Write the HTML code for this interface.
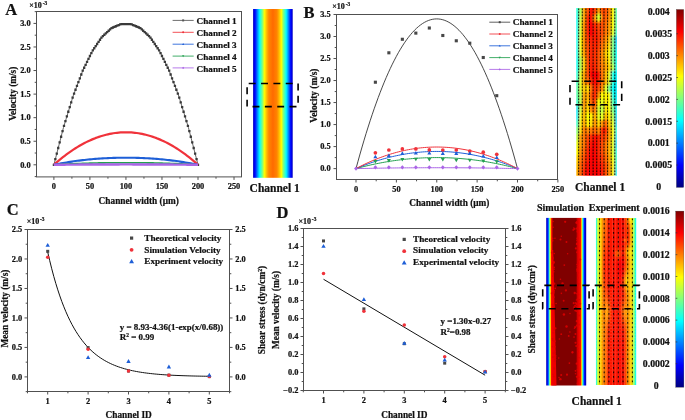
<!DOCTYPE html><html><head><meta charset="utf-8"><style>html,body{margin:0;padding:0;background:#fff;}svg{display:block;will-change:transform;}text{font-family:"Liberation Serif",serif;fill:#111;stroke:#111;stroke-width:0.22px;}</style></head><body>
<svg width="685" height="420" viewBox="0 0 685 420">
<defs>
<filter id="bl1" x="-10%" y="-10%" width="120%" height="120%"><feGaussianBlur stdDeviation="1.3"/></filter>
<filter id="bl2" x="-10%" y="-10%" width="120%" height="120%"><feGaussianBlur stdDeviation="0.7"/></filter>
<linearGradient id="cbar" x1="0" y1="0" x2="0" y2="1"><stop offset="0.000" stop-color="#800000"/><stop offset="0.025" stop-color="#990000"/><stop offset="0.050" stop-color="#b30000"/><stop offset="0.075" stop-color="#cc0000"/><stop offset="0.100" stop-color="#e50000"/><stop offset="0.125" stop-color="#ff0000"/><stop offset="0.150" stop-color="#ff1a00"/><stop offset="0.175" stop-color="#ff3300"/><stop offset="0.200" stop-color="#ff4c00"/><stop offset="0.225" stop-color="#ff6600"/><stop offset="0.250" stop-color="#ff8000"/><stop offset="0.275" stop-color="#ff9900"/><stop offset="0.300" stop-color="#ffb300"/><stop offset="0.325" stop-color="#ffcc00"/><stop offset="0.350" stop-color="#ffe500"/><stop offset="0.375" stop-color="#ffff00"/><stop offset="0.400" stop-color="#e5ff1a"/><stop offset="0.425" stop-color="#ccff33"/><stop offset="0.450" stop-color="#b3ff4c"/><stop offset="0.475" stop-color="#99ff66"/><stop offset="0.500" stop-color="#80ff80"/><stop offset="0.525" stop-color="#66ff99"/><stop offset="0.550" stop-color="#4cffb3"/><stop offset="0.575" stop-color="#33ffcc"/><stop offset="0.600" stop-color="#1affe5"/><stop offset="0.625" stop-color="#00ffff"/><stop offset="0.650" stop-color="#00e5ff"/><stop offset="0.675" stop-color="#00ccff"/><stop offset="0.700" stop-color="#00b3ff"/><stop offset="0.725" stop-color="#0099ff"/><stop offset="0.750" stop-color="#0080ff"/><stop offset="0.775" stop-color="#0066ff"/><stop offset="0.800" stop-color="#004cff"/><stop offset="0.825" stop-color="#0033ff"/><stop offset="0.850" stop-color="#001aff"/><stop offset="0.875" stop-color="#0000ff"/><stop offset="0.900" stop-color="#0000e5"/><stop offset="0.925" stop-color="#0000cc"/><stop offset="0.950" stop-color="#0000b3"/><stop offset="0.975" stop-color="#000099"/><stop offset="1.000" stop-color="#000080"/></linearGradient>
<linearGradient id="hA" x1="0" y1="0" x2="1" y2="0"><stop offset="0.000" stop-color="#0000bd"/><stop offset="0.017" stop-color="#0000d6"/><stop offset="0.033" stop-color="#0000f0"/><stop offset="0.050" stop-color="#000aff"/><stop offset="0.067" stop-color="#0028ff"/><stop offset="0.083" stop-color="#004eff"/><stop offset="0.100" stop-color="#0073ff"/><stop offset="0.117" stop-color="#0098ff"/><stop offset="0.133" stop-color="#00bbff"/><stop offset="0.150" stop-color="#00dfff"/><stop offset="0.167" stop-color="#03fffc"/><stop offset="0.183" stop-color="#21ffde"/><stop offset="0.200" stop-color="#40ffbf"/><stop offset="0.217" stop-color="#5effa1"/><stop offset="0.233" stop-color="#7cff83"/><stop offset="0.250" stop-color="#a6ff59"/><stop offset="0.267" stop-color="#d0ff2f"/><stop offset="0.283" stop-color="#fbff04"/><stop offset="0.300" stop-color="#ffed00"/><stop offset="0.317" stop-color="#ffda00"/><stop offset="0.333" stop-color="#ffc600"/><stop offset="0.350" stop-color="#ffb300"/><stop offset="0.367" stop-color="#ffa300"/><stop offset="0.383" stop-color="#ff9400"/><stop offset="0.400" stop-color="#ff8500"/><stop offset="0.417" stop-color="#ff8000"/><stop offset="0.433" stop-color="#ff7c00"/><stop offset="0.450" stop-color="#ff7800"/><stop offset="0.467" stop-color="#ff7400"/><stop offset="0.483" stop-color="#ff6f00"/><stop offset="0.500" stop-color="#ff6b00"/><stop offset="0.517" stop-color="#ff6f00"/><stop offset="0.533" stop-color="#ff7400"/><stop offset="0.550" stop-color="#ff7800"/><stop offset="0.567" stop-color="#ff7c00"/><stop offset="0.583" stop-color="#ff8000"/><stop offset="0.600" stop-color="#ff8500"/><stop offset="0.617" stop-color="#ff9400"/><stop offset="0.633" stop-color="#ffa300"/><stop offset="0.650" stop-color="#ffb300"/><stop offset="0.667" stop-color="#ffc600"/><stop offset="0.683" stop-color="#ffda00"/><stop offset="0.700" stop-color="#ffed00"/><stop offset="0.717" stop-color="#fbff04"/><stop offset="0.733" stop-color="#d0ff2f"/><stop offset="0.750" stop-color="#a6ff59"/><stop offset="0.767" stop-color="#7cff83"/><stop offset="0.783" stop-color="#5effa1"/><stop offset="0.800" stop-color="#40ffbf"/><stop offset="0.817" stop-color="#21ffde"/><stop offset="0.833" stop-color="#03fffc"/><stop offset="0.850" stop-color="#00dfff"/><stop offset="0.867" stop-color="#00bbff"/><stop offset="0.883" stop-color="#0098ff"/><stop offset="0.900" stop-color="#0073ff"/><stop offset="0.917" stop-color="#004eff"/><stop offset="0.933" stop-color="#0028ff"/><stop offset="0.950" stop-color="#000aff"/><stop offset="0.967" stop-color="#0000f0"/><stop offset="0.983" stop-color="#0000d6"/><stop offset="1.000" stop-color="#0000bd"/></linearGradient>
<linearGradient id="hS" x1="0" y1="0" x2="1" y2="0"><stop offset="0" stop-color="#0000b3"/><stop offset="0.0275" stop-color="#0000f0"/><stop offset="0.0575" stop-color="#0075ff"/><stop offset="0.07" stop-color="#00faff"/><stop offset="0.085" stop-color="#80ff80"/><stop offset="0.098" stop-color="#faff05"/><stop offset="0.115" stop-color="#ff9e00"/><stop offset="0.13" stop-color="#ff2400"/><stop offset="0.15" stop-color="#e50000"/><stop offset="0.17" stop-color="#800000"/><stop offset="0.75" stop-color="#800000"/><stop offset="0.77" stop-color="#c70000"/><stop offset="0.8" stop-color="#e50000"/><stop offset="0.86" stop-color="#ff0f00"/><stop offset="0.875" stop-color="#ff7500"/><stop offset="0.89" stop-color="#fffa00"/><stop offset="0.915" stop-color="#1affe5"/><stop offset="0.935" stop-color="#0080ff"/><stop offset="0.957" stop-color="#000fff"/><stop offset="0.975" stop-color="#0000d1"/><stop offset="1" stop-color="#0000b3"/></linearGradient>
</defs>
<text x="5.2" y="14.9" font-size="16.5" text-anchor="start" font-weight="bold" >A</text>
<text x="29.3" y="7.9" font-size="8.0" font-weight="bold">&#215;10<tspan dx="0.8" dy="-2.7" font-size="5.4">-3</tspan></text>
<rect x="36.5" y="11.5" width="205" height="165.4" fill="none" stroke="#505050" stroke-width="1"/>
<path d="M53.9,176.9v3M89.92,176.9v3M125.95,176.9v3M161.97,176.9v3M198,176.9v3M234.03,176.9v3M71.91,176.9v1.8M107.94,176.9v1.8M143.96,176.9v1.8M179.99,176.9v1.8M216.01,176.9v1.8M36.5,164.8h-3M36.5,141.24h-3M36.5,117.67h-3M36.5,94.11h-3M36.5,70.54h-3M36.5,46.98h-3M36.5,23.41h-3M36.5,176.58h-1.8M36.5,153.02h-1.8M36.5,129.45h-1.8M36.5,105.89h-1.8M36.5,82.32h-1.8M36.5,58.76h-1.8M36.5,35.19h-1.8M36.5,11.63h-1.8" stroke="#505050" stroke-width="1" fill="none"/>
<text x="53.9" y="188.8" font-size="8.4" text-anchor="middle" font-weight="bold" >0</text>
<text x="89.92" y="188.8" font-size="8.4" text-anchor="middle" font-weight="bold" >50</text>
<text x="125.95" y="188.8" font-size="8.4" text-anchor="middle" font-weight="bold" >100</text>
<text x="161.97" y="188.8" font-size="8.4" text-anchor="middle" font-weight="bold" >150</text>
<text x="198" y="188.8" font-size="8.4" text-anchor="middle" font-weight="bold" >200</text>
<text x="234.03" y="188.8" font-size="8.4" text-anchor="middle" font-weight="bold" >250</text>
<text x="30.6" y="167.57" font-size="8.4" text-anchor="end" font-weight="bold" >0.0</text>
<text x="30.6" y="144.01" font-size="8.4" text-anchor="end" font-weight="bold" >0.5</text>
<text x="30.6" y="120.44" font-size="8.4" text-anchor="end" font-weight="bold" >1.0</text>
<text x="30.6" y="96.88" font-size="8.4" text-anchor="end" font-weight="bold" >1.5</text>
<text x="30.6" y="73.31" font-size="8.4" text-anchor="end" font-weight="bold" >2.0</text>
<text x="30.6" y="49.75" font-size="8.4" text-anchor="end" font-weight="bold" >2.5</text>
<text x="30.6" y="26.18" font-size="8.4" text-anchor="end" font-weight="bold" >3.0</text>
<text x="138.7" y="204" font-size="9.3" text-anchor="middle" font-weight="bold" >Channel width (&#956;m)</text>
<text transform="translate(13,93.8) rotate(-90)" x="0" y="3.07" font-size="9.3" text-anchor="middle" font-weight="bold">Velocity (m/s)</text>
<path d="M53.9,164.8 L63.51,127.42 L73.11,96.1 L82.72,70.71 L92.33,51.07 L101.93,36.95 L111.54,28.08 L121.15,24.06 L130.75,24.06 L140.36,28.08 L149.97,36.95 L159.57,51.07 L169.18,70.71 L178.79,96.1 L188.39,127.42 L198,164.8" fill="none" stroke="#555" stroke-width="0.9" stroke-linejoin="round" />
<path d="M52.75,163.65h2.3v2.3h-2.3zM54.19,158.04h2.3v2.3h-2.3zM55.63,152.44h2.3v2.3h-2.3zM57.07,146.83h2.3v2.3h-2.3zM58.51,141.22h2.3v2.3h-2.3zM59.95,135.61h2.3v2.3h-2.3zM61.4,130.01h2.3v2.3h-2.3zM62.84,124.7h2.3v2.3h-2.3zM64.28,120h2.3v2.3h-2.3zM65.72,115.31h2.3v2.3h-2.3zM67.16,110.61h2.3v2.3h-2.3zM68.6,105.91h2.3v2.3h-2.3zM70.04,101.22h2.3v2.3h-2.3zM71.48,96.52h2.3v2.3h-2.3zM72.92,92.42h2.3v2.3h-2.3zM74.36,88.61h2.3v2.3h-2.3zM75.81,84.8h2.3v2.3h-2.3zM77.25,80.99h2.3v2.3h-2.3zM78.69,77.18h2.3v2.3h-2.3zM80.13,73.37h2.3v2.3h-2.3zM81.57,69.56h2.3v2.3h-2.3zM83.01,66.62h2.3v2.3h-2.3zM84.45,63.67h2.3v2.3h-2.3zM85.89,60.72h2.3v2.3h-2.3zM87.33,57.77h2.3v2.3h-2.3zM88.77,54.83h2.3v2.3h-2.3zM90.22,51.88h2.3v2.3h-2.3zM91.66,49.21h2.3v2.3h-2.3zM93.1,47.09h2.3v2.3h-2.3zM94.54,44.97h2.3v2.3h-2.3zM95.98,42.86h2.3v2.3h-2.3zM97.42,40.74h2.3v2.3h-2.3zM98.86,38.62h2.3v2.3h-2.3zM100.3,36.5h2.3v2.3h-2.3zM101.74,34.91h2.3v2.3h-2.3zM103.19,33.58h2.3v2.3h-2.3zM104.63,32.25h2.3v2.3h-2.3zM106.07,30.92h2.3v2.3h-2.3zM107.51,29.59h2.3v2.3h-2.3zM108.95,28.26h2.3v2.3h-2.3zM110.39,26.93h2.3v2.3h-2.3zM111.83,26.33h2.3v2.3h-2.3zM113.27,25.73h2.3v2.3h-2.3zM114.71,25.12h2.3v2.3h-2.3zM116.15,24.52h2.3v2.3h-2.3zM117.59,23.92h2.3v2.3h-2.3zM119.04,23.32h2.3v2.3h-2.3zM120.48,22.91h2.3v2.3h-2.3zM121.92,22.91h2.3v2.3h-2.3zM123.36,22.91h2.3v2.3h-2.3zM124.8,22.91h2.3v2.3h-2.3zM126.24,22.91h2.3v2.3h-2.3zM127.68,22.91h2.3v2.3h-2.3zM129.12,22.91h2.3v2.3h-2.3zM130.56,23.32h2.3v2.3h-2.3zM132,23.92h2.3v2.3h-2.3zM133.45,24.52h2.3v2.3h-2.3zM134.89,25.12h2.3v2.3h-2.3zM136.33,25.73h2.3v2.3h-2.3zM137.77,26.33h2.3v2.3h-2.3zM139.21,26.93h2.3v2.3h-2.3zM140.65,28.26h2.3v2.3h-2.3zM142.09,29.59h2.3v2.3h-2.3zM143.53,30.92h2.3v2.3h-2.3zM144.97,32.25h2.3v2.3h-2.3zM146.41,33.58h2.3v2.3h-2.3zM147.86,34.91h2.3v2.3h-2.3zM149.3,36.5h2.3v2.3h-2.3zM150.74,38.62h2.3v2.3h-2.3zM152.18,40.74h2.3v2.3h-2.3zM153.62,42.86h2.3v2.3h-2.3zM155.06,44.97h2.3v2.3h-2.3zM156.5,47.09h2.3v2.3h-2.3zM157.94,49.21h2.3v2.3h-2.3zM159.38,51.88h2.3v2.3h-2.3zM160.82,54.83h2.3v2.3h-2.3zM162.27,57.77h2.3v2.3h-2.3zM163.71,60.72h2.3v2.3h-2.3zM165.15,63.67h2.3v2.3h-2.3zM166.59,66.62h2.3v2.3h-2.3zM168.03,69.56h2.3v2.3h-2.3zM169.47,73.37h2.3v2.3h-2.3zM170.91,77.18h2.3v2.3h-2.3zM172.35,80.99h2.3v2.3h-2.3zM173.79,84.8h2.3v2.3h-2.3zM175.23,88.61h2.3v2.3h-2.3zM176.68,92.42h2.3v2.3h-2.3zM178.12,96.52h2.3v2.3h-2.3zM179.56,101.22h2.3v2.3h-2.3zM181,105.91h2.3v2.3h-2.3zM182.44,110.61h2.3v2.3h-2.3zM183.88,115.31h2.3v2.3h-2.3zM185.32,120h2.3v2.3h-2.3zM186.76,124.7h2.3v2.3h-2.3zM188.2,130.01h2.3v2.3h-2.3zM189.65,135.61h2.3v2.3h-2.3zM191.09,141.22h2.3v2.3h-2.3zM192.53,146.83h2.3v2.3h-2.3zM193.97,152.44h2.3v2.3h-2.3zM195.41,158.04h2.3v2.3h-2.3zM196.85,163.65h2.3v2.3h-2.3z" fill="#3a3a3a"/>
<path d="M53.9,164.8 L55.7,163.19 L57.5,161.63 L59.3,160.1 L61.1,158.62 L62.91,157.18 L64.71,155.78 L66.51,154.41 L68.31,153.09 L70.11,151.81 L71.91,150.57 L73.71,149.37 L75.52,148.21 L77.32,147.1 L79.12,146.02 L80.92,144.98 L82.72,143.99 L84.52,143.03 L86.32,142.12 L88.12,141.24 L89.92,140.41 L91.73,139.62 L93.53,138.87 L95.33,138.15 L97.13,137.48 L98.93,136.85 L100.73,136.26 L102.53,135.72 L104.34,135.21 L106.14,134.74 L107.94,134.31 L109.74,133.93 L111.54,133.58 L113.34,133.28 L115.14,133.01 L116.94,132.79 L118.75,132.61 L120.55,132.46 L122.35,132.36 L124.15,132.3 L125.95,132.28 L127.75,132.3 L129.55,132.36 L131.35,132.46 L133.16,132.61 L134.96,132.79 L136.76,133.01 L138.56,133.28 L140.36,133.58 L142.16,133.93 L143.96,134.31 L145.76,134.74 L147.56,135.21 L149.37,135.72 L151.17,136.26 L152.97,136.85 L154.77,137.48 L156.57,138.15 L158.37,138.87 L160.17,139.62 L161.97,140.41 L163.78,141.24 L165.58,142.12 L167.38,143.03 L169.18,143.99 L170.98,144.98 L172.78,146.02 L174.58,147.1 L176.38,148.21 L178.19,149.37 L179.99,150.57 L181.79,151.81 L183.59,153.09 L185.39,154.41 L187.19,155.78 L188.99,157.18 L190.8,158.62 L192.6,160.1 L194.4,161.63 L196.2,163.19 L198,164.8" fill="none" stroke="#f0323a" stroke-width="2.2" stroke-linejoin="round" />
<path d="M53.9,164.8 L55.7,164.43 L57.5,164.08 L59.3,163.73 L61.1,163.4 L62.91,163.07 L64.71,162.76 L66.51,162.45 L68.31,162.16 L70.11,161.87 L71.91,161.59 L73.71,161.33 L75.52,161.07 L77.32,160.83 L79.12,160.59 L80.92,160.37 L82.72,160.15 L84.52,159.94 L86.32,159.74 L88.12,159.56 L89.92,159.38 L91.73,159.21 L93.53,159.05 L95.33,158.9 L97.13,158.76 L98.93,158.63 L100.73,158.51 L102.53,158.4 L104.34,158.29 L106.14,158.2 L107.94,158.12 L109.74,158.04 L111.54,157.97 L113.34,157.91 L115.14,157.86 L116.94,157.82 L118.75,157.79 L120.55,157.76 L122.35,157.74 L124.15,157.73 L125.95,157.73 L127.75,157.73 L129.55,157.74 L131.35,157.76 L133.16,157.79 L134.96,157.82 L136.76,157.86 L138.56,157.91 L140.36,157.97 L142.16,158.04 L143.96,158.12 L145.76,158.2 L147.56,158.29 L149.37,158.4 L151.17,158.51 L152.97,158.63 L154.77,158.76 L156.57,158.9 L158.37,159.05 L160.17,159.21 L161.97,159.38 L163.78,159.56 L165.58,159.74 L167.38,159.94 L169.18,160.15 L170.98,160.37 L172.78,160.59 L174.58,160.83 L176.38,161.07 L178.19,161.33 L179.99,161.59 L181.79,161.87 L183.59,162.16 L185.39,162.45 L187.19,162.76 L188.99,163.07 L190.8,163.4 L192.6,163.73 L194.4,164.08 L196.2,164.43 L198,164.8" fill="none" stroke="#1e5fd7" stroke-width="2.1" stroke-linejoin="round" />
<path d="M53.9,164.8 L55.7,164.69 L57.5,164.57 L59.3,164.47 L61.1,164.36 L62.91,164.26 L64.71,164.16 L66.51,164.07 L68.31,163.98 L70.11,163.89 L71.91,163.81 L73.71,163.72 L75.52,163.65 L77.32,163.57 L79.12,163.5 L80.92,163.43 L82.72,163.37 L84.52,163.31 L86.32,163.25 L88.12,163.19 L89.92,163.14 L91.73,163.09 L93.53,163.05 L95.33,163 L97.13,162.96 L98.93,162.92 L100.73,162.89 L102.53,162.86 L104.34,162.83 L106.14,162.8 L107.94,162.78 L109.74,162.76 L111.54,162.74 L113.34,162.72 L115.14,162.71 L116.94,162.7 L118.75,162.69 L120.55,162.69 L122.35,162.68 L124.15,162.68 L125.95,162.68 L127.75,162.68 L129.55,162.68 L131.35,162.69 L133.16,162.69 L134.96,162.7 L136.76,162.71 L138.56,162.72 L140.36,162.74 L142.16,162.76 L143.96,162.78 L145.76,162.8 L147.56,162.83 L149.37,162.86 L151.17,162.89 L152.97,162.92 L154.77,162.96 L156.57,163 L158.37,163.05 L160.17,163.09 L161.97,163.14 L163.78,163.19 L165.58,163.25 L167.38,163.31 L169.18,163.37 L170.98,163.43 L172.78,163.5 L174.58,163.57 L176.38,163.65 L178.19,163.72 L179.99,163.81 L181.79,163.89 L183.59,163.98 L185.39,164.07 L187.19,164.16 L188.99,164.26 L190.8,164.36 L192.6,164.47 L194.4,164.57 L196.2,164.69 L198,164.8" fill="none" stroke="#23a050" stroke-width="1.6" stroke-linejoin="round" />
<path d="M53.9,164.8 L55.7,164.78 L57.5,164.76 L59.3,164.74 L61.1,164.72 L62.91,164.7 L64.71,164.69 L66.51,164.67 L68.31,164.65 L70.11,164.64 L71.91,164.62 L73.71,164.61 L75.52,164.59 L77.32,164.58 L79.12,164.57 L80.92,164.56 L82.72,164.55 L84.52,164.53 L86.32,164.52 L88.12,164.51 L89.92,164.51 L91.73,164.5 L93.53,164.49 L95.33,164.48 L97.13,164.47 L98.93,164.47 L100.73,164.46 L102.53,164.45 L104.34,164.45 L106.14,164.44 L107.94,164.44 L109.74,164.44 L111.54,164.43 L113.34,164.43 L115.14,164.43 L116.94,164.43 L118.75,164.43 L120.55,164.42 L122.35,164.42 L124.15,164.42 L125.95,164.42 L127.75,164.42 L129.55,164.42 L131.35,164.42 L133.16,164.43 L134.96,164.43 L136.76,164.43 L138.56,164.43 L140.36,164.43 L142.16,164.44 L143.96,164.44 L145.76,164.44 L147.56,164.45 L149.37,164.45 L151.17,164.46 L152.97,164.47 L154.77,164.47 L156.57,164.48 L158.37,164.49 L160.17,164.5 L161.97,164.51 L163.78,164.51 L165.58,164.52 L167.38,164.53 L169.18,164.55 L170.98,164.56 L172.78,164.57 L174.58,164.58 L176.38,164.59 L178.19,164.61 L179.99,164.62 L181.79,164.64 L183.59,164.65 L185.39,164.67 L187.19,164.69 L188.99,164.7 L190.8,164.72 L192.6,164.74 L194.4,164.76 L196.2,164.78 L198,164.8" fill="none" stroke="#aa64e6" stroke-width="2.4" stroke-linejoin="round" />
<line x1="172.6" y1="20.4" x2="193.7" y2="20.4" stroke="#555" stroke-width="1" opacity="0.85"/>
<rect x="182.15" y="19.4" width="2" height="2" fill="#555"/>
<text x="196.6" y="24.08" font-size="9.2" text-anchor="start" font-weight="bold" >Channel 1</text>
<line x1="172.6" y1="32.3" x2="193.7" y2="32.3" stroke="#f0323a" stroke-width="1" opacity="0.85"/>
<circle cx="183.15" cy="32.3" r="1" fill="#f0323a"/>
<text x="196.6" y="35.98" font-size="9.2" text-anchor="start" font-weight="bold" >Channel 2</text>
<line x1="172.6" y1="44.2" x2="193.7" y2="44.2" stroke="#1e5fd7" stroke-width="1" opacity="0.85"/>
<path d="M183.15,43.05L184.25,44.95L182.05,44.95Z" fill="#1e5fd7"/>
<text x="196.6" y="47.88" font-size="9.2" text-anchor="start" font-weight="bold" >Channel 3</text>
<line x1="172.6" y1="56.1" x2="193.7" y2="56.1" stroke="#23a050" stroke-width="1" opacity="0.85"/>
<path d="M183.15,57.25L184.25,55.35L182.05,55.35Z" fill="#23a050"/>
<text x="196.6" y="59.78" font-size="9.2" text-anchor="start" font-weight="bold" >Channel 4</text>
<line x1="172.6" y1="67.9" x2="193.7" y2="67.9" stroke="#aa64e6" stroke-width="1" opacity="0.85"/>
<path d="M183.15,66.7L184.25,67.9L183.15,69.1L182.05,67.9Z" fill="#aa64e6"/>
<text x="196.6" y="71.58" font-size="9.2" text-anchor="start" font-weight="bold" >Channel 5</text>
<rect x="253.1" y="9.0" width="39.6" height="168.8" fill="url(#hA)"/>
<rect x="247.1" y="83.5" width="51" height="23.1" fill="none" stroke="#000" stroke-width="1.6" stroke-dasharray="6.92 5.43" stroke-dashoffset="10.75"/>
<text x="274.7" y="191.6" font-size="11.5" text-anchor="middle" font-weight="bold" >Channel 1</text>
<text x="303.5" y="18" font-size="16.5" text-anchor="start" font-weight="bold" >B</text>
<text x="332.3" y="8.5" font-size="8.0" font-weight="bold">&#215;10<tspan dx="0.8" dy="-2.7" font-size="5.4">-3</tspan></text>
<rect x="336.5" y="14.5" width="221" height="165" fill="none" stroke="#505050" stroke-width="1"/>
<path d="M356,179.5v3M396.38,179.5v3M436.75,179.5v3M477.12,179.5v3M517.5,179.5v3M557.88,179.5v3M376.19,179.5v1.8M416.56,179.5v1.8M456.94,179.5v1.8M497.31,179.5v1.8M537.69,179.5v1.8M336.5,168.6h-3M336.5,146.58h-3M336.5,124.57h-3M336.5,102.55h-3M336.5,80.54h-3M336.5,58.52h-3M336.5,36.51h-3M336.5,14.49h-3M336.5,157.59h-1.8M336.5,135.58h-1.8M336.5,113.56h-1.8M336.5,91.55h-1.8M336.5,69.53h-1.8M336.5,47.52h-1.8M336.5,25.5h-1.8" stroke="#505050" stroke-width="1" fill="none"/>
<text x="356" y="192" font-size="8.4" text-anchor="middle" font-weight="bold" >0</text>
<text x="396.38" y="192" font-size="8.4" text-anchor="middle" font-weight="bold" >50</text>
<text x="436.75" y="192" font-size="8.4" text-anchor="middle" font-weight="bold" >100</text>
<text x="477.12" y="192" font-size="8.4" text-anchor="middle" font-weight="bold" >150</text>
<text x="517.5" y="192" font-size="8.4" text-anchor="middle" font-weight="bold" >200</text>
<text x="557.88" y="192" font-size="8.4" text-anchor="middle" font-weight="bold" >250</text>
<text x="330.6" y="171.37" font-size="8.4" text-anchor="end" font-weight="bold" >0.0</text>
<text x="330.6" y="149.36" font-size="8.4" text-anchor="end" font-weight="bold" >0.5</text>
<text x="330.6" y="127.34" font-size="8.4" text-anchor="end" font-weight="bold" >1.0</text>
<text x="330.6" y="105.33" font-size="8.4" text-anchor="end" font-weight="bold" >1.5</text>
<text x="330.6" y="83.31" font-size="8.4" text-anchor="end" font-weight="bold" >2.0</text>
<text x="330.6" y="61.3" font-size="8.4" text-anchor="end" font-weight="bold" >2.5</text>
<text x="330.6" y="39.28" font-size="8.4" text-anchor="end" font-weight="bold" >3.0</text>
<text x="330.6" y="17.27" font-size="8.4" text-anchor="end" font-weight="bold" >3.5</text>
<text x="449.3" y="205.7" font-size="9.3" text-anchor="middle" font-weight="bold" >Channel width (&#956;m)</text>
<text transform="translate(314,95.6) rotate(-90)" x="0" y="3.07" font-size="9.3" text-anchor="middle" font-weight="bold">Velocity (m/s)</text>
<path d="M356,168.6 L358.02,168.56 L360.04,168.51 L362.06,168.47 L364.07,168.43 L366.09,168.39 L368.11,168.36 L370.13,168.32 L372.15,168.28 L374.17,168.25 L376.19,168.21 L378.21,168.18 L380.23,168.15 L382.24,168.12 L384.26,168.09 L386.28,168.06 L388.3,168.04 L390.32,168.01 L392.34,167.99 L394.36,167.96 L396.38,167.94 L398.39,167.92 L400.41,167.9 L402.43,167.88 L404.45,167.86 L406.47,167.84 L408.49,167.83 L410.51,167.81 L412.52,167.8 L414.54,167.79 L416.56,167.77 L418.58,167.76 L420.6,167.75 L422.62,167.75 L424.64,167.74 L426.66,167.73 L428.68,167.73 L430.69,167.72 L432.71,167.72 L434.73,167.72 L436.75,167.72 L438.77,167.72 L440.79,167.72 L442.81,167.72 L444.82,167.73 L446.84,167.73 L448.86,167.74 L450.88,167.75 L452.9,167.75 L454.92,167.76 L456.94,167.77 L458.96,167.79 L460.98,167.8 L462.99,167.81 L465.01,167.83 L467.03,167.84 L469.05,167.86 L471.07,167.88 L473.09,167.9 L475.11,167.92 L477.12,167.94 L479.14,167.96 L481.16,167.99 L483.18,168.01 L485.2,168.04 L487.22,168.06 L489.24,168.09 L491.26,168.12 L493.27,168.15 L495.29,168.18 L497.31,168.21 L499.33,168.25 L501.35,168.28 L503.37,168.32 L505.39,168.36 L507.41,168.39 L509.43,168.43 L511.44,168.47 L513.46,168.51 L515.48,168.56 L517.5,168.6" fill="none" stroke="#aa64e6" stroke-width="1.0" stroke-linejoin="round" />
<path d="M356,168.6 L358.02,168.06 L360.04,167.53 L362.06,167.01 L364.07,166.51 L366.09,166.02 L368.11,165.55 L370.13,165.08 L372.15,164.64 L374.17,164.2 L376.19,163.78 L378.21,163.38 L380.23,162.99 L382.24,162.61 L384.26,162.24 L386.28,161.89 L388.3,161.56 L390.32,161.23 L392.34,160.92 L394.36,160.63 L396.38,160.34 L398.39,160.08 L400.41,159.82 L402.43,159.58 L404.45,159.35 L406.47,159.14 L408.49,158.94 L410.51,158.76 L412.52,158.58 L414.54,158.42 L416.56,158.28 L418.58,158.15 L420.6,158.03 L422.62,157.93 L424.64,157.84 L426.66,157.76 L428.68,157.7 L430.69,157.65 L432.71,157.62 L434.73,157.6 L436.75,157.59 L438.77,157.6 L440.79,157.62 L442.81,157.65 L444.82,157.7 L446.84,157.76 L448.86,157.84 L450.88,157.93 L452.9,158.03 L454.92,158.15 L456.94,158.28 L458.96,158.42 L460.98,158.58 L462.99,158.76 L465.01,158.94 L467.03,159.14 L469.05,159.35 L471.07,159.58 L473.09,159.82 L475.11,160.08 L477.12,160.34 L479.14,160.63 L481.16,160.92 L483.18,161.23 L485.2,161.56 L487.22,161.89 L489.24,162.24 L491.26,162.61 L493.27,162.99 L495.29,163.38 L497.31,163.78 L499.33,164.2 L501.35,164.64 L503.37,165.08 L505.39,165.55 L507.41,166.02 L509.43,166.51 L511.44,167.01 L513.46,167.53 L515.48,168.06 L517.5,168.6" fill="none" stroke="#23a050" stroke-width="1.0" stroke-linejoin="round" />
<path d="M356,168.6 L358.02,167.75 L360.04,166.93 L362.06,166.12 L364.07,165.34 L366.09,164.58 L368.11,163.83 L370.13,163.12 L372.15,162.42 L374.17,161.74 L376.19,161.09 L378.21,160.45 L380.23,159.84 L382.24,159.25 L384.26,158.68 L386.28,158.14 L388.3,157.61 L390.32,157.11 L392.34,156.62 L394.36,156.16 L396.38,155.72 L398.39,155.3 L400.41,154.91 L402.43,154.53 L404.45,154.18 L406.47,153.84 L408.49,153.53 L410.51,153.24 L412.52,152.97 L414.54,152.73 L416.56,152.5 L418.58,152.3 L420.6,152.12 L422.62,151.95 L424.64,151.81 L426.66,151.7 L428.68,151.6 L430.69,151.52 L432.71,151.47 L434.73,151.44 L436.75,151.43 L438.77,151.44 L440.79,151.47 L442.81,151.52 L444.82,151.6 L446.84,151.7 L448.86,151.81 L450.88,151.95 L452.9,152.12 L454.92,152.3 L456.94,152.5 L458.96,152.73 L460.98,152.97 L462.99,153.24 L465.01,153.53 L467.03,153.84 L469.05,154.18 L471.07,154.53 L473.09,154.91 L475.11,155.3 L477.12,155.72 L479.14,156.16 L481.16,156.62 L483.18,157.11 L485.2,157.61 L487.22,158.14 L489.24,158.68 L491.26,159.25 L493.27,159.84 L495.29,160.45 L497.31,161.09 L499.33,161.74 L501.35,162.42 L503.37,163.12 L505.39,163.83 L507.41,164.58 L509.43,165.34 L511.44,166.12 L513.46,166.93 L515.48,167.75 L517.5,168.6" fill="none" stroke="#1e5fd7" stroke-width="1.0" stroke-linejoin="round" />
<path d="M356,168.6 L358.02,167.53 L360.04,166.5 L362.06,165.49 L364.07,164.5 L366.09,163.54 L368.11,162.61 L370.13,161.71 L372.15,160.83 L374.17,159.98 L376.19,159.16 L378.21,158.37 L380.23,157.6 L382.24,156.86 L384.26,156.14 L386.28,155.45 L388.3,154.79 L390.32,154.16 L392.34,153.55 L394.36,152.97 L396.38,152.42 L398.39,151.89 L400.41,151.39 L402.43,150.92 L404.45,150.48 L406.47,150.06 L408.49,149.67 L410.51,149.3 L412.52,148.97 L414.54,148.66 L416.56,148.37 L418.58,148.12 L420.6,147.89 L422.62,147.69 L424.64,147.51 L426.66,147.36 L428.68,147.24 L430.69,147.15 L432.71,147.08 L434.73,147.04 L436.75,147.03 L438.77,147.04 L440.79,147.08 L442.81,147.15 L444.82,147.24 L446.84,147.36 L448.86,147.51 L450.88,147.69 L452.9,147.89 L454.92,148.12 L456.94,148.37 L458.96,148.66 L460.98,148.97 L462.99,149.3 L465.01,149.67 L467.03,150.06 L469.05,150.48 L471.07,150.92 L473.09,151.39 L475.11,151.89 L477.12,152.42 L479.14,152.97 L481.16,153.55 L483.18,154.16 L485.2,154.79 L487.22,155.45 L489.24,156.14 L491.26,156.86 L493.27,157.6 L495.29,158.37 L497.31,159.16 L499.33,159.98 L501.35,160.83 L503.37,161.71 L505.39,162.61 L507.41,163.54 L509.43,164.5 L511.44,165.49 L513.46,166.5 L515.48,167.53 L517.5,168.6" fill="none" stroke="#f0323a" stroke-width="1.0" stroke-linejoin="round" />
<path d="M356,168.6 L358.02,161.21 L360.04,154 L362.06,146.99 L364.07,140.16 L366.09,133.51 L368.11,127.06 L370.13,120.79 L372.15,114.71 L374.17,108.81 L376.19,103.11 L378.21,97.59 L380.23,92.25 L382.24,87.11 L384.26,82.15 L386.28,77.38 L388.3,72.79 L390.32,68.39 L392.34,64.18 L394.36,60.16 L396.38,56.32 L398.39,52.67 L400.41,49.21 L402.43,45.94 L404.45,42.85 L406.47,39.95 L408.49,37.24 L410.51,34.71 L412.52,32.37 L414.54,30.22 L416.56,28.25 L418.58,26.48 L420.6,24.89 L422.62,23.48 L424.64,22.27 L426.66,21.24 L428.68,20.4 L430.69,19.74 L432.71,19.27 L434.73,18.99 L436.75,18.9 L438.77,18.99 L440.79,19.27 L442.81,19.74 L444.82,20.4 L446.84,21.24 L448.86,22.27 L450.88,23.48 L452.9,24.89 L454.92,26.48 L456.94,28.25 L458.96,30.22 L460.98,32.37 L462.99,34.71 L465.01,37.24 L467.03,39.95 L469.05,42.85 L471.07,45.94 L473.09,49.21 L475.11,52.67 L477.12,56.32 L479.14,60.16 L481.16,64.18 L483.18,68.39 L485.2,72.79 L487.22,77.38 L489.24,82.15 L491.26,87.11 L493.27,92.25 L495.29,97.59 L497.31,103.11 L499.33,108.81 L501.35,114.71 L503.37,120.79 L505.39,127.06 L507.41,133.51 L509.43,140.16 L511.44,146.99 L513.46,154 L515.48,161.21 L517.5,168.6" fill="none" stroke="#333" stroke-width="0.9" stroke-linejoin="round" />
<rect x="373.83" y="80.66" width="3.1" height="3.1" fill="#474747"/>
<rect x="387.32" y="51.25" width="3.1" height="3.1" fill="#474747"/>
<rect x="400.8" y="37.73" width="3.1" height="3.1" fill="#474747"/>
<rect x="414.29" y="31.57" width="3.1" height="3.1" fill="#474747"/>
<rect x="427.77" y="26.46" width="3.1" height="3.1" fill="#474747"/>
<rect x="441.26" y="33.95" width="3.1" height="3.1" fill="#474747"/>
<rect x="454.74" y="39.23" width="3.1" height="3.1" fill="#474747"/>
<rect x="468.23" y="41.65" width="3.1" height="3.1" fill="#474747"/>
<rect x="481.71" y="55.96" width="3.1" height="3.1" fill="#474747"/>
<rect x="495.2" y="94.14" width="3.1" height="3.1" fill="#474747"/>
<circle cx="375.38" cy="152.79" r="1.85" fill="#f0323a"/>
<circle cx="388.87" cy="150.02" r="1.85" fill="#f0323a"/>
<circle cx="402.35" cy="148.92" r="1.85" fill="#f0323a"/>
<circle cx="415.84" cy="148.92" r="1.85" fill="#f0323a"/>
<circle cx="429.32" cy="149.89" r="1.85" fill="#f0323a"/>
<circle cx="442.81" cy="150.02" r="1.85" fill="#f0323a"/>
<circle cx="456.29" cy="150.02" r="1.85" fill="#f0323a"/>
<circle cx="469.78" cy="151.12" r="1.85" fill="#f0323a"/>
<circle cx="483.26" cy="152.22" r="1.85" fill="#f0323a"/>
<circle cx="496.75" cy="154.29" r="1.85" fill="#f0323a"/>
<path d="M375.38,154.76L377.42,158.28L373.34,158.28Z" fill="#1e5fd7"/>
<path d="M388.87,153.57L390.9,157.09L386.83,157.09Z" fill="#1e5fd7"/>
<path d="M402.35,151.37L404.39,154.89L400.32,154.89Z" fill="#1e5fd7"/>
<path d="M415.84,150.89L417.87,154.4L413.8,154.4Z" fill="#1e5fd7"/>
<path d="M429.32,151.06L431.36,154.58L427.29,154.58Z" fill="#1e5fd7"/>
<path d="M442.81,151.37L444.84,154.89L440.77,154.89Z" fill="#1e5fd7"/>
<path d="M456.29,151.37L458.33,154.89L454.26,154.89Z" fill="#1e5fd7"/>
<path d="M469.78,151.37L471.81,154.89L467.74,154.89Z" fill="#1e5fd7"/>
<path d="M483.26,154.06L485.3,157.57L481.23,157.57Z" fill="#1e5fd7"/>
<path d="M496.75,155.47L498.78,158.98L494.71,158.98Z" fill="#1e5fd7"/>
<path d="M375.38,163.42L377.42,159.9L373.34,159.9Z" fill="#23a050"/>
<path d="M388.87,162.63L390.9,159.11L386.83,159.11Z" fill="#23a050"/>
<path d="M402.35,161.61L404.39,158.1L400.32,158.1Z" fill="#23a050"/>
<path d="M415.84,161.22L417.87,157.7L413.8,157.7Z" fill="#23a050"/>
<path d="M429.32,161.53L431.36,158.01L427.29,158.01Z" fill="#23a050"/>
<path d="M442.81,161.61L444.84,158.1L440.77,158.1Z" fill="#23a050"/>
<path d="M456.29,162.23L458.33,158.71L454.26,158.71Z" fill="#23a050"/>
<path d="M469.78,162.23L471.81,158.71L467.74,158.71Z" fill="#23a050"/>
<path d="M483.26,163.11L485.3,159.6L481.23,159.6Z" fill="#23a050"/>
<path d="M496.75,163.73L498.78,160.21L494.71,160.21Z" fill="#23a050"/>
<path d="M356,166.5L357.93,168.6L356,170.7L354.07,168.6Z" fill="#aa64e6"/>
<path d="M375.38,165.18L377.31,167.28L375.38,169.38L373.45,167.28Z" fill="#aa64e6"/>
<path d="M388.87,165.18L390.79,167.28L388.87,169.38L386.94,167.28Z" fill="#aa64e6"/>
<path d="M402.35,165.18L404.28,167.28L402.35,169.38L400.43,167.28Z" fill="#aa64e6"/>
<path d="M415.84,165.18L417.76,167.28L415.84,169.38L413.91,167.28Z" fill="#aa64e6"/>
<path d="M429.32,165.18L431.25,167.28L429.32,169.38L427.4,167.28Z" fill="#aa64e6"/>
<path d="M442.81,165.18L444.73,167.28L442.81,169.38L440.88,167.28Z" fill="#aa64e6"/>
<path d="M456.29,165.18L458.22,167.28L456.29,169.38L454.37,167.28Z" fill="#aa64e6"/>
<path d="M469.78,165.18L471.7,167.28L469.78,169.38L467.85,167.28Z" fill="#aa64e6"/>
<path d="M483.26,165.18L485.19,167.28L483.26,169.38L481.34,167.28Z" fill="#aa64e6"/>
<path d="M496.75,165.18L498.67,167.28L496.75,169.38L494.82,167.28Z" fill="#aa64e6"/>
<path d="M517.5,166.5L519.42,168.6L517.5,170.7L515.58,168.6Z" fill="#aa64e6"/>
<line x1="489.3" y1="22.2" x2="510.2" y2="22.2" stroke="#444" stroke-width="1" opacity="0.85"/>
<rect x="498.75" y="21.2" width="2" height="2" fill="#444"/>
<text x="512.8" y="25.42" font-size="9.2" text-anchor="start" font-weight="bold" >Channel 1</text>
<line x1="489.3" y1="34" x2="510.2" y2="34" stroke="#f0323a" stroke-width="1" opacity="0.85"/>
<circle cx="499.75" cy="34" r="1" fill="#f0323a"/>
<text x="512.8" y="37.22" font-size="9.2" text-anchor="start" font-weight="bold" >Channel 2</text>
<line x1="489.3" y1="45.8" x2="510.2" y2="45.8" stroke="#1e5fd7" stroke-width="1" opacity="0.85"/>
<path d="M499.75,44.65L500.85,46.55L498.65,46.55Z" fill="#1e5fd7"/>
<text x="512.8" y="49.02" font-size="9.2" text-anchor="start" font-weight="bold" >Channel 3</text>
<line x1="489.3" y1="57.6" x2="510.2" y2="57.6" stroke="#23a050" stroke-width="1" opacity="0.85"/>
<path d="M499.75,58.75L500.85,56.85L498.65,56.85Z" fill="#23a050"/>
<text x="512.8" y="60.82" font-size="9.2" text-anchor="start" font-weight="bold" >Channel 4</text>
<line x1="489.3" y1="69.4" x2="510.2" y2="69.4" stroke="#aa64e6" stroke-width="1" opacity="0.85"/>
<path d="M499.75,68.2L500.85,69.4L499.75,70.6L498.65,69.4Z" fill="#aa64e6"/>
<text x="512.8" y="72.62" font-size="9.2" text-anchor="start" font-weight="bold" >Channel 5</text>
<text x="600.1" y="190.8" font-size="11.5" text-anchor="middle" font-weight="bold" >Channel 1</text>
<text x="6.8" y="215" font-size="16.5" text-anchor="start" font-weight="bold" >C</text>
<text x="26.7" y="224" font-size="8.0" font-weight="bold">&#215;10<tspan dx="0.8" dy="-2.7" font-size="5.4">-3</tspan></text>
<rect x="27.5" y="229.5" width="202" height="162" fill="none" stroke="#505050" stroke-width="1"/>
<path d="M47.7,391.5v3M88.1,391.5v3M128.5,391.5v3M168.9,391.5v3M209.3,391.5v3M27.5,391.5v1.8M67.9,391.5v1.8M108.3,391.5v1.8M148.7,391.5v1.8M189.1,391.5v1.8M229.5,391.5v1.8M27.5,376.9h-3M229.5,376.9h3M27.5,347.42h-3M229.5,347.42h3M27.5,317.94h-3M229.5,317.94h3M27.5,288.46h-3M229.5,288.46h3M27.5,258.98h-3M229.5,258.98h3M27.5,229.5h-3M229.5,229.5h3M27.5,391.64h-1.8M229.5,391.64h1.8M27.5,362.16h-1.8M229.5,362.16h1.8M27.5,332.68h-1.8M229.5,332.68h1.8M27.5,303.2h-1.8M229.5,303.2h1.8M27.5,273.72h-1.8M229.5,273.72h1.8M27.5,244.24h-1.8M229.5,244.24h1.8" stroke="#505050" stroke-width="1" fill="none"/>
<text x="47.7" y="404.1" font-size="8.4" text-anchor="middle" font-weight="bold" >1</text>
<text x="88.1" y="404.1" font-size="8.4" text-anchor="middle" font-weight="bold" >2</text>
<text x="128.5" y="404.1" font-size="8.4" text-anchor="middle" font-weight="bold" >3</text>
<text x="168.9" y="404.1" font-size="8.4" text-anchor="middle" font-weight="bold" >4</text>
<text x="209.3" y="404.1" font-size="8.4" text-anchor="middle" font-weight="bold" >5</text>
<text x="22.3" y="379.67" font-size="8.4" text-anchor="end" font-weight="bold" >0.0</text>
<text x="235.2" y="379.67" font-size="8.4" text-anchor="start" font-weight="bold" >0.0</text>
<text x="22.3" y="350.19" font-size="8.4" text-anchor="end" font-weight="bold" >0.5</text>
<text x="235.2" y="350.19" font-size="8.4" text-anchor="start" font-weight="bold" >0.5</text>
<text x="22.3" y="320.71" font-size="8.4" text-anchor="end" font-weight="bold" >1.0</text>
<text x="235.2" y="320.71" font-size="8.4" text-anchor="start" font-weight="bold" >1.0</text>
<text x="22.3" y="291.23" font-size="8.4" text-anchor="end" font-weight="bold" >1.5</text>
<text x="235.2" y="291.23" font-size="8.4" text-anchor="start" font-weight="bold" >1.5</text>
<text x="22.3" y="261.75" font-size="8.4" text-anchor="end" font-weight="bold" >2.0</text>
<text x="235.2" y="261.75" font-size="8.4" text-anchor="start" font-weight="bold" >2.0</text>
<text x="22.3" y="232.27" font-size="8.4" text-anchor="end" font-weight="bold" >2.5</text>
<text x="235.2" y="232.27" font-size="8.4" text-anchor="start" font-weight="bold" >2.5</text>
<text x="128.7" y="418.2" font-size="9.3" text-anchor="middle" font-weight="bold" >Channel ID</text>
<text transform="translate(4.6,308.6) rotate(-90)" x="0" y="3.07" font-size="9.3" text-anchor="middle" font-weight="bold">Mean velocity (m/s)</text>
<path d="M47.7,251.96 L49.72,260.68 L51.74,268.79 L53.76,276.33 L55.78,283.34 L57.8,289.87 L59.82,295.93 L61.84,301.58 L63.86,306.82 L65.88,311.71 L67.9,316.25 L69.92,320.47 L71.94,324.4 L73.96,328.05 L75.98,331.45 L78,334.61 L80.02,337.55 L82.04,340.28 L84.06,342.83 L86.08,345.19 L88.1,347.39 L90.12,349.44 L92.14,351.34 L94.16,353.11 L96.18,354.76 L98.2,356.29 L100.22,357.71 L102.24,359.04 L104.26,360.27 L106.28,361.42 L108.3,362.48 L110.32,363.47 L112.34,364.4 L114.36,365.25 L116.38,366.05 L118.4,366.79 L120.42,367.48 L122.44,368.12 L124.46,368.72 L126.48,369.28 L128.5,369.79 L130.52,370.27 L132.54,370.72 L134.56,371.14 L136.58,371.52 L138.6,371.88 L140.62,372.22 L142.64,372.53 L144.66,372.82 L146.68,373.08 L148.7,373.33 L150.72,373.57 L152.74,373.78 L154.76,373.99 L156.78,374.17 L158.8,374.35 L160.82,374.51 L162.84,374.66 L164.86,374.8 L166.88,374.93 L168.9,375.05 L170.92,375.16 L172.94,375.27 L174.96,375.37 L176.98,375.46 L179,375.54 L181.02,375.62 L183.04,375.69 L185.06,375.76 L187.08,375.82 L189.1,375.88 L191.12,375.94 L193.14,375.99 L195.16,376.04 L197.18,376.08 L199.2,376.12 L201.22,376.16 L203.24,376.19 L205.26,376.23 L207.28,376.26 L209.3,376.29" fill="none" stroke="#111" stroke-width="1.0" stroke-linejoin="round" />
<rect x="46.2" y="249.82" width="3" height="3" fill="#474747"/>
<circle cx="47.7" cy="257.21" r="1.75" fill="#f0323a"/>
<path d="M47.7,243L49.9,246.8L45.5,246.8Z" fill="#1e5fd7"/>
<rect x="86.6" y="346.1" width="3" height="3" fill="#474747"/>
<circle cx="88.1" cy="349.19" r="1.75" fill="#f0323a"/>
<path d="M88.1,355.14L90.3,358.94L85.9,358.94Z" fill="#1e5fd7"/>
<rect x="127" y="369.5" width="3" height="3" fill="#474747"/>
<circle cx="128.5" cy="371.12" r="1.75" fill="#f0323a"/>
<path d="M128.5,359.09L130.7,362.89L126.3,362.89Z" fill="#1e5fd7"/>
<rect x="167.4" y="373.63" width="3" height="3" fill="#474747"/>
<circle cx="168.9" cy="375.13" r="1.75" fill="#f0323a"/>
<path d="M168.9,364.58L171.1,368.38L166.7,368.38Z" fill="#1e5fd7"/>
<rect x="207.8" y="375.11" width="3" height="3" fill="#474747"/>
<circle cx="209.3" cy="376.61" r="1.75" fill="#f0323a"/>
<path d="M209.3,372.83L211.5,376.63L207.1,376.63Z" fill="#1e5fd7"/>
<rect x="130" y="236.5" width="3.2" height="3.2" fill="#474747"/>
<text x="144.3" y="241" font-size="9.2" text-anchor="start" font-weight="bold" >Theoretical velocity</text>
<circle cx="131.6" cy="249.8" r="1.9" fill="#f0323a"/>
<text x="144.3" y="252.5" font-size="9.2" text-anchor="start" font-weight="bold" >Simulation Velocity</text>
<path d="M131.6,258.97L134.02,263.15L129.18,263.15Z" fill="#1e5fd7"/>
<text x="144.3" y="264.1" font-size="9.2" text-anchor="start" font-weight="bold" >Experiment velocity</text>
<text x="119.7" y="329.8" font-size="8.95" text-anchor="start" font-weight="bold" >y = 8.93-4.36(1-exp(x/0.68))</text>
<text x="119.7" y="340" font-size="8.95" font-weight="bold">R<tspan dy="-3" font-size="5.5">2</tspan><tspan dy="3"> = 0.99</tspan></text>
<text x="276.5" y="218.3" font-size="16.5" text-anchor="start" font-weight="bold" >D</text>
<text x="298.5" y="223.5" font-size="8.0" font-weight="bold">&#215;10<tspan dx="0.8" dy="-2.7" font-size="5.4">-3</tspan></text>
<rect x="303.5" y="228.5" width="202" height="162" fill="none" stroke="#505050" stroke-width="1"/>
<path d="M323.5,390.5v3M363.9,390.5v3M404.3,390.5v3M444.7,390.5v3M485.1,390.5v3M303.3,390.5v1.8M343.7,390.5v1.8M384.1,390.5v1.8M424.5,390.5v1.8M464.9,390.5v1.8M505.3,390.5v1.8M303.5,390.5h-3M505.5,390.5h3M303.5,372.5h-3M505.5,372.5h3M303.5,354.5h-3M505.5,354.5h3M303.5,336.5h-3M505.5,336.5h3M303.5,318.5h-3M505.5,318.5h3M303.5,300.5h-3M505.5,300.5h3M303.5,282.5h-3M505.5,282.5h3M303.5,264.5h-3M505.5,264.5h3M303.5,246.5h-3M505.5,246.5h3M303.5,228.5h-3M505.5,228.5h3M303.5,381.5h-1.8M505.5,381.5h1.8M303.5,363.5h-1.8M505.5,363.5h1.8M303.5,345.5h-1.8M505.5,345.5h1.8M303.5,327.5h-1.8M505.5,327.5h1.8M303.5,309.5h-1.8M505.5,309.5h1.8M303.5,291.5h-1.8M505.5,291.5h1.8M303.5,273.5h-1.8M505.5,273.5h1.8M303.5,255.5h-1.8M505.5,255.5h1.8M303.5,237.5h-1.8M505.5,237.5h1.8" stroke="#505050" stroke-width="1" fill="none"/>
<text x="323.5" y="402.9" font-size="8.4" text-anchor="middle" font-weight="bold" >1</text>
<text x="363.9" y="402.9" font-size="8.4" text-anchor="middle" font-weight="bold" >2</text>
<text x="404.3" y="402.9" font-size="8.4" text-anchor="middle" font-weight="bold" >3</text>
<text x="444.7" y="402.9" font-size="8.4" text-anchor="middle" font-weight="bold" >4</text>
<text x="485.1" y="402.9" font-size="8.4" text-anchor="middle" font-weight="bold" >5</text>
<text x="298.5" y="393.27" font-size="8.4" text-anchor="end" font-weight="bold" >&#8722;0.2</text>
<text x="511" y="393.27" font-size="8.4" text-anchor="start" font-weight="bold" >&#8722;0.2</text>
<text x="298.5" y="375.27" font-size="8.4" text-anchor="end" font-weight="bold" >0.0</text>
<text x="511" y="375.27" font-size="8.4" text-anchor="start" font-weight="bold" >0.0</text>
<text x="298.5" y="357.27" font-size="8.4" text-anchor="end" font-weight="bold" >0.2</text>
<text x="511" y="357.27" font-size="8.4" text-anchor="start" font-weight="bold" >0.2</text>
<text x="298.5" y="339.27" font-size="8.4" text-anchor="end" font-weight="bold" >0.4</text>
<text x="511" y="339.27" font-size="8.4" text-anchor="start" font-weight="bold" >0.4</text>
<text x="298.5" y="321.27" font-size="8.4" text-anchor="end" font-weight="bold" >0.6</text>
<text x="511" y="321.27" font-size="8.4" text-anchor="start" font-weight="bold" >0.6</text>
<text x="298.5" y="303.27" font-size="8.4" text-anchor="end" font-weight="bold" >0.8</text>
<text x="511" y="303.27" font-size="8.4" text-anchor="start" font-weight="bold" >0.8</text>
<text x="298.5" y="285.27" font-size="8.4" text-anchor="end" font-weight="bold" >1.0</text>
<text x="511" y="285.27" font-size="8.4" text-anchor="start" font-weight="bold" >1.0</text>
<text x="298.5" y="267.27" font-size="8.4" text-anchor="end" font-weight="bold" >1.2</text>
<text x="511" y="267.27" font-size="8.4" text-anchor="start" font-weight="bold" >1.2</text>
<text x="298.5" y="249.27" font-size="8.4" text-anchor="end" font-weight="bold" >1.4</text>
<text x="511" y="249.27" font-size="8.4" text-anchor="start" font-weight="bold" >1.4</text>
<text x="298.5" y="231.27" font-size="8.4" text-anchor="end" font-weight="bold" >1.6</text>
<text x="511" y="231.27" font-size="8.4" text-anchor="start" font-weight="bold" >1.6</text>
<text x="404.3" y="417.7" font-size="9.3" text-anchor="middle" font-weight="bold" >Channel ID</text>
<text transform="translate(262.4,310) rotate(-90)" x="0" y="3.07" font-size="9.3" text-anchor="middle" font-weight="bold">Shear stress (dyn/cm<tspan dy="-3" font-size="5.8">2</tspan><tspan dy="3">)</tspan></text>
<text transform="translate(275.9,310) rotate(-90)" x="0" y="3.07" font-size="9.3" text-anchor="middle" font-weight="bold">Mean velocity (m/s)</text>
<text transform="translate(532.4,309.3) rotate(-90)" x="0" y="3.07" font-size="9.3" text-anchor="middle" font-weight="bold">Shear stress (dyn/cm<tspan dy="-3" font-size="5.8">2</tspan><tspan dy="3">)</tspan></text>
<path d="M323.5,279.26 L485.1,375.2" fill="none" stroke="#111" stroke-width="1.0" stroke-linejoin="round" />
<rect x="322" y="239.42" width="3" height="3" fill="#474747"/>
<circle cx="323.5" cy="273.41" r="1.75" fill="#f0323a"/>
<path d="M323.5,244.02L325.7,247.82L321.3,247.82Z" fill="#1e5fd7"/>
<rect x="362.4" y="307.37" width="3" height="3" fill="#474747"/>
<circle cx="363.9" cy="311.3" r="1.75" fill="#f0323a"/>
<path d="M363.9,297.3L366.1,301.1L361.7,301.1Z" fill="#1e5fd7"/>
<rect x="402.8" y="342.2" width="3" height="3" fill="#474747"/>
<circle cx="404.3" cy="325.07" r="1.75" fill="#f0323a"/>
<path d="M404.3,341.04L406.5,344.84L402.1,344.84Z" fill="#1e5fd7"/>
<rect x="443.2" y="361.64" width="3" height="3" fill="#474747"/>
<circle cx="444.7" cy="356.84" r="1.75" fill="#f0323a"/>
<path d="M444.7,357.78L446.9,361.58L442.5,361.58Z" fill="#1e5fd7"/>
<rect x="483.6" y="370.1" width="3" height="3" fill="#474747"/>
<circle cx="485.1" cy="371.42" r="1.75" fill="#f0323a"/>
<path d="M485.1,369.75L487.3,373.55L482.9,373.55Z" fill="#1e5fd7"/>
<rect x="402.6" y="237.8" width="3.2" height="3.2" fill="#474747"/>
<text x="413.1" y="241.7" font-size="9.2" text-anchor="start" font-weight="bold" >Theoretical velocity</text>
<circle cx="404.2" cy="251.2" r="1.9" fill="#f0323a"/>
<text x="413.1" y="253.2" font-size="9.2" text-anchor="start" font-weight="bold" >Simulation velocity</text>
<path d="M404.2,260.27L406.62,264.45L401.78,264.45Z" fill="#1e5fd7"/>
<text x="413.1" y="264.8" font-size="9.2" text-anchor="start" font-weight="bold" >Experimental velocity</text>
<text x="440.6" y="323.8" font-size="8.95" text-anchor="start" font-weight="bold" >y =1.30x-0.27</text>
<text x="440.6" y="334.5" font-size="8.95" font-weight="bold">R<tspan dy="-3" font-size="5.5">2</tspan><tspan dy="3">=0.98</tspan></text>
<clipPath id="cpB"><rect x="576.3" y="8.0" width="40.6" height="167.7"/></clipPath>
<g clip-path="url(#cpB)"><g filter="url(#bl1)"><rect x="573.3" y="5" width="5.7" height="10.3" fill="#1affe5"/><rect x="578.7" y="5" width="3.9" height="10.3" fill="#b3ff4c"/><rect x="582.3" y="5" width="3.9" height="10.3" fill="#ff9e00"/><rect x="585.9" y="5" width="3.9" height="10.3" fill="#ff4c00"/><rect x="589.5" y="5" width="3.9" height="10.3" fill="#ff0500"/><rect x="593.1" y="5" width="4" height="10.3" fill="#ff3800"/><rect x="596.8" y="5" width="3.9" height="10.3" fill="#ff9e00"/><rect x="600.4" y="5" width="3.9" height="10.3" fill="#ff4c00"/><rect x="604" y="5" width="3.9" height="10.3" fill="#ff4c00"/><rect x="607.6" y="5" width="3.9" height="10.3" fill="#ff8000"/><rect x="611.2" y="5" width="3.9" height="10.3" fill="#fffa00"/><rect x="614.8" y="5" width="5.4" height="10.3" fill="#4dffb3"/><rect x="573.3" y="15" width="5.7" height="7.3" fill="#05fffa"/><rect x="578.7" y="15" width="3.9" height="7.3" fill="#d1ff2e"/><rect x="582.3" y="15" width="3.9" height="7.3" fill="#ff9e00"/><rect x="585.9" y="15" width="3.9" height="7.3" fill="#ff2400"/><rect x="589.5" y="15" width="3.9" height="7.3" fill="#ff0500"/><rect x="593.1" y="15" width="4" height="7.3" fill="#ff8000"/><rect x="596.8" y="15" width="3.9" height="7.3" fill="#ffdb00"/><rect x="600.4" y="15" width="3.9" height="7.3" fill="#ff4c00"/><rect x="604" y="15" width="3.9" height="7.3" fill="#ff6100"/><rect x="607.6" y="15" width="3.9" height="7.3" fill="#ff8a00"/><rect x="611.2" y="15" width="3.9" height="7.3" fill="#faff05"/><rect x="614.8" y="15" width="5.4" height="7.3" fill="#4dffb3"/><rect x="573.3" y="22" width="5.7" height="7.3" fill="#05fffa"/><rect x="578.7" y="22" width="3.9" height="7.3" fill="#e5ff1a"/><rect x="582.3" y="22" width="3.9" height="7.3" fill="#ff8a00"/><rect x="585.9" y="22" width="3.9" height="7.3" fill="#ff1a00"/><rect x="589.5" y="22" width="3.9" height="7.3" fill="#ff0500"/><rect x="593.1" y="22" width="4" height="7.3" fill="#ff2400"/><rect x="596.8" y="22" width="3.9" height="7.3" fill="#ff4c00"/><rect x="600.4" y="22" width="3.9" height="7.3" fill="#ff4c00"/><rect x="604" y="22" width="3.9" height="7.3" fill="#ff6b00"/><rect x="607.6" y="22" width="3.9" height="7.3" fill="#ff9e00"/><rect x="611.2" y="22" width="3.9" height="7.3" fill="#faff05"/><rect x="614.8" y="22" width="5.4" height="7.3" fill="#4dffb3"/><rect x="573.3" y="29" width="5.7" height="7.3" fill="#05fffa"/><rect x="578.7" y="29" width="3.9" height="7.3" fill="#e5ff1a"/><rect x="582.3" y="29" width="3.9" height="7.3" fill="#ff8a00"/><rect x="585.9" y="29" width="3.9" height="7.3" fill="#ff1a00"/><rect x="589.5" y="29" width="3.9" height="7.3" fill="#ff0500"/><rect x="593.1" y="29" width="4" height="7.3" fill="#ff1a00"/><rect x="596.8" y="29" width="3.9" height="7.3" fill="#ff3800"/><rect x="600.4" y="29" width="3.9" height="7.3" fill="#ff4c00"/><rect x="604" y="29" width="3.9" height="7.3" fill="#ff7500"/><rect x="607.6" y="29" width="3.9" height="7.3" fill="#ff9e00"/><rect x="611.2" y="29" width="3.9" height="7.3" fill="#e5ff1a"/><rect x="614.8" y="29" width="5.4" height="7.3" fill="#2effd1"/><rect x="573.3" y="36" width="5.7" height="7.3" fill="#05fffa"/><rect x="578.7" y="36" width="3.9" height="7.3" fill="#faff05"/><rect x="582.3" y="36" width="3.9" height="7.3" fill="#ff8a00"/><rect x="585.9" y="36" width="3.9" height="7.3" fill="#ff3800"/><rect x="589.5" y="36" width="3.9" height="7.3" fill="#ff1a00"/><rect x="593.1" y="36" width="4" height="7.3" fill="#ff1a00"/><rect x="596.8" y="36" width="3.9" height="7.3" fill="#ff2e00"/><rect x="600.4" y="36" width="3.9" height="7.3" fill="#ff6100"/><rect x="604" y="36" width="3.9" height="7.3" fill="#ff8a00"/><rect x="607.6" y="36" width="3.9" height="7.3" fill="#ffc700"/><rect x="611.2" y="36" width="3.9" height="7.3" fill="#80ff80"/><rect x="614.8" y="36" width="5.4" height="7.3" fill="#00c7ff"/><rect x="573.3" y="43" width="5.7" height="7.3" fill="#05fffa"/><rect x="578.7" y="43" width="3.9" height="7.3" fill="#faff05"/><rect x="582.3" y="43" width="3.9" height="7.3" fill="#ff8a00"/><rect x="585.9" y="43" width="3.9" height="7.3" fill="#ff4c00"/><rect x="589.5" y="43" width="3.9" height="7.3" fill="#ff2400"/><rect x="593.1" y="43" width="4" height="7.3" fill="#ff2400"/><rect x="596.8" y="43" width="3.9" height="7.3" fill="#ff3800"/><rect x="600.4" y="43" width="3.9" height="7.3" fill="#ff7500"/><rect x="604" y="43" width="3.9" height="7.3" fill="#ff9e00"/><rect x="607.6" y="43" width="3.9" height="7.3" fill="#ffe500"/><rect x="611.2" y="43" width="3.9" height="7.3" fill="#80ff80"/><rect x="614.8" y="43" width="5.4" height="7.3" fill="#00e5ff"/><rect x="573.3" y="50" width="5.7" height="7.3" fill="#05fffa"/><rect x="578.7" y="50" width="3.9" height="7.3" fill="#e5ff1a"/><rect x="582.3" y="50" width="3.9" height="7.3" fill="#ff9e00"/><rect x="585.9" y="50" width="3.9" height="7.3" fill="#ff4c00"/><rect x="589.5" y="50" width="3.9" height="7.3" fill="#ff2400"/><rect x="593.1" y="50" width="4" height="7.3" fill="#ff2e00"/><rect x="596.8" y="50" width="3.9" height="7.3" fill="#ff4c00"/><rect x="600.4" y="50" width="3.9" height="7.3" fill="#ff8a00"/><rect x="604" y="50" width="3.9" height="7.3" fill="#ffc700"/><rect x="607.6" y="50" width="3.9" height="7.3" fill="#faff05"/><rect x="611.2" y="50" width="3.9" height="7.3" fill="#6bff94"/><rect x="614.8" y="50" width="5.4" height="7.3" fill="#05fffa"/><rect x="573.3" y="57" width="5.7" height="7.3" fill="#05fffa"/><rect x="578.7" y="57" width="3.9" height="7.3" fill="#b3ff4c"/><rect x="582.3" y="57" width="3.9" height="7.3" fill="#ffc700"/><rect x="585.9" y="57" width="3.9" height="7.3" fill="#ff4c00"/><rect x="589.5" y="57" width="3.9" height="7.3" fill="#ff2400"/><rect x="593.1" y="57" width="4" height="7.3" fill="#ff2e00"/><rect x="596.8" y="57" width="3.9" height="7.3" fill="#ff4c00"/><rect x="600.4" y="57" width="3.9" height="7.3" fill="#ff8a00"/><rect x="604" y="57" width="3.9" height="7.3" fill="#ffb300"/><rect x="607.6" y="57" width="3.9" height="7.3" fill="#fff000"/><rect x="611.2" y="57" width="3.9" height="7.3" fill="#80ff80"/><rect x="614.8" y="57" width="5.4" height="7.3" fill="#05fffa"/><rect x="573.3" y="64" width="5.7" height="7.3" fill="#05fffa"/><rect x="578.7" y="64" width="3.9" height="7.3" fill="#b3ff4c"/><rect x="582.3" y="64" width="3.9" height="7.3" fill="#ffc700"/><rect x="585.9" y="64" width="3.9" height="7.3" fill="#ff4c00"/><rect x="589.5" y="64" width="3.9" height="7.3" fill="#ff1a00"/><rect x="593.1" y="64" width="4" height="7.3" fill="#ff2400"/><rect x="596.8" y="64" width="3.9" height="7.3" fill="#ff4c00"/><rect x="600.4" y="64" width="3.9" height="7.3" fill="#ff8000"/><rect x="604" y="64" width="3.9" height="7.3" fill="#ff9e00"/><rect x="607.6" y="64" width="3.9" height="7.3" fill="#ffdb00"/><rect x="611.2" y="64" width="3.9" height="7.3" fill="#b3ff4c"/><rect x="614.8" y="64" width="5.4" height="7.3" fill="#05fffa"/><rect x="573.3" y="71" width="5.7" height="7.3" fill="#1affe5"/><rect x="578.7" y="71" width="3.9" height="7.3" fill="#e5ff1a"/><rect x="582.3" y="71" width="3.9" height="7.3" fill="#ff9e00"/><rect x="585.9" y="71" width="3.9" height="7.3" fill="#ff4c00"/><rect x="589.5" y="71" width="3.9" height="7.3" fill="#ff0500"/><rect x="593.1" y="71" width="4" height="7.3" fill="#fa0000"/><rect x="596.8" y="71" width="3.9" height="7.3" fill="#ff0f00"/><rect x="600.4" y="71" width="3.9" height="7.3" fill="#ff7500"/><rect x="604" y="71" width="3.9" height="7.3" fill="#ffb300"/><rect x="607.6" y="71" width="3.9" height="7.3" fill="#e5ff1a"/><rect x="611.2" y="71" width="3.9" height="7.3" fill="#1affe5"/><rect x="614.8" y="71" width="5.4" height="7.3" fill="#00f0ff"/><rect x="573.3" y="78" width="5.7" height="7.3" fill="#2effd1"/><rect x="578.7" y="78" width="3.9" height="7.3" fill="#e5ff1a"/><rect x="582.3" y="78" width="3.9" height="7.3" fill="#ff9e00"/><rect x="585.9" y="78" width="3.9" height="7.3" fill="#ff7500"/><rect x="589.5" y="78" width="3.9" height="7.3" fill="#ff2400"/><rect x="593.1" y="78" width="4" height="7.3" fill="#ff0500"/><rect x="596.8" y="78" width="3.9" height="7.3" fill="#ff2400"/><rect x="600.4" y="78" width="3.9" height="7.3" fill="#ff7500"/><rect x="604" y="78" width="3.9" height="7.3" fill="#ffb300"/><rect x="607.6" y="78" width="3.9" height="7.3" fill="#d1ff2e"/><rect x="611.2" y="78" width="3.9" height="7.3" fill="#1affe5"/><rect x="614.8" y="78" width="5.4" height="7.3" fill="#00f0ff"/><rect x="573.3" y="85" width="5.7" height="7.3" fill="#4dffb3"/><rect x="578.7" y="85" width="3.9" height="7.3" fill="#e5ff1a"/><rect x="582.3" y="85" width="3.9" height="7.3" fill="#ffc700"/><rect x="585.9" y="85" width="3.9" height="7.3" fill="#ffdb00"/><rect x="589.5" y="85" width="3.9" height="7.3" fill="#ff6100"/><rect x="593.1" y="85" width="4" height="7.3" fill="#ff2400"/><rect x="596.8" y="85" width="3.9" height="7.3" fill="#ff4c00"/><rect x="600.4" y="85" width="3.9" height="7.3" fill="#ff8a00"/><rect x="604" y="85" width="3.9" height="7.3" fill="#e5ff1a"/><rect x="607.6" y="85" width="3.9" height="7.3" fill="#6bff94"/><rect x="611.2" y="85" width="3.9" height="7.3" fill="#05fffa"/><rect x="614.8" y="85" width="5.4" height="7.3" fill="#00f0ff"/><rect x="573.3" y="92" width="5.7" height="7.3" fill="#4dffb3"/><rect x="578.7" y="92" width="3.9" height="7.3" fill="#bdff42"/><rect x="582.3" y="92" width="3.9" height="7.3" fill="#ff9e00"/><rect x="585.9" y="92" width="3.9" height="7.3" fill="#ffb300"/><rect x="589.5" y="92" width="3.9" height="7.3" fill="#ff4c00"/><rect x="593.1" y="92" width="4" height="7.3" fill="#ff1a00"/><rect x="596.8" y="92" width="3.9" height="7.3" fill="#ff8a00"/><rect x="600.4" y="92" width="3.9" height="7.3" fill="#faff05"/><rect x="604" y="92" width="3.9" height="7.3" fill="#fff000"/><rect x="607.6" y="92" width="3.9" height="7.3" fill="#faff05"/><rect x="611.2" y="92" width="3.9" height="7.3" fill="#1affe5"/><rect x="614.8" y="92" width="5.4" height="7.3" fill="#00f0ff"/><rect x="573.3" y="99" width="5.7" height="7.3" fill="#2effd1"/><rect x="578.7" y="99" width="3.9" height="7.3" fill="#bdff42"/><rect x="582.3" y="99" width="3.9" height="7.3" fill="#ff8a00"/><rect x="585.9" y="99" width="3.9" height="7.3" fill="#ffc700"/><rect x="589.5" y="99" width="3.9" height="7.3" fill="#ff6100"/><rect x="593.1" y="99" width="4" height="7.3" fill="#ff3800"/><rect x="596.8" y="99" width="3.9" height="7.3" fill="#faff05"/><rect x="600.4" y="99" width="3.9" height="7.3" fill="#e5ff1a"/><rect x="604" y="99" width="3.9" height="7.3" fill="#ffe500"/><rect x="607.6" y="99" width="3.9" height="7.3" fill="#faff05"/><rect x="611.2" y="99" width="3.9" height="7.3" fill="#4dffb3"/><rect x="614.8" y="99" width="5.4" height="7.3" fill="#00f0ff"/><rect x="573.3" y="106" width="5.7" height="7.3" fill="#00e5ff"/><rect x="578.7" y="106" width="3.9" height="7.3" fill="#d1ff2e"/><rect x="582.3" y="106" width="3.9" height="7.3" fill="#ff9e00"/><rect x="585.9" y="106" width="3.9" height="7.3" fill="#ffdb00"/><rect x="589.5" y="106" width="3.9" height="7.3" fill="#ff8a00"/><rect x="593.1" y="106" width="4" height="7.3" fill="#ff7500"/><rect x="596.8" y="106" width="3.9" height="7.3" fill="#d1ff2e"/><rect x="600.4" y="106" width="3.9" height="7.3" fill="#bdff42"/><rect x="604" y="106" width="3.9" height="7.3" fill="#ffdb00"/><rect x="607.6" y="106" width="3.9" height="7.3" fill="#faff05"/><rect x="611.2" y="106" width="3.9" height="7.3" fill="#80ff80"/><rect x="614.8" y="106" width="5.4" height="7.3" fill="#00f0ff"/><rect x="573.3" y="113" width="5.7" height="7.3" fill="#00f0ff"/><rect x="578.7" y="113" width="3.9" height="7.3" fill="#faff05"/><rect x="582.3" y="113" width="3.9" height="7.3" fill="#ffb300"/><rect x="585.9" y="113" width="3.9" height="7.3" fill="#faff05"/><rect x="589.5" y="113" width="3.9" height="7.3" fill="#fff000"/><rect x="593.1" y="113" width="4" height="7.3" fill="#ff9e00"/><rect x="596.8" y="113" width="3.9" height="7.3" fill="#e5ff1a"/><rect x="600.4" y="113" width="3.9" height="7.3" fill="#e5ff1a"/><rect x="604" y="113" width="3.9" height="7.3" fill="#ffb300"/><rect x="607.6" y="113" width="3.9" height="7.3" fill="#fff000"/><rect x="611.2" y="113" width="3.9" height="7.3" fill="#b3ff4c"/><rect x="614.8" y="113" width="5.4" height="7.3" fill="#00dbff"/><rect x="573.3" y="120" width="5.7" height="7.3" fill="#2effd1"/><rect x="578.7" y="120" width="3.9" height="7.3" fill="#fff000"/><rect x="582.3" y="120" width="3.9" height="7.3" fill="#ff9e00"/><rect x="585.9" y="120" width="3.9" height="7.3" fill="#fff000"/><rect x="589.5" y="120" width="3.9" height="7.3" fill="#ffdb00"/><rect x="593.1" y="120" width="4" height="7.3" fill="#ff8a00"/><rect x="596.8" y="120" width="3.9" height="7.3" fill="#ffdb00"/><rect x="600.4" y="120" width="3.9" height="7.3" fill="#ff8a00"/><rect x="604" y="120" width="3.9" height="7.3" fill="#ff6100"/><rect x="607.6" y="120" width="3.9" height="7.3" fill="#ffc700"/><rect x="611.2" y="120" width="3.9" height="7.3" fill="#e5ff1a"/><rect x="614.8" y="120" width="5.4" height="7.3" fill="#00dbff"/><rect x="573.3" y="127" width="5.7" height="7.3" fill="#80ff80"/><rect x="578.7" y="127" width="3.9" height="7.3" fill="#ffdb00"/><rect x="582.3" y="127" width="3.9" height="7.3" fill="#ff7500"/><rect x="585.9" y="127" width="3.9" height="7.3" fill="#ff8a00"/><rect x="589.5" y="127" width="3.9" height="7.3" fill="#ff7500"/><rect x="593.1" y="127" width="4" height="7.3" fill="#ff6100"/><rect x="596.8" y="127" width="3.9" height="7.3" fill="#ff8a00"/><rect x="600.4" y="127" width="3.9" height="7.3" fill="#ff2400"/><rect x="604" y="127" width="3.9" height="7.3" fill="#ff2400"/><rect x="607.6" y="127" width="3.9" height="7.3" fill="#ff9e00"/><rect x="611.2" y="127" width="3.9" height="7.3" fill="#faff05"/><rect x="614.8" y="127" width="5.4" height="7.3" fill="#1affe5"/><rect x="573.3" y="134" width="5.7" height="7.3" fill="#b3ff4c"/><rect x="578.7" y="134" width="3.9" height="7.3" fill="#ff9e00"/><rect x="582.3" y="134" width="3.9" height="7.3" fill="#ff7500"/><rect x="585.9" y="134" width="3.9" height="7.3" fill="#ff4c00"/><rect x="589.5" y="134" width="3.9" height="7.3" fill="#ff2400"/><rect x="593.1" y="134" width="4" height="7.3" fill="#ff0f00"/><rect x="596.8" y="134" width="3.9" height="7.3" fill="#ff2400"/><rect x="600.4" y="134" width="3.9" height="7.3" fill="#ff3800"/><rect x="604" y="134" width="3.9" height="7.3" fill="#ff4c00"/><rect x="607.6" y="134" width="3.9" height="7.3" fill="#ff9e00"/><rect x="611.2" y="134" width="3.9" height="7.3" fill="#faff05"/><rect x="614.8" y="134" width="5.4" height="7.3" fill="#00f0ff"/><rect x="573.3" y="141" width="5.7" height="7.3" fill="#e5ff1a"/><rect x="578.7" y="141" width="3.9" height="7.3" fill="#ff9e00"/><rect x="582.3" y="141" width="3.9" height="7.3" fill="#ff7500"/><rect x="585.9" y="141" width="3.9" height="7.3" fill="#ff3800"/><rect x="589.5" y="141" width="3.9" height="7.3" fill="#ff0f00"/><rect x="593.1" y="141" width="4" height="7.3" fill="#fa0000"/><rect x="596.8" y="141" width="3.9" height="7.3" fill="#ff2400"/><rect x="600.4" y="141" width="3.9" height="7.3" fill="#ff4c00"/><rect x="604" y="141" width="3.9" height="7.3" fill="#ff7500"/><rect x="607.6" y="141" width="3.9" height="7.3" fill="#ffb300"/><rect x="611.2" y="141" width="3.9" height="7.3" fill="#e5ff1a"/><rect x="614.8" y="141" width="5.4" height="7.3" fill="#00dbff"/><rect x="573.3" y="148" width="5.7" height="7.3" fill="#faff05"/><rect x="578.7" y="148" width="3.9" height="7.3" fill="#ff8a00"/><rect x="582.3" y="148" width="3.9" height="7.3" fill="#ff6100"/><rect x="585.9" y="148" width="3.9" height="7.3" fill="#ff2400"/><rect x="589.5" y="148" width="3.9" height="7.3" fill="#ff0500"/><rect x="593.1" y="148" width="4" height="7.3" fill="#fa0000"/><rect x="596.8" y="148" width="3.9" height="7.3" fill="#ff2400"/><rect x="600.4" y="148" width="3.9" height="7.3" fill="#ff4c00"/><rect x="604" y="148" width="3.9" height="7.3" fill="#ff7500"/><rect x="607.6" y="148" width="3.9" height="7.3" fill="#ffb300"/><rect x="611.2" y="148" width="3.9" height="7.3" fill="#e5ff1a"/><rect x="614.8" y="148" width="5.4" height="7.3" fill="#1affe5"/><rect x="573.3" y="155" width="5.7" height="7.3" fill="#ffdb00"/><rect x="578.7" y="155" width="3.9" height="7.3" fill="#ff7500"/><rect x="582.3" y="155" width="3.9" height="7.3" fill="#ff4c00"/><rect x="585.9" y="155" width="3.9" height="7.3" fill="#ff1a00"/><rect x="589.5" y="155" width="3.9" height="7.3" fill="#ff0500"/><rect x="593.1" y="155" width="4" height="7.3" fill="#ff0500"/><rect x="596.8" y="155" width="3.9" height="7.3" fill="#ff1a00"/><rect x="600.4" y="155" width="3.9" height="7.3" fill="#ff3800"/><rect x="604" y="155" width="3.9" height="7.3" fill="#ff6100"/><rect x="607.6" y="155" width="3.9" height="7.3" fill="#ff9e00"/><rect x="611.2" y="155" width="3.9" height="7.3" fill="#faff05"/><rect x="614.8" y="155" width="5.4" height="7.3" fill="#2effd1"/><rect x="573.3" y="162" width="5.7" height="7.3" fill="#ffc700"/><rect x="578.7" y="162" width="3.9" height="7.3" fill="#ff6100"/><rect x="582.3" y="162" width="3.9" height="7.3" fill="#ff3800"/><rect x="585.9" y="162" width="3.9" height="7.3" fill="#ff0f00"/><rect x="589.5" y="162" width="3.9" height="7.3" fill="#fa0000"/><rect x="593.1" y="162" width="4" height="7.3" fill="#ff0500"/><rect x="596.8" y="162" width="3.9" height="7.3" fill="#ff0f00"/><rect x="600.4" y="162" width="3.9" height="7.3" fill="#ff2400"/><rect x="604" y="162" width="3.9" height="7.3" fill="#ff4c00"/><rect x="607.6" y="162" width="3.9" height="7.3" fill="#ff8a00"/><rect x="611.2" y="162" width="3.9" height="7.3" fill="#fff000"/><rect x="614.8" y="162" width="5.4" height="7.3" fill="#1affe5"/><rect x="573.3" y="169" width="5.7" height="10" fill="#ffb300"/><rect x="578.7" y="169" width="3.9" height="10" fill="#ff6100"/><rect x="582.3" y="169" width="3.9" height="10" fill="#ff2400"/><rect x="585.9" y="169" width="3.9" height="10" fill="#ff0500"/><rect x="589.5" y="169" width="3.9" height="10" fill="#fa0000"/><rect x="593.1" y="169" width="4" height="10" fill="#fa0000"/><rect x="596.8" y="169" width="3.9" height="10" fill="#ff0500"/><rect x="600.4" y="169" width="3.9" height="10" fill="#ff1a00"/><rect x="604" y="169" width="3.9" height="10" fill="#ff4c00"/><rect x="607.6" y="169" width="3.9" height="10" fill="#ff8a00"/><rect x="611.2" y="169" width="3.9" height="10" fill="#fff000"/><rect x="614.8" y="169" width="5.4" height="10" fill="#00f0ff"/><ellipse cx="598.6" cy="17" rx="2.6" ry="3.6" fill="#d1ff2e"/></g></g>
<path d="M578.7,8.5V175.2M582.31,8.5V175.2M585.92,8.5V175.2M589.53,8.5V175.2M593.14,8.5V175.2M596.75,8.5V175.2M600.36,8.5V175.2M603.97,8.5V175.2M607.58,8.5V175.2M611.19,8.5V175.2M614.8,8.5V175.2" stroke="#000" stroke-width="0.7" opacity="0.4"/>
<path d="M578.7,8.5V175.2M582.31,8.5V175.2M585.92,8.5V175.2M589.53,8.5V175.2M593.14,8.5V175.2M596.75,8.5V175.2M600.36,8.5V175.2M603.97,8.5V175.2M607.58,8.5V175.2M611.19,8.5V175.2M614.8,8.5V175.2" stroke="#000" stroke-width="1.0" stroke-dasharray="1.5 1.5" opacity="0.85"/>
<rect x="570" y="81.2" width="51.7" height="23.6" fill="none" stroke="#000" stroke-width="1.6" stroke-dasharray="7.03 5.52" stroke-dashoffset="10.95"/>
<rect x="676.4" y="9.5" width="7.3" height="177.9" fill="url(#cbar)" stroke="#333" stroke-width="0.3"/>
<path d="M676.4,165.03h1.6M676.4,143.15h1.6M676.4,121.28h1.6M676.4,99.4h1.6M676.4,77.53h1.6M676.4,55.65h1.6M676.4,33.78h1.6" stroke="#333" stroke-width="0.7"/>
<text x="658.7" y="190.2" font-size="9.8" text-anchor="middle" font-weight="bold" >0</text>
<text x="658.7" y="168.33" font-size="9.8" text-anchor="middle" font-weight="bold" >0.0005</text>
<text x="658.7" y="146.45" font-size="9.8" text-anchor="middle" font-weight="bold" >0.001</text>
<text x="658.7" y="124.58" font-size="9.8" text-anchor="middle" font-weight="bold" >0.0015</text>
<text x="658.7" y="102.7" font-size="9.8" text-anchor="middle" font-weight="bold" >0.002</text>
<text x="658.7" y="80.83" font-size="9.8" text-anchor="middle" font-weight="bold" >0.0025</text>
<text x="658.7" y="58.95" font-size="9.8" text-anchor="middle" font-weight="bold" >0.003</text>
<text x="658.7" y="37.08" font-size="9.8" text-anchor="middle" font-weight="bold" >0.0035</text>
<text x="658.7" y="15.2" font-size="9.8" text-anchor="middle" font-weight="bold" >0.004</text>
<rect x="546.2" y="217.9" width="40" height="167.6" fill="url(#hS)"/>
<g filter="url(#bl2)"><path d="M551.3,250 L553.2,250 L556.5,385.5 L551.3,385.5Z" fill="#fa0000" opacity="0.9"/><circle cx="576.73" cy="243.88" r="0.97" fill="#e00000" opacity="0.85"/><circle cx="576.62" cy="228.5" r="0.95" fill="#e00000" opacity="0.85"/><circle cx="554.12" cy="290.71" r="0.91" fill="#e00000" opacity="0.85"/><circle cx="560.46" cy="239.4" r="1.01" fill="#e00000" opacity="0.85"/><circle cx="563.93" cy="314.47" r="1.19" fill="#e00000" opacity="0.85"/><circle cx="554.41" cy="361.06" r="0.84" fill="#e00000" opacity="0.85"/><circle cx="552.69" cy="238.41" r="0.79" fill="#e00000" opacity="0.85"/><circle cx="579.06" cy="324.7" r="0.89" fill="#e00000" opacity="0.85"/><circle cx="577.76" cy="229.3" r="1.04" fill="#e00000" opacity="0.85"/><circle cx="577.3" cy="270.92" r="0.99" fill="#e00000" opacity="0.85"/><circle cx="577.51" cy="268.54" r="0.82" fill="#e00000" opacity="0.85"/><circle cx="575.21" cy="305.87" r="1.14" fill="#e00000" opacity="0.85"/><circle cx="577.6" cy="266.58" r="0.91" fill="#e00000" opacity="0.85"/><circle cx="576.93" cy="244.07" r="0.94" fill="#e00000" opacity="0.85"/><circle cx="554.12" cy="329.56" r="1.14" fill="#e00000" opacity="0.85"/><circle cx="575.44" cy="334.04" r="1" fill="#e00000" opacity="0.85"/><circle cx="578.55" cy="294.45" r="0.94" fill="#e00000" opacity="0.85"/><circle cx="574.56" cy="228.95" r="1.05" fill="#e00000" opacity="0.85"/><circle cx="577.43" cy="383.36" r="0.89" fill="#e00000" opacity="0.85"/><circle cx="576.12" cy="222.64" r="0.93" fill="#e00000" opacity="0.85"/><circle cx="554.94" cy="238.29" r="0.76" fill="#e00000" opacity="0.85"/><circle cx="554.29" cy="283.64" r="1.14" fill="#e00000" opacity="0.85"/><circle cx="551.77" cy="293.29" r="1.11" fill="#e00000" opacity="0.85"/><circle cx="564.31" cy="265.01" r="0.88" fill="#e00000" opacity="0.85"/><circle cx="559.02" cy="377.5" r="0.79" fill="#e00000" opacity="0.85"/><circle cx="552.85" cy="257.54" r="0.94" fill="#e00000" opacity="0.85"/><circle cx="578.25" cy="262.41" r="0.88" fill="#e00000" opacity="0.85"/><circle cx="577.03" cy="376.73" r="1.05" fill="#e00000" opacity="0.85"/><circle cx="576.82" cy="321.17" r="1.15" fill="#e00000" opacity="0.85"/><circle cx="576.64" cy="363.72" r="1.1" fill="#e00000" opacity="0.85"/><circle cx="578.35" cy="284.97" r="0.73" fill="#e00000" opacity="0.85"/><circle cx="554.31" cy="253.47" r="0.78" fill="#e00000" opacity="0.85"/><circle cx="577.69" cy="227.61" r="0.75" fill="#e00000" opacity="0.85"/><circle cx="577" cy="223.12" r="1.14" fill="#e00000" opacity="0.85"/><circle cx="576.98" cy="243.5" r="0.88" fill="#e00000" opacity="0.85"/><circle cx="555.14" cy="359.48" r="1.2" fill="#e00000" opacity="0.85"/><circle cx="577.48" cy="299.02" r="0.87" fill="#e00000" opacity="0.85"/><circle cx="554.43" cy="356.16" r="0.78" fill="#e00000" opacity="0.85"/><circle cx="553.78" cy="376.38" r="0.97" fill="#e00000" opacity="0.85"/><circle cx="553.73" cy="306.35" r="1.19" fill="#e00000" opacity="0.85"/><circle cx="561.22" cy="334.19" r="0.88" fill="#e00000" opacity="0.85"/><circle cx="552.42" cy="346.73" r="0.86" fill="#e00000" opacity="0.85"/><circle cx="553.82" cy="353.29" r="1.19" fill="#e00000" opacity="0.85"/><circle cx="572.37" cy="352.39" r="1.07" fill="#e00000" opacity="0.85"/><circle cx="553.67" cy="304.62" r="0.71" fill="#e00000" opacity="0.85"/><circle cx="553.71" cy="261.82" r="1.05" fill="#e00000" opacity="0.85"/><circle cx="574.74" cy="292.96" r="1.19" fill="#e00000" opacity="0.85"/><circle cx="560.41" cy="279.28" r="0.81" fill="#e00000" opacity="0.85"/><circle cx="551.92" cy="252.74" r="1.12" fill="#e00000" opacity="0.85"/><circle cx="575.19" cy="327.03" r="1.1" fill="#e00000" opacity="0.85"/><circle cx="555.46" cy="328.29" r="1.08" fill="#e00000" opacity="0.85"/><circle cx="575.87" cy="248.46" r="1.09" fill="#e00000" opacity="0.85"/><circle cx="578.19" cy="351.52" r="0.9" fill="#e00000" opacity="0.85"/><circle cx="559.4" cy="338.93" r="0.76" fill="#e00000" opacity="0.85"/><circle cx="554.1" cy="368.74" r="1.1" fill="#e00000" opacity="0.85"/><circle cx="555.64" cy="355.77" r="0.88" fill="#e00000" opacity="0.85"/><circle cx="576.78" cy="240.59" r="0.71" fill="#e00000" opacity="0.85"/><circle cx="566.53" cy="326.49" r="1.17" fill="#e00000" opacity="0.85"/><circle cx="577.38" cy="363.26" r="0.83" fill="#e00000" opacity="0.85"/><circle cx="552.88" cy="258.73" r="0.99" fill="#e00000" opacity="0.85"/><circle cx="555.2" cy="288.29" r="0.88" fill="#e00000" opacity="0.85"/><circle cx="578.93" cy="315.5" r="1.15" fill="#e00000" opacity="0.85"/><circle cx="575.52" cy="370.87" r="0.96" fill="#e00000" opacity="0.85"/><circle cx="553.72" cy="291.78" r="0.79" fill="#e00000" opacity="0.85"/><circle cx="554.69" cy="351.24" r="1.06" fill="#e00000" opacity="0.85"/><circle cx="578.2" cy="272.88" r="0.96" fill="#e00000" opacity="0.85"/><circle cx="578.21" cy="348.78" r="0.82" fill="#e00000" opacity="0.85"/><circle cx="554.92" cy="346.79" r="0.95" fill="#e00000" opacity="0.85"/><circle cx="578.11" cy="344.75" r="1.01" fill="#e00000" opacity="0.85"/><circle cx="576.32" cy="303.71" r="1.05" fill="#e00000" opacity="0.85"/><circle cx="574.17" cy="307.21" r="1.05" fill="#e00000" opacity="0.85"/><circle cx="561.19" cy="374.93" r="0.98" fill="#e00000" opacity="0.85"/><circle cx="558.74" cy="358" r="0.76" fill="#e00000" opacity="0.85"/><circle cx="577.39" cy="230.91" r="0.82" fill="#e00000" opacity="0.85"/><circle cx="554.45" cy="329.76" r="0.78" fill="#e00000" opacity="0.85"/><circle cx="574.5" cy="328.24" r="0.77" fill="#e00000" opacity="0.85"/><circle cx="560.39" cy="379.13" r="1.18" fill="#e00000" opacity="0.85"/><circle cx="579.26" cy="299.59" r="0.78" fill="#e00000" opacity="0.85"/><circle cx="576.86" cy="304.28" r="0.87" fill="#e00000" opacity="0.85"/><circle cx="553.55" cy="271.65" r="0.98" fill="#e00000" opacity="0.85"/><circle cx="576.77" cy="221.89" r="0.87" fill="#e00000" opacity="0.85"/><circle cx="580.2" cy="303.73" r="1.09" fill="#e00000" opacity="0.85"/><circle cx="561.31" cy="236.25" r="0.72" fill="#e00000" opacity="0.85"/><circle cx="578.37" cy="263.69" r="0.76" fill="#e00000" opacity="0.85"/><circle cx="577.39" cy="369.83" r="0.77" fill="#e00000" opacity="0.85"/><circle cx="570.01" cy="313.39" r="0.74" fill="#e00000" opacity="0.85"/><circle cx="553.32" cy="332.87" r="0.91" fill="#e00000" opacity="0.85"/><circle cx="553.13" cy="374.29" r="0.74" fill="#e00000" opacity="0.85"/><circle cx="573.26" cy="229.93" r="0.93" fill="#e00000" opacity="0.85"/><circle cx="575.39" cy="310.49" r="1.16" fill="#e00000" opacity="0.85"/><circle cx="552.63" cy="240.3" r="0.75" fill="#e00000" opacity="0.85"/><circle cx="553.14" cy="227.24" r="0.8" fill="#e00000" opacity="0.85"/><circle cx="577.06" cy="269.41" r="0.95" fill="#e00000" opacity="0.85"/><circle cx="552.79" cy="276.36" r="0.71" fill="#e00000" opacity="0.85"/><circle cx="553.09" cy="221.44" r="0.79" fill="#e00000" opacity="0.85"/><circle cx="575.49" cy="373.68" r="0.75" fill="#e00000" opacity="0.85"/><circle cx="565.9" cy="290.47" r="1.12" fill="#e00000" opacity="0.85"/><circle cx="575.7" cy="302.81" r="0.87" fill="#e00000" opacity="0.85"/><circle cx="568.72" cy="335.93" r="0.9" fill="#e00000" opacity="0.85"/><circle cx="573.85" cy="227.91" r="0.76" fill="#e00000" opacity="0.85"/><circle cx="554.06" cy="341.59" r="0.74" fill="#e00000" opacity="0.85"/><circle cx="569.41" cy="363.06" r="0.84" fill="#e00000" opacity="0.85"/><circle cx="554.15" cy="267.43" r="0.93" fill="#e00000" opacity="0.85"/><circle cx="553.52" cy="292.73" r="1.19" fill="#e00000" opacity="0.85"/><circle cx="580.06" cy="259.38" r="1.18" fill="#e00000" opacity="0.85"/><circle cx="578.18" cy="277.95" r="0.94" fill="#e00000" opacity="0.85"/><circle cx="577.01" cy="252.18" r="0.95" fill="#e00000" opacity="0.85"/><circle cx="554.37" cy="262.65" r="0.72" fill="#e00000" opacity="0.85"/><circle cx="554.11" cy="269.28" r="0.82" fill="#e00000" opacity="0.85"/><circle cx="577.01" cy="306.53" r="1.06" fill="#e00000" opacity="0.85"/><circle cx="562.52" cy="283.4" r="1.19" fill="#e00000" opacity="0.85"/><circle cx="552.6" cy="338.82" r="1.02" fill="#e00000" opacity="0.85"/><circle cx="555.29" cy="357.22" r="1.07" fill="#e00000" opacity="0.85"/><circle cx="566.48" cy="241.97" r="0.95" fill="#e00000" opacity="0.85"/><circle cx="572.53" cy="352.15" r="0.99" fill="#e00000" opacity="0.85"/><circle cx="569.87" cy="331.99" r="0.81" fill="#e00000" opacity="0.85"/><circle cx="552.48" cy="240.94" r="0.88" fill="#e00000" opacity="0.85"/><circle cx="552.89" cy="357.31" r="1.01" fill="#e00000" opacity="0.85"/><circle cx="576.39" cy="299.93" r="0.7" fill="#e00000" opacity="0.85"/><circle cx="575.51" cy="342.81" r="1.03" fill="#e00000" opacity="0.85"/><circle cx="554.06" cy="340.91" r="0.83" fill="#e00000" opacity="0.85"/><circle cx="553.43" cy="262.88" r="1.07" fill="#e00000" opacity="0.85"/><circle cx="563.65" cy="300.7" r="0.94" fill="#e00000" opacity="0.85"/><circle cx="576.19" cy="345.91" r="1.01" fill="#e00000" opacity="0.85"/><circle cx="577.55" cy="231.73" r="1.07" fill="#e00000" opacity="0.85"/><circle cx="577.73" cy="312.92" r="0.71" fill="#e00000" opacity="0.85"/><circle cx="552.8" cy="263.41" r="1.04" fill="#e00000" opacity="0.85"/><circle cx="552.47" cy="304.44" r="0.93" fill="#e00000" opacity="0.85"/><circle cx="577.63" cy="238.52" r="1.19" fill="#e00000" opacity="0.85"/><circle cx="565.18" cy="221.8" r="1.11" fill="#e00000" opacity="0.85"/><circle cx="561.37" cy="293.33" r="0.8" fill="#e00000" opacity="0.85"/><circle cx="567.63" cy="253.79" r="0.77" fill="#e00000" opacity="0.85"/><circle cx="576.5" cy="376.67" r="0.77" fill="#e00000" opacity="0.85"/><circle cx="573.74" cy="303.15" r="1.05" fill="#e00000" opacity="0.85"/><circle cx="554.05" cy="367.56" r="0.7" fill="#e00000" opacity="0.85"/><circle cx="577.02" cy="293.55" r="0.85" fill="#e00000" opacity="0.85"/><circle cx="552.84" cy="275.86" r="0.7" fill="#e00000" opacity="0.85"/><circle cx="579.1" cy="357.86" r="0.76" fill="#e00000" opacity="0.85"/><circle cx="574.03" cy="336.98" r="0.84" fill="#e00000" opacity="0.85"/><circle cx="578.6" cy="283.96" r="0.88" fill="#e00000" opacity="0.85"/><circle cx="576.99" cy="264.47" r="0.72" fill="#e00000" opacity="0.85"/><circle cx="553.68" cy="357.12" r="0.82" fill="#e00000" opacity="0.85"/><circle cx="556.1" cy="303.52" r="0.79" fill="#e00000" opacity="0.85"/><circle cx="578.64" cy="377.24" r="1.02" fill="#e00000" opacity="0.85"/><circle cx="566.98" cy="374.68" r="1.06" fill="#e00000" opacity="0.85"/><circle cx="552.86" cy="340.18" r="0.93" fill="#e00000" opacity="0.85"/><circle cx="576.91" cy="325.63" r="1.16" fill="#e00000" opacity="0.85"/><circle cx="554.08" cy="297.09" r="0.87" fill="#e00000" opacity="0.85"/><circle cx="554.85" cy="341.28" r="1.03" fill="#e00000" opacity="0.85"/><circle cx="576.86" cy="311.19" r="0.9" fill="#e00000" opacity="0.85"/></g>
<text x="560.5" y="211.3" font-size="10.1" text-anchor="middle" font-weight="bold" >Simulation</text>
<text x="614.2" y="211.3" font-size="10.1" text-anchor="middle" font-weight="bold" >Experiment</text>
<g filter="url(#bl2)"><rect x="595.8" y="217.9" width="1.8" height="3.28" fill="#37ffc8"/><rect x="597.3" y="217.9" width="1.8" height="3.28" fill="#d4ff2b"/><rect x="598.8" y="217.9" width="1.8" height="3.28" fill="#ffec00"/><rect x="600.3" y="217.9" width="1.8" height="3.28" fill="#ffc500"/><rect x="601.8" y="217.9" width="1.8" height="3.28" fill="#ff9500"/><rect x="603.3" y="217.9" width="1.8" height="3.28" fill="#ff7b00"/><rect x="604.8" y="217.9" width="1.8" height="3.28" fill="#ff6e00"/><rect x="606.3" y="217.9" width="1.8" height="3.28" fill="#ff4a00"/><rect x="607.8" y="217.9" width="1.8" height="3.28" fill="#ff1800"/><rect x="609.3" y="217.9" width="1.8" height="3.28" fill="#ff1800"/><rect x="610.8" y="217.9" width="1.8" height="3.28" fill="#ff1700"/><rect x="612.3" y="217.9" width="1.8" height="3.28" fill="#ff1600"/><rect x="613.8" y="217.9" width="1.8" height="3.28" fill="#ff1500"/><rect x="615.3" y="217.9" width="1.8" height="3.28" fill="#ff1400"/><rect x="616.8" y="217.9" width="1.8" height="3.28" fill="#ff1300"/><rect x="618.3" y="217.9" width="1.8" height="3.28" fill="#ff1200"/><rect x="619.8" y="217.9" width="1.8" height="3.28" fill="#ff1100"/><rect x="621.3" y="217.9" width="1.8" height="3.28" fill="#ff1000"/><rect x="622.8" y="217.9" width="1.8" height="3.28" fill="#ff0f00"/><rect x="624.3" y="217.9" width="1.8" height="3.28" fill="#ff3100"/><rect x="625.8" y="217.9" width="1.8" height="3.28" fill="#ff5c00"/><rect x="627.3" y="217.9" width="1.8" height="3.28" fill="#ff8000"/><rect x="628.8" y="217.9" width="1.8" height="3.28" fill="#ffc700"/><rect x="630.3" y="217.9" width="1.8" height="3.28" fill="#fff300"/><rect x="631.8" y="217.9" width="1.8" height="3.28" fill="#edff12"/><rect x="633.3" y="217.9" width="1.8" height="3.28" fill="#8fff70"/><rect x="634.8" y="217.9" width="1.8" height="3.28" fill="#18ffe7"/><rect x="595.8" y="220.88" width="1.8" height="3.28" fill="#37ffc8"/><rect x="597.3" y="220.88" width="1.8" height="3.28" fill="#d4ff2b"/><rect x="598.8" y="220.88" width="1.8" height="3.28" fill="#ffec00"/><rect x="600.3" y="220.88" width="1.8" height="3.28" fill="#ffc500"/><rect x="601.8" y="220.88" width="1.8" height="3.28" fill="#ff9400"/><rect x="603.3" y="220.88" width="1.8" height="3.28" fill="#ff7a00"/><rect x="604.8" y="220.88" width="1.8" height="3.28" fill="#ff6c00"/><rect x="606.3" y="220.88" width="1.8" height="3.28" fill="#ff4900"/><rect x="607.8" y="220.88" width="1.8" height="3.28" fill="#ff1800"/><rect x="609.3" y="220.88" width="1.8" height="3.28" fill="#ff1800"/><rect x="610.8" y="220.88" width="1.8" height="3.28" fill="#ff1700"/><rect x="612.3" y="220.88" width="1.8" height="3.28" fill="#ff1600"/><rect x="613.8" y="220.88" width="1.8" height="3.28" fill="#ff1500"/><rect x="615.3" y="220.88" width="1.8" height="3.28" fill="#ff1400"/><rect x="616.8" y="220.88" width="1.8" height="3.28" fill="#ff1300"/><rect x="618.3" y="220.88" width="1.8" height="3.28" fill="#ff1200"/><rect x="619.8" y="220.88" width="1.8" height="3.28" fill="#ff1100"/><rect x="621.3" y="220.88" width="1.8" height="3.28" fill="#ff1000"/><rect x="622.8" y="220.88" width="1.8" height="3.28" fill="#ff0f00"/><rect x="624.3" y="220.88" width="1.8" height="3.28" fill="#ff2f00"/><rect x="625.8" y="220.88" width="1.8" height="3.28" fill="#ff5300"/><rect x="627.3" y="220.88" width="1.8" height="3.28" fill="#ff6800"/><rect x="628.8" y="220.88" width="1.8" height="3.28" fill="#ffa200"/><rect x="630.3" y="220.88" width="1.8" height="3.28" fill="#ffda00"/><rect x="631.8" y="220.88" width="1.8" height="3.28" fill="#f4ff0b"/><rect x="633.3" y="220.88" width="1.8" height="3.28" fill="#90ff6f"/><rect x="634.8" y="220.88" width="1.8" height="3.28" fill="#18ffe7"/><rect x="595.8" y="223.87" width="1.8" height="3.28" fill="#37ffc8"/><rect x="597.3" y="223.87" width="1.8" height="3.28" fill="#d4ff2b"/><rect x="598.8" y="223.87" width="1.8" height="3.28" fill="#ffec00"/><rect x="600.3" y="223.87" width="1.8" height="3.28" fill="#ffc400"/><rect x="601.8" y="223.87" width="1.8" height="3.28" fill="#ff9300"/><rect x="603.3" y="223.87" width="1.8" height="3.28" fill="#ff7700"/><rect x="604.8" y="223.87" width="1.8" height="3.28" fill="#ff6900"/><rect x="606.3" y="223.87" width="1.8" height="3.28" fill="#ff4800"/><rect x="607.8" y="223.87" width="1.8" height="3.28" fill="#ff1800"/><rect x="609.3" y="223.87" width="1.8" height="3.28" fill="#ff1800"/><rect x="610.8" y="223.87" width="1.8" height="3.28" fill="#ff1700"/><rect x="612.3" y="223.87" width="1.8" height="3.28" fill="#ff1600"/><rect x="613.8" y="223.87" width="1.8" height="3.28" fill="#ff1500"/><rect x="615.3" y="223.87" width="1.8" height="3.28" fill="#ff1400"/><rect x="616.8" y="223.87" width="1.8" height="3.28" fill="#ff1300"/><rect x="618.3" y="223.87" width="1.8" height="3.28" fill="#ff1200"/><rect x="619.8" y="223.87" width="1.8" height="3.28" fill="#ff1100"/><rect x="621.3" y="223.87" width="1.8" height="3.28" fill="#ff1000"/><rect x="622.8" y="223.87" width="1.8" height="3.28" fill="#ff0e00"/><rect x="624.3" y="223.87" width="1.8" height="3.28" fill="#ff2c00"/><rect x="625.8" y="223.87" width="1.8" height="3.28" fill="#ff4900"/><rect x="627.3" y="223.87" width="1.8" height="3.28" fill="#ff4c00"/><rect x="628.8" y="223.87" width="1.8" height="3.28" fill="#ff7800"/><rect x="630.3" y="223.87" width="1.8" height="3.28" fill="#ffbe00"/><rect x="631.8" y="223.87" width="1.8" height="3.28" fill="#fbff04"/><rect x="633.3" y="223.87" width="1.8" height="3.28" fill="#90ff6f"/><rect x="634.8" y="223.87" width="1.8" height="3.28" fill="#18ffe7"/><rect x="595.8" y="226.85" width="1.8" height="3.28" fill="#37ffc8"/><rect x="597.3" y="226.85" width="1.8" height="3.28" fill="#d4ff2b"/><rect x="598.8" y="226.85" width="1.8" height="3.28" fill="#ffec00"/><rect x="600.3" y="226.85" width="1.8" height="3.28" fill="#ffc400"/><rect x="601.8" y="226.85" width="1.8" height="3.28" fill="#ff9200"/><rect x="603.3" y="226.85" width="1.8" height="3.28" fill="#ff7400"/><rect x="604.8" y="226.85" width="1.8" height="3.28" fill="#ff6600"/><rect x="606.3" y="226.85" width="1.8" height="3.28" fill="#ff4600"/><rect x="607.8" y="226.85" width="1.8" height="3.28" fill="#ff1700"/><rect x="609.3" y="226.85" width="1.8" height="3.28" fill="#ff1800"/><rect x="610.8" y="226.85" width="1.8" height="3.28" fill="#ff1700"/><rect x="612.3" y="226.85" width="1.8" height="3.28" fill="#ff1600"/><rect x="613.8" y="226.85" width="1.8" height="3.28" fill="#ff1500"/><rect x="615.3" y="226.85" width="1.8" height="3.28" fill="#ff1400"/><rect x="616.8" y="226.85" width="1.8" height="3.28" fill="#ff1300"/><rect x="618.3" y="226.85" width="1.8" height="3.28" fill="#ff1200"/><rect x="619.8" y="226.85" width="1.8" height="3.28" fill="#ff1100"/><rect x="621.3" y="226.85" width="1.8" height="3.28" fill="#ff1000"/><rect x="622.8" y="226.85" width="1.8" height="3.28" fill="#ff0e00"/><rect x="624.3" y="226.85" width="1.8" height="3.28" fill="#ff2a00"/><rect x="625.8" y="226.85" width="1.8" height="3.28" fill="#ff4000"/><rect x="627.3" y="226.85" width="1.8" height="3.28" fill="#ff3c00"/><rect x="628.8" y="226.85" width="1.8" height="3.28" fill="#ff6800"/><rect x="630.3" y="226.85" width="1.8" height="3.28" fill="#ffb600"/><rect x="631.8" y="226.85" width="1.8" height="3.28" fill="#fcff03"/><rect x="633.3" y="226.85" width="1.8" height="3.28" fill="#90ff6f"/><rect x="634.8" y="226.85" width="1.8" height="3.28" fill="#18ffe7"/><rect x="595.8" y="229.84" width="1.8" height="3.28" fill="#37ffc8"/><rect x="597.3" y="229.84" width="1.8" height="3.28" fill="#d4ff2b"/><rect x="598.8" y="229.84" width="1.8" height="3.28" fill="#ffec00"/><rect x="600.3" y="229.84" width="1.8" height="3.28" fill="#ffc400"/><rect x="601.8" y="229.84" width="1.8" height="3.28" fill="#ff9000"/><rect x="603.3" y="229.84" width="1.8" height="3.28" fill="#ff7100"/><rect x="604.8" y="229.84" width="1.8" height="3.28" fill="#ff6200"/><rect x="606.3" y="229.84" width="1.8" height="3.28" fill="#ff4400"/><rect x="607.8" y="229.84" width="1.8" height="3.28" fill="#ff1700"/><rect x="609.3" y="229.84" width="1.8" height="3.28" fill="#ff1800"/><rect x="610.8" y="229.84" width="1.8" height="3.28" fill="#ff1700"/><rect x="612.3" y="229.84" width="1.8" height="3.28" fill="#ff1600"/><rect x="613.8" y="229.84" width="1.8" height="3.28" fill="#ff1500"/><rect x="615.3" y="229.84" width="1.8" height="3.28" fill="#ff1400"/><rect x="616.8" y="229.84" width="1.8" height="3.28" fill="#ff1300"/><rect x="618.3" y="229.84" width="1.8" height="3.28" fill="#ff1200"/><rect x="619.8" y="229.84" width="1.8" height="3.28" fill="#ff1100"/><rect x="621.3" y="229.84" width="1.8" height="3.28" fill="#ff1000"/><rect x="622.8" y="229.84" width="1.8" height="3.28" fill="#ff0e00"/><rect x="624.3" y="229.84" width="1.8" height="3.28" fill="#ff2800"/><rect x="625.8" y="229.84" width="1.8" height="3.28" fill="#ff3900"/><rect x="627.3" y="229.84" width="1.8" height="3.28" fill="#ff3000"/><rect x="628.8" y="229.84" width="1.8" height="3.28" fill="#ff5e00"/><rect x="630.3" y="229.84" width="1.8" height="3.28" fill="#ffb200"/><rect x="631.8" y="229.84" width="1.8" height="3.28" fill="#fdff02"/><rect x="633.3" y="229.84" width="1.8" height="3.28" fill="#90ff6f"/><rect x="634.8" y="229.84" width="1.8" height="3.28" fill="#18ffe7"/><rect x="595.8" y="232.82" width="1.8" height="3.28" fill="#37ffc8"/><rect x="597.3" y="232.82" width="1.8" height="3.28" fill="#d4ff2b"/><rect x="598.8" y="232.82" width="1.8" height="3.28" fill="#ffec00"/><rect x="600.3" y="232.82" width="1.8" height="3.28" fill="#ffc300"/><rect x="601.8" y="232.82" width="1.8" height="3.28" fill="#ff8f00"/><rect x="603.3" y="232.82" width="1.8" height="3.28" fill="#ff6d00"/><rect x="604.8" y="232.82" width="1.8" height="3.28" fill="#ff5d00"/><rect x="606.3" y="232.82" width="1.8" height="3.28" fill="#ff4100"/><rect x="607.8" y="232.82" width="1.8" height="3.28" fill="#ff1600"/><rect x="609.3" y="232.82" width="1.8" height="3.28" fill="#ff1800"/><rect x="610.8" y="232.82" width="1.8" height="3.28" fill="#ff1700"/><rect x="612.3" y="232.82" width="1.8" height="3.28" fill="#ff1600"/><rect x="613.8" y="232.82" width="1.8" height="3.28" fill="#ff1500"/><rect x="615.3" y="232.82" width="1.8" height="3.28" fill="#ff1400"/><rect x="616.8" y="232.82" width="1.8" height="3.28" fill="#ff1300"/><rect x="618.3" y="232.82" width="1.8" height="3.28" fill="#ff1200"/><rect x="619.8" y="232.82" width="1.8" height="3.28" fill="#ff1100"/><rect x="621.3" y="232.82" width="1.8" height="3.28" fill="#ff1000"/><rect x="622.8" y="232.82" width="1.8" height="3.28" fill="#ff0e00"/><rect x="624.3" y="232.82" width="1.8" height="3.28" fill="#ff2700"/><rect x="625.8" y="232.82" width="1.8" height="3.28" fill="#ff3500"/><rect x="627.3" y="232.82" width="1.8" height="3.28" fill="#ff2900"/><rect x="628.8" y="232.82" width="1.8" height="3.28" fill="#ff5800"/><rect x="630.3" y="232.82" width="1.8" height="3.28" fill="#ffaf00"/><rect x="631.8" y="232.82" width="1.8" height="3.28" fill="#feff01"/><rect x="633.3" y="232.82" width="1.8" height="3.28" fill="#91ff6e"/><rect x="634.8" y="232.82" width="1.8" height="3.28" fill="#18ffe7"/><rect x="595.8" y="235.8" width="1.8" height="3.28" fill="#37ffc8"/><rect x="597.3" y="235.8" width="1.8" height="3.28" fill="#d4ff2b"/><rect x="598.8" y="235.8" width="1.8" height="3.28" fill="#ffec00"/><rect x="600.3" y="235.8" width="1.8" height="3.28" fill="#ffc300"/><rect x="601.8" y="235.8" width="1.8" height="3.28" fill="#ff8d00"/><rect x="603.3" y="235.8" width="1.8" height="3.28" fill="#ff6800"/><rect x="604.8" y="235.8" width="1.8" height="3.28" fill="#ff5800"/><rect x="606.3" y="235.8" width="1.8" height="3.28" fill="#ff3f00"/><rect x="607.8" y="235.8" width="1.8" height="3.28" fill="#ff1500"/><rect x="609.3" y="235.8" width="1.8" height="3.28" fill="#ff1800"/><rect x="610.8" y="235.8" width="1.8" height="3.28" fill="#ff1700"/><rect x="612.3" y="235.8" width="1.8" height="3.28" fill="#ff1600"/><rect x="613.8" y="235.8" width="1.8" height="3.28" fill="#ff1500"/><rect x="615.3" y="235.8" width="1.8" height="3.28" fill="#ff1400"/><rect x="616.8" y="235.8" width="1.8" height="3.28" fill="#ff1300"/><rect x="618.3" y="235.8" width="1.8" height="3.28" fill="#ff1200"/><rect x="619.8" y="235.8" width="1.8" height="3.28" fill="#ff1100"/><rect x="621.3" y="235.8" width="1.8" height="3.28" fill="#ff1000"/><rect x="622.8" y="235.8" width="1.8" height="3.28" fill="#ff0f00"/><rect x="624.3" y="235.8" width="1.8" height="3.28" fill="#ff2900"/><rect x="625.8" y="235.8" width="1.8" height="3.28" fill="#ff3600"/><rect x="627.3" y="235.8" width="1.8" height="3.28" fill="#ff2900"/><rect x="628.8" y="235.8" width="1.8" height="3.28" fill="#ff5700"/><rect x="630.3" y="235.8" width="1.8" height="3.28" fill="#ffaf00"/><rect x="631.8" y="235.8" width="1.8" height="3.28" fill="#feff01"/><rect x="633.3" y="235.8" width="1.8" height="3.28" fill="#91ff6e"/><rect x="634.8" y="235.8" width="1.8" height="3.28" fill="#18ffe7"/><rect x="595.8" y="238.79" width="1.8" height="3.28" fill="#37ffc8"/><rect x="597.3" y="238.79" width="1.8" height="3.28" fill="#d4ff2b"/><rect x="598.8" y="238.79" width="1.8" height="3.28" fill="#ffec00"/><rect x="600.3" y="238.79" width="1.8" height="3.28" fill="#ffc300"/><rect x="601.8" y="238.79" width="1.8" height="3.28" fill="#ff8a00"/><rect x="603.3" y="238.79" width="1.8" height="3.28" fill="#ff6200"/><rect x="604.8" y="238.79" width="1.8" height="3.28" fill="#ff5200"/><rect x="606.3" y="238.79" width="1.8" height="3.28" fill="#ff3b00"/><rect x="607.8" y="238.79" width="1.8" height="3.28" fill="#ff1500"/><rect x="609.3" y="238.79" width="1.8" height="3.28" fill="#ff1800"/><rect x="610.8" y="238.79" width="1.8" height="3.28" fill="#ff1700"/><rect x="612.3" y="238.79" width="1.8" height="3.28" fill="#ff1600"/><rect x="613.8" y="238.79" width="1.8" height="3.28" fill="#ff1500"/><rect x="615.3" y="238.79" width="1.8" height="3.28" fill="#ff1400"/><rect x="616.8" y="238.79" width="1.8" height="3.28" fill="#ff1300"/><rect x="618.3" y="238.79" width="1.8" height="3.28" fill="#ff1200"/><rect x="619.8" y="238.79" width="1.8" height="3.28" fill="#ff1100"/><rect x="621.3" y="238.79" width="1.8" height="3.28" fill="#ff1200"/><rect x="622.8" y="238.79" width="1.8" height="3.28" fill="#ff2500"/><rect x="624.3" y="238.79" width="1.8" height="3.28" fill="#ff6300"/><rect x="625.8" y="238.79" width="1.8" height="3.28" fill="#ff4e00"/><rect x="627.3" y="238.79" width="1.8" height="3.28" fill="#ff3200"/><rect x="628.8" y="238.79" width="1.8" height="3.28" fill="#ff5e00"/><rect x="630.3" y="238.79" width="1.8" height="3.28" fill="#ffb200"/><rect x="631.8" y="238.79" width="1.8" height="3.28" fill="#fdff02"/><rect x="633.3" y="238.79" width="1.8" height="3.28" fill="#90ff6f"/><rect x="634.8" y="238.79" width="1.8" height="3.28" fill="#18ffe7"/><rect x="595.8" y="241.77" width="1.8" height="3.28" fill="#37ffc8"/><rect x="597.3" y="241.77" width="1.8" height="3.28" fill="#d4ff2b"/><rect x="598.8" y="241.77" width="1.8" height="3.28" fill="#ffec00"/><rect x="600.3" y="241.77" width="1.8" height="3.28" fill="#ffc200"/><rect x="601.8" y="241.77" width="1.8" height="3.28" fill="#ff8800"/><rect x="603.3" y="241.77" width="1.8" height="3.28" fill="#ff5d00"/><rect x="604.8" y="241.77" width="1.8" height="3.28" fill="#ff4c00"/><rect x="606.3" y="241.77" width="1.8" height="3.28" fill="#ff3800"/><rect x="607.8" y="241.77" width="1.8" height="3.28" fill="#ff1400"/><rect x="609.3" y="241.77" width="1.8" height="3.28" fill="#ff1700"/><rect x="610.8" y="241.77" width="1.8" height="3.28" fill="#ff1700"/><rect x="612.3" y="241.77" width="1.8" height="3.28" fill="#ff1600"/><rect x="613.8" y="241.77" width="1.8" height="3.28" fill="#ff1500"/><rect x="615.3" y="241.77" width="1.8" height="3.28" fill="#ff1400"/><rect x="616.8" y="241.77" width="1.8" height="3.28" fill="#ff1300"/><rect x="618.3" y="241.77" width="1.8" height="3.28" fill="#ff1200"/><rect x="619.8" y="241.77" width="1.8" height="3.28" fill="#ff1100"/><rect x="621.3" y="241.77" width="1.8" height="3.28" fill="#ff1100"/><rect x="622.8" y="241.77" width="1.8" height="3.28" fill="#ff0f00"/><rect x="624.3" y="241.77" width="1.8" height="3.28" fill="#ff2e00"/><rect x="625.8" y="241.77" width="1.8" height="3.28" fill="#ff4700"/><rect x="627.3" y="241.77" width="1.8" height="3.28" fill="#ff4400"/><rect x="628.8" y="241.77" width="1.8" height="3.28" fill="#ff6e00"/><rect x="630.3" y="241.77" width="1.8" height="3.28" fill="#ffb900"/><rect x="631.8" y="241.77" width="1.8" height="3.28" fill="#fcff03"/><rect x="633.3" y="241.77" width="1.8" height="3.28" fill="#90ff6f"/><rect x="634.8" y="241.77" width="1.8" height="3.28" fill="#18ffe7"/><rect x="595.8" y="244.76" width="1.8" height="3.28" fill="#37ffc8"/><rect x="597.3" y="244.76" width="1.8" height="3.28" fill="#d4ff2b"/><rect x="598.8" y="244.76" width="1.8" height="3.28" fill="#ffeb00"/><rect x="600.3" y="244.76" width="1.8" height="3.28" fill="#ffc100"/><rect x="601.8" y="244.76" width="1.8" height="3.28" fill="#ff8500"/><rect x="603.3" y="244.76" width="1.8" height="3.28" fill="#ff5700"/><rect x="604.8" y="244.76" width="1.8" height="3.28" fill="#ff4500"/><rect x="606.3" y="244.76" width="1.8" height="3.28" fill="#ff3500"/><rect x="607.8" y="244.76" width="1.8" height="3.28" fill="#ff1300"/><rect x="609.3" y="244.76" width="1.8" height="3.28" fill="#ff1700"/><rect x="610.8" y="244.76" width="1.8" height="3.28" fill="#ff1700"/><rect x="612.3" y="244.76" width="1.8" height="3.28" fill="#ff1600"/><rect x="613.8" y="244.76" width="1.8" height="3.28" fill="#ff1600"/><rect x="615.3" y="244.76" width="1.8" height="3.28" fill="#ff1600"/><rect x="616.8" y="244.76" width="1.8" height="3.28" fill="#ff1500"/><rect x="618.3" y="244.76" width="1.8" height="3.28" fill="#ff1400"/><rect x="619.8" y="244.76" width="1.8" height="3.28" fill="#ff1200"/><rect x="621.3" y="244.76" width="1.8" height="3.28" fill="#ff1100"/><rect x="622.8" y="244.76" width="1.8" height="3.28" fill="#ff1200"/><rect x="624.3" y="244.76" width="1.8" height="3.28" fill="#ff3800"/><rect x="625.8" y="244.76" width="1.8" height="3.28" fill="#ff6100"/><rect x="627.3" y="244.76" width="1.8" height="3.28" fill="#ff6a00"/><rect x="628.8" y="244.76" width="1.8" height="3.28" fill="#ff8c00"/><rect x="630.3" y="244.76" width="1.8" height="3.28" fill="#ffc600"/><rect x="631.8" y="244.76" width="1.8" height="3.28" fill="#f8ff07"/><rect x="633.3" y="244.76" width="1.8" height="3.28" fill="#90ff6f"/><rect x="634.8" y="244.76" width="1.8" height="3.28" fill="#18ffe7"/><rect x="595.8" y="247.74" width="1.8" height="3.28" fill="#37ffc8"/><rect x="597.3" y="247.74" width="1.8" height="3.28" fill="#d4ff2b"/><rect x="598.8" y="247.74" width="1.8" height="3.28" fill="#ffeb00"/><rect x="600.3" y="247.74" width="1.8" height="3.28" fill="#ffc100"/><rect x="601.8" y="247.74" width="1.8" height="3.28" fill="#ff8200"/><rect x="603.3" y="247.74" width="1.8" height="3.28" fill="#ff5100"/><rect x="604.8" y="247.74" width="1.8" height="3.28" fill="#ff3f00"/><rect x="606.3" y="247.74" width="1.8" height="3.28" fill="#ff3100"/><rect x="607.8" y="247.74" width="1.8" height="3.28" fill="#ff1200"/><rect x="609.3" y="247.74" width="1.8" height="3.28" fill="#ff1700"/><rect x="610.8" y="247.74" width="1.8" height="3.28" fill="#ff1700"/><rect x="612.3" y="247.74" width="1.8" height="3.28" fill="#ff1800"/><rect x="613.8" y="247.74" width="1.8" height="3.28" fill="#ff1b00"/><rect x="615.3" y="247.74" width="1.8" height="3.28" fill="#ff2300"/><rect x="616.8" y="247.74" width="1.8" height="3.28" fill="#ff2900"/><rect x="618.3" y="247.74" width="1.8" height="3.28" fill="#ff2500"/><rect x="619.8" y="247.74" width="1.8" height="3.28" fill="#ff1c00"/><rect x="621.3" y="247.74" width="1.8" height="3.28" fill="#ff1500"/><rect x="622.8" y="247.74" width="1.8" height="3.28" fill="#ff1600"/><rect x="624.3" y="247.74" width="1.8" height="3.28" fill="#ff4700"/><rect x="625.8" y="247.74" width="1.8" height="3.28" fill="#ff8400"/><rect x="627.3" y="247.74" width="1.8" height="3.28" fill="#ff9b00"/><rect x="628.8" y="247.74" width="1.8" height="3.28" fill="#ffb300"/><rect x="630.3" y="247.74" width="1.8" height="3.28" fill="#ffd800"/><rect x="631.8" y="247.74" width="1.8" height="3.28" fill="#f4ff0b"/><rect x="633.3" y="247.74" width="1.8" height="3.28" fill="#8fff70"/><rect x="634.8" y="247.74" width="1.8" height="3.28" fill="#18ffe7"/><rect x="595.8" y="250.72" width="1.8" height="3.28" fill="#37ffc8"/><rect x="597.3" y="250.72" width="1.8" height="3.28" fill="#d4ff2b"/><rect x="598.8" y="250.72" width="1.8" height="3.28" fill="#ffeb00"/><rect x="600.3" y="250.72" width="1.8" height="3.28" fill="#ffc000"/><rect x="601.8" y="250.72" width="1.8" height="3.28" fill="#ff8000"/><rect x="603.3" y="250.72" width="1.8" height="3.28" fill="#ff4b00"/><rect x="604.8" y="250.72" width="1.8" height="3.28" fill="#ff3800"/><rect x="606.3" y="250.72" width="1.8" height="3.28" fill="#ff2e00"/><rect x="607.8" y="250.72" width="1.8" height="3.28" fill="#ff1100"/><rect x="609.3" y="250.72" width="1.8" height="3.28" fill="#ff1700"/><rect x="610.8" y="250.72" width="1.8" height="3.28" fill="#ff1800"/><rect x="612.3" y="250.72" width="1.8" height="3.28" fill="#ff1b00"/><rect x="613.8" y="250.72" width="1.8" height="3.28" fill="#ff2900"/><rect x="615.3" y="250.72" width="1.8" height="3.28" fill="#ff4600"/><rect x="616.8" y="250.72" width="1.8" height="3.28" fill="#ff5c00"/><rect x="618.3" y="250.72" width="1.8" height="3.28" fill="#ff5300"/><rect x="619.8" y="250.72" width="1.8" height="3.28" fill="#ff3400"/><rect x="621.3" y="250.72" width="1.8" height="3.28" fill="#ff1c00"/><rect x="622.8" y="250.72" width="1.8" height="3.28" fill="#ff1900"/><rect x="624.3" y="250.72" width="1.8" height="3.28" fill="#ff4f00"/><rect x="625.8" y="250.72" width="1.8" height="3.28" fill="#ff9900"/><rect x="627.3" y="250.72" width="1.8" height="3.28" fill="#ffb900"/><rect x="628.8" y="250.72" width="1.8" height="3.28" fill="#ffcc00"/><rect x="630.3" y="250.72" width="1.8" height="3.28" fill="#ffe300"/><rect x="631.8" y="250.72" width="1.8" height="3.28" fill="#f1ff0e"/><rect x="633.3" y="250.72" width="1.8" height="3.28" fill="#8fff70"/><rect x="634.8" y="250.72" width="1.8" height="3.28" fill="#18ffe7"/><rect x="595.8" y="253.71" width="1.8" height="3.28" fill="#37ffc8"/><rect x="597.3" y="253.71" width="1.8" height="3.28" fill="#d4ff2b"/><rect x="598.8" y="253.71" width="1.8" height="3.28" fill="#ffeb00"/><rect x="600.3" y="253.71" width="1.8" height="3.28" fill="#ffc000"/><rect x="601.8" y="253.71" width="1.8" height="3.28" fill="#ff7d00"/><rect x="603.3" y="253.71" width="1.8" height="3.28" fill="#ff4600"/><rect x="604.8" y="253.71" width="1.8" height="3.28" fill="#ff3300"/><rect x="606.3" y="253.71" width="1.8" height="3.28" fill="#ff2a00"/><rect x="607.8" y="253.71" width="1.8" height="3.28" fill="#ff1000"/><rect x="609.3" y="253.71" width="1.8" height="3.28" fill="#ff1700"/><rect x="610.8" y="253.71" width="1.8" height="3.28" fill="#ff1800"/><rect x="612.3" y="253.71" width="1.8" height="3.28" fill="#ff1c00"/><rect x="613.8" y="253.71" width="1.8" height="3.28" fill="#ff2c00"/><rect x="615.3" y="253.71" width="1.8" height="3.28" fill="#ff4b00"/><rect x="616.8" y="253.71" width="1.8" height="3.28" fill="#ff6400"/><rect x="618.3" y="253.71" width="1.8" height="3.28" fill="#ff5900"/><rect x="619.8" y="253.71" width="1.8" height="3.28" fill="#ff3500"/><rect x="621.3" y="253.71" width="1.8" height="3.28" fill="#ff1a00"/><rect x="622.8" y="253.71" width="1.8" height="3.28" fill="#ff1600"/><rect x="624.3" y="253.71" width="1.8" height="3.28" fill="#ff4900"/><rect x="625.8" y="253.71" width="1.8" height="3.28" fill="#ff8f00"/><rect x="627.3" y="253.71" width="1.8" height="3.28" fill="#ffb100"/><rect x="628.8" y="253.71" width="1.8" height="3.28" fill="#ffc700"/><rect x="630.3" y="253.71" width="1.8" height="3.28" fill="#ffe000"/><rect x="631.8" y="253.71" width="1.8" height="3.28" fill="#f2ff0d"/><rect x="633.3" y="253.71" width="1.8" height="3.28" fill="#8fff70"/><rect x="634.8" y="253.71" width="1.8" height="3.28" fill="#18ffe7"/><rect x="595.8" y="256.69" width="1.8" height="3.28" fill="#37ffc8"/><rect x="597.3" y="256.69" width="1.8" height="3.28" fill="#d4ff2b"/><rect x="598.8" y="256.69" width="1.8" height="3.28" fill="#ffeb00"/><rect x="600.3" y="256.69" width="1.8" height="3.28" fill="#ffbf00"/><rect x="601.8" y="256.69" width="1.8" height="3.28" fill="#ff7b00"/><rect x="603.3" y="256.69" width="1.8" height="3.28" fill="#ff4100"/><rect x="604.8" y="256.69" width="1.8" height="3.28" fill="#ff2e00"/><rect x="606.3" y="256.69" width="1.8" height="3.28" fill="#ff2800"/><rect x="607.8" y="256.69" width="1.8" height="3.28" fill="#ff0f00"/><rect x="609.3" y="256.69" width="1.8" height="3.28" fill="#ff1700"/><rect x="610.8" y="256.69" width="1.8" height="3.28" fill="#ff1700"/><rect x="612.3" y="256.69" width="1.8" height="3.28" fill="#ff1800"/><rect x="613.8" y="256.69" width="1.8" height="3.28" fill="#ff1d00"/><rect x="615.3" y="256.69" width="1.8" height="3.28" fill="#ff2800"/><rect x="616.8" y="256.69" width="1.8" height="3.28" fill="#ff2e00"/><rect x="618.3" y="256.69" width="1.8" height="3.28" fill="#ff2600"/><rect x="619.8" y="256.69" width="1.8" height="3.28" fill="#ff1500"/><rect x="621.3" y="256.69" width="1.8" height="3.28" fill="#ff0c00"/><rect x="622.8" y="256.69" width="1.8" height="3.28" fill="#ff0e00"/><rect x="624.3" y="256.69" width="1.8" height="3.28" fill="#ff3d00"/><rect x="625.8" y="256.69" width="1.8" height="3.28" fill="#ff7a00"/><rect x="627.3" y="256.69" width="1.8" height="3.28" fill="#ff9900"/><rect x="628.8" y="256.69" width="1.8" height="3.28" fill="#ffb500"/><rect x="630.3" y="256.69" width="1.8" height="3.28" fill="#ffd800"/><rect x="631.8" y="256.69" width="1.8" height="3.28" fill="#f5ff0a"/><rect x="633.3" y="256.69" width="1.8" height="3.28" fill="#8fff70"/><rect x="634.8" y="256.69" width="1.8" height="3.28" fill="#18ffe7"/><rect x="595.8" y="259.68" width="1.8" height="3.28" fill="#37ffc8"/><rect x="597.3" y="259.68" width="1.8" height="3.28" fill="#d4ff2b"/><rect x="598.8" y="259.68" width="1.8" height="3.28" fill="#ffeb00"/><rect x="600.3" y="259.68" width="1.8" height="3.28" fill="#ffbf00"/><rect x="601.8" y="259.68" width="1.8" height="3.28" fill="#ff7a00"/><rect x="603.3" y="259.68" width="1.8" height="3.28" fill="#ff3d00"/><rect x="604.8" y="259.68" width="1.8" height="3.28" fill="#ff2a00"/><rect x="606.3" y="259.68" width="1.8" height="3.28" fill="#ff2600"/><rect x="607.8" y="259.68" width="1.8" height="3.28" fill="#ff0f00"/><rect x="609.3" y="259.68" width="1.8" height="3.28" fill="#ff1700"/><rect x="610.8" y="259.68" width="1.8" height="3.28" fill="#ff1700"/><rect x="612.3" y="259.68" width="1.8" height="3.28" fill="#ff1700"/><rect x="613.8" y="259.68" width="1.8" height="3.28" fill="#ff1600"/><rect x="615.3" y="259.68" width="1.8" height="3.28" fill="#ff1600"/><rect x="616.8" y="259.68" width="1.8" height="3.28" fill="#ff1200"/><rect x="618.3" y="259.68" width="1.8" height="3.28" fill="#ff0900"/><rect x="619.8" y="259.68" width="1.8" height="3.28" fill="#ff0100"/><rect x="621.3" y="259.68" width="1.8" height="3.28" fill="#ff0100"/><rect x="622.8" y="259.68" width="1.8" height="3.28" fill="#ff0800"/><rect x="624.3" y="259.68" width="1.8" height="3.28" fill="#ff3600"/><rect x="625.8" y="259.68" width="1.8" height="3.28" fill="#ff6e00"/><rect x="627.3" y="259.68" width="1.8" height="3.28" fill="#ff8b00"/><rect x="628.8" y="259.68" width="1.8" height="3.28" fill="#ffab00"/><rect x="630.3" y="259.68" width="1.8" height="3.28" fill="#ffd300"/><rect x="631.8" y="259.68" width="1.8" height="3.28" fill="#f6ff09"/><rect x="633.3" y="259.68" width="1.8" height="3.28" fill="#90ff6f"/><rect x="634.8" y="259.68" width="1.8" height="3.28" fill="#18ffe7"/><rect x="595.8" y="262.66" width="1.8" height="3.28" fill="#37ffc8"/><rect x="597.3" y="262.66" width="1.8" height="3.28" fill="#d4ff2b"/><rect x="598.8" y="262.66" width="1.8" height="3.28" fill="#ffeb00"/><rect x="600.3" y="262.66" width="1.8" height="3.28" fill="#ffbf00"/><rect x="601.8" y="262.66" width="1.8" height="3.28" fill="#ff7900"/><rect x="603.3" y="262.66" width="1.8" height="3.28" fill="#ff3b00"/><rect x="604.8" y="262.66" width="1.8" height="3.28" fill="#ff2700"/><rect x="606.3" y="262.66" width="1.8" height="3.28" fill="#ff2400"/><rect x="607.8" y="262.66" width="1.8" height="3.28" fill="#ff0e00"/><rect x="609.3" y="262.66" width="1.8" height="3.28" fill="#ff1700"/><rect x="610.8" y="262.66" width="1.8" height="3.28" fill="#ff1700"/><rect x="612.3" y="262.66" width="1.8" height="3.28" fill="#ff1600"/><rect x="613.8" y="262.66" width="1.8" height="3.28" fill="#ff1500"/><rect x="615.3" y="262.66" width="1.8" height="3.28" fill="#ff1300"/><rect x="616.8" y="262.66" width="1.8" height="3.28" fill="#ff0d00"/><rect x="618.3" y="262.66" width="1.8" height="3.28" fill="#ff0100"/><rect x="619.8" y="262.66" width="1.8" height="3.28" fill="#f70000"/><rect x="621.3" y="262.66" width="1.8" height="3.28" fill="#f90000"/><rect x="622.8" y="262.66" width="1.8" height="3.28" fill="#ff0500"/><rect x="624.3" y="262.66" width="1.8" height="3.28" fill="#ff3500"/><rect x="625.8" y="262.66" width="1.8" height="3.28" fill="#ff6e00"/><rect x="627.3" y="262.66" width="1.8" height="3.28" fill="#ff8a00"/><rect x="628.8" y="262.66" width="1.8" height="3.28" fill="#ffaa00"/><rect x="630.3" y="262.66" width="1.8" height="3.28" fill="#ffd200"/><rect x="631.8" y="262.66" width="1.8" height="3.28" fill="#f7ff08"/><rect x="633.3" y="262.66" width="1.8" height="3.28" fill="#90ff6f"/><rect x="634.8" y="262.66" width="1.8" height="3.28" fill="#18ffe7"/><rect x="595.8" y="265.64" width="1.8" height="3.28" fill="#37ffc8"/><rect x="597.3" y="265.64" width="1.8" height="3.28" fill="#d4ff2b"/><rect x="598.8" y="265.64" width="1.8" height="3.28" fill="#ffeb00"/><rect x="600.3" y="265.64" width="1.8" height="3.28" fill="#ffbf00"/><rect x="601.8" y="265.64" width="1.8" height="3.28" fill="#ff7800"/><rect x="603.3" y="265.64" width="1.8" height="3.28" fill="#ff3a00"/><rect x="604.8" y="265.64" width="1.8" height="3.28" fill="#ff2600"/><rect x="606.3" y="265.64" width="1.8" height="3.28" fill="#ff2400"/><rect x="607.8" y="265.64" width="1.8" height="3.28" fill="#ff0e00"/><rect x="609.3" y="265.64" width="1.8" height="3.28" fill="#ff1700"/><rect x="610.8" y="265.64" width="1.8" height="3.28" fill="#ff1700"/><rect x="612.3" y="265.64" width="1.8" height="3.28" fill="#ff1600"/><rect x="613.8" y="265.64" width="1.8" height="3.28" fill="#ff1500"/><rect x="615.3" y="265.64" width="1.8" height="3.28" fill="#ff1200"/><rect x="616.8" y="265.64" width="1.8" height="3.28" fill="#ff0b00"/><rect x="618.3" y="265.64" width="1.8" height="3.28" fill="#fe0000"/><rect x="619.8" y="265.64" width="1.8" height="3.28" fill="#f30000"/><rect x="621.3" y="265.64" width="1.8" height="3.28" fill="#f70000"/><rect x="622.8" y="265.64" width="1.8" height="3.28" fill="#ff0700"/><rect x="624.3" y="265.64" width="1.8" height="3.28" fill="#ff3b00"/><rect x="625.8" y="265.64" width="1.8" height="3.28" fill="#ff7500"/><rect x="627.3" y="265.64" width="1.8" height="3.28" fill="#ff9000"/><rect x="628.8" y="265.64" width="1.8" height="3.28" fill="#ffad00"/><rect x="630.3" y="265.64" width="1.8" height="3.28" fill="#ffd300"/><rect x="631.8" y="265.64" width="1.8" height="3.28" fill="#f7ff08"/><rect x="633.3" y="265.64" width="1.8" height="3.28" fill="#90ff6f"/><rect x="634.8" y="265.64" width="1.8" height="3.28" fill="#18ffe7"/><rect x="595.8" y="268.63" width="1.8" height="3.28" fill="#37ffc8"/><rect x="597.3" y="268.63" width="1.8" height="3.28" fill="#d4ff2b"/><rect x="598.8" y="268.63" width="1.8" height="3.28" fill="#ffeb00"/><rect x="600.3" y="268.63" width="1.8" height="3.28" fill="#ffbf00"/><rect x="601.8" y="268.63" width="1.8" height="3.28" fill="#ff7800"/><rect x="603.3" y="268.63" width="1.8" height="3.28" fill="#ff3a00"/><rect x="604.8" y="268.63" width="1.8" height="3.28" fill="#ff2600"/><rect x="606.3" y="268.63" width="1.8" height="3.28" fill="#ff2400"/><rect x="607.8" y="268.63" width="1.8" height="3.28" fill="#ff0e00"/><rect x="609.3" y="268.63" width="1.8" height="3.28" fill="#ff1700"/><rect x="610.8" y="268.63" width="1.8" height="3.28" fill="#ff1700"/><rect x="612.3" y="268.63" width="1.8" height="3.28" fill="#ff1600"/><rect x="613.8" y="268.63" width="1.8" height="3.28" fill="#ff1500"/><rect x="615.3" y="268.63" width="1.8" height="3.28" fill="#ff1200"/><rect x="616.8" y="268.63" width="1.8" height="3.28" fill="#ff0c00"/><rect x="618.3" y="268.63" width="1.8" height="3.28" fill="#fe0000"/><rect x="619.8" y="268.63" width="1.8" height="3.28" fill="#f50000"/><rect x="621.3" y="268.63" width="1.8" height="3.28" fill="#fa0000"/><rect x="622.8" y="268.63" width="1.8" height="3.28" fill="#ff0e00"/><rect x="624.3" y="268.63" width="1.8" height="3.28" fill="#ff4700"/><rect x="625.8" y="268.63" width="1.8" height="3.28" fill="#ff8300"/><rect x="627.3" y="268.63" width="1.8" height="3.28" fill="#ff9900"/><rect x="628.8" y="268.63" width="1.8" height="3.28" fill="#ffb100"/><rect x="630.3" y="268.63" width="1.8" height="3.28" fill="#ffd400"/><rect x="631.8" y="268.63" width="1.8" height="3.28" fill="#f6ff09"/><rect x="633.3" y="268.63" width="1.8" height="3.28" fill="#90ff6f"/><rect x="634.8" y="268.63" width="1.8" height="3.28" fill="#18ffe7"/><rect x="595.8" y="271.61" width="1.8" height="3.28" fill="#37ffc8"/><rect x="597.3" y="271.61" width="1.8" height="3.28" fill="#d4ff2b"/><rect x="598.8" y="271.61" width="1.8" height="3.28" fill="#ffeb00"/><rect x="600.3" y="271.61" width="1.8" height="3.28" fill="#ffbf00"/><rect x="601.8" y="271.61" width="1.8" height="3.28" fill="#ff7900"/><rect x="603.3" y="271.61" width="1.8" height="3.28" fill="#ff3c00"/><rect x="604.8" y="271.61" width="1.8" height="3.28" fill="#ff2800"/><rect x="606.3" y="271.61" width="1.8" height="3.28" fill="#ff2500"/><rect x="607.8" y="271.61" width="1.8" height="3.28" fill="#ff0f00"/><rect x="609.3" y="271.61" width="1.8" height="3.28" fill="#ff1700"/><rect x="610.8" y="271.61" width="1.8" height="3.28" fill="#ff1700"/><rect x="612.3" y="271.61" width="1.8" height="3.28" fill="#ff1600"/><rect x="613.8" y="271.61" width="1.8" height="3.28" fill="#ff1500"/><rect x="615.3" y="271.61" width="1.8" height="3.28" fill="#ff1300"/><rect x="616.8" y="271.61" width="1.8" height="3.28" fill="#ff0d00"/><rect x="618.3" y="271.61" width="1.8" height="3.28" fill="#ff0300"/><rect x="619.8" y="271.61" width="1.8" height="3.28" fill="#fb0000"/><rect x="621.3" y="271.61" width="1.8" height="3.28" fill="#ff0400"/><rect x="622.8" y="271.61" width="1.8" height="3.28" fill="#ff1c00"/><rect x="624.3" y="271.61" width="1.8" height="3.28" fill="#ff5c00"/><rect x="625.8" y="271.61" width="1.8" height="3.28" fill="#ff9800"/><rect x="627.3" y="271.61" width="1.8" height="3.28" fill="#ffa700"/><rect x="628.8" y="271.61" width="1.8" height="3.28" fill="#ffb700"/><rect x="630.3" y="271.61" width="1.8" height="3.28" fill="#ffd500"/><rect x="631.8" y="271.61" width="1.8" height="3.28" fill="#f6ff09"/><rect x="633.3" y="271.61" width="1.8" height="3.28" fill="#90ff6f"/><rect x="634.8" y="271.61" width="1.8" height="3.28" fill="#18ffe7"/><rect x="595.8" y="274.59" width="1.8" height="3.28" fill="#37ffc8"/><rect x="597.3" y="274.59" width="1.8" height="3.28" fill="#d4ff2b"/><rect x="598.8" y="274.59" width="1.8" height="3.28" fill="#ffeb00"/><rect x="600.3" y="274.59" width="1.8" height="3.28" fill="#ffbf00"/><rect x="601.8" y="274.59" width="1.8" height="3.28" fill="#ff7a00"/><rect x="603.3" y="274.59" width="1.8" height="3.28" fill="#ff3f00"/><rect x="604.8" y="274.59" width="1.8" height="3.28" fill="#ff2b00"/><rect x="606.3" y="274.59" width="1.8" height="3.28" fill="#ff2600"/><rect x="607.8" y="274.59" width="1.8" height="3.28" fill="#ff0f00"/><rect x="609.3" y="274.59" width="1.8" height="3.28" fill="#ff1700"/><rect x="610.8" y="274.59" width="1.8" height="3.28" fill="#ff1700"/><rect x="612.3" y="274.59" width="1.8" height="3.28" fill="#ff1600"/><rect x="613.8" y="274.59" width="1.8" height="3.28" fill="#ff1500"/><rect x="615.3" y="274.59" width="1.8" height="3.28" fill="#ff1300"/><rect x="616.8" y="274.59" width="1.8" height="3.28" fill="#ff0f00"/><rect x="618.3" y="274.59" width="1.8" height="3.28" fill="#ff0800"/><rect x="619.8" y="274.59" width="1.8" height="3.28" fill="#ff0500"/><rect x="621.3" y="274.59" width="1.8" height="3.28" fill="#ff0f00"/><rect x="622.8" y="274.59" width="1.8" height="3.28" fill="#ff2d00"/><rect x="624.3" y="274.59" width="1.8" height="3.28" fill="#ff7400"/><rect x="625.8" y="274.59" width="1.8" height="3.28" fill="#ffb100"/><rect x="627.3" y="274.59" width="1.8" height="3.28" fill="#ffb800"/><rect x="628.8" y="274.59" width="1.8" height="3.28" fill="#ffbe00"/><rect x="630.3" y="274.59" width="1.8" height="3.28" fill="#ffd700"/><rect x="631.8" y="274.59" width="1.8" height="3.28" fill="#f6ff09"/><rect x="633.3" y="274.59" width="1.8" height="3.28" fill="#90ff6f"/><rect x="634.8" y="274.59" width="1.8" height="3.28" fill="#18ffe7"/><rect x="595.8" y="277.58" width="1.8" height="3.28" fill="#37ffc8"/><rect x="597.3" y="277.58" width="1.8" height="3.28" fill="#d4ff2b"/><rect x="598.8" y="277.58" width="1.8" height="3.28" fill="#ffeb00"/><rect x="600.3" y="277.58" width="1.8" height="3.28" fill="#ffc000"/><rect x="601.8" y="277.58" width="1.8" height="3.28" fill="#ff7c00"/><rect x="603.3" y="277.58" width="1.8" height="3.28" fill="#ff4300"/><rect x="604.8" y="277.58" width="1.8" height="3.28" fill="#ff3000"/><rect x="606.3" y="277.58" width="1.8" height="3.28" fill="#ff2900"/><rect x="607.8" y="277.58" width="1.8" height="3.28" fill="#ff1000"/><rect x="609.3" y="277.58" width="1.8" height="3.28" fill="#ff1700"/><rect x="610.8" y="277.58" width="1.8" height="3.28" fill="#ff1700"/><rect x="612.3" y="277.58" width="1.8" height="3.28" fill="#ff1600"/><rect x="613.8" y="277.58" width="1.8" height="3.28" fill="#ff1500"/><rect x="615.3" y="277.58" width="1.8" height="3.28" fill="#ff1400"/><rect x="616.8" y="277.58" width="1.8" height="3.28" fill="#ff1100"/><rect x="618.3" y="277.58" width="1.8" height="3.28" fill="#ff0d00"/><rect x="619.8" y="277.58" width="1.8" height="3.28" fill="#ff0c00"/><rect x="621.3" y="277.58" width="1.8" height="3.28" fill="#ff1900"/><rect x="622.8" y="277.58" width="1.8" height="3.28" fill="#ff3b00"/><rect x="624.3" y="277.58" width="1.8" height="3.28" fill="#ff8900"/><rect x="625.8" y="277.58" width="1.8" height="3.28" fill="#ffc600"/><rect x="627.3" y="277.58" width="1.8" height="3.28" fill="#ffc500"/><rect x="628.8" y="277.58" width="1.8" height="3.28" fill="#ffc300"/><rect x="630.3" y="277.58" width="1.8" height="3.28" fill="#ffd800"/><rect x="631.8" y="277.58" width="1.8" height="3.28" fill="#f6ff09"/><rect x="633.3" y="277.58" width="1.8" height="3.28" fill="#90ff6f"/><rect x="634.8" y="277.58" width="1.8" height="3.28" fill="#18ffe7"/><rect x="595.8" y="280.56" width="1.8" height="3.28" fill="#37ffc8"/><rect x="597.3" y="280.56" width="1.8" height="3.28" fill="#d4ff2b"/><rect x="598.8" y="280.56" width="1.8" height="3.28" fill="#ffeb00"/><rect x="600.3" y="280.56" width="1.8" height="3.28" fill="#ffc000"/><rect x="601.8" y="280.56" width="1.8" height="3.28" fill="#ff7e00"/><rect x="603.3" y="280.56" width="1.8" height="3.28" fill="#ff4800"/><rect x="604.8" y="280.56" width="1.8" height="3.28" fill="#ff3500"/><rect x="606.3" y="280.56" width="1.8" height="3.28" fill="#ff2c00"/><rect x="607.8" y="280.56" width="1.8" height="3.28" fill="#ff1100"/><rect x="609.3" y="280.56" width="1.8" height="3.28" fill="#ff1700"/><rect x="610.8" y="280.56" width="1.8" height="3.28" fill="#ff1700"/><rect x="612.3" y="280.56" width="1.8" height="3.28" fill="#ff1600"/><rect x="613.8" y="280.56" width="1.8" height="3.28" fill="#ff1500"/><rect x="615.3" y="280.56" width="1.8" height="3.28" fill="#ff1400"/><rect x="616.8" y="280.56" width="1.8" height="3.28" fill="#ff1200"/><rect x="618.3" y="280.56" width="1.8" height="3.28" fill="#ff1000"/><rect x="619.8" y="280.56" width="1.8" height="3.28" fill="#ff1100"/><rect x="621.3" y="280.56" width="1.8" height="3.28" fill="#ff1f00"/><rect x="622.8" y="280.56" width="1.8" height="3.28" fill="#ff4200"/><rect x="624.3" y="280.56" width="1.8" height="3.28" fill="#ff9200"/><rect x="625.8" y="280.56" width="1.8" height="3.28" fill="#ffcf00"/><rect x="627.3" y="280.56" width="1.8" height="3.28" fill="#ffcb00"/><rect x="628.8" y="280.56" width="1.8" height="3.28" fill="#ffc500"/><rect x="630.3" y="280.56" width="1.8" height="3.28" fill="#ffd900"/><rect x="631.8" y="280.56" width="1.8" height="3.28" fill="#f6ff09"/><rect x="633.3" y="280.56" width="1.8" height="3.28" fill="#90ff6f"/><rect x="634.8" y="280.56" width="1.8" height="3.28" fill="#18ffe7"/><rect x="595.8" y="283.55" width="1.8" height="3.28" fill="#37ffc8"/><rect x="597.3" y="283.55" width="1.8" height="3.28" fill="#d4ff2b"/><rect x="598.8" y="283.55" width="1.8" height="3.28" fill="#ffeb00"/><rect x="600.3" y="283.55" width="1.8" height="3.28" fill="#ffc100"/><rect x="601.8" y="283.55" width="1.8" height="3.28" fill="#ff8100"/><rect x="603.3" y="283.55" width="1.8" height="3.28" fill="#ff4d00"/><rect x="604.8" y="283.55" width="1.8" height="3.28" fill="#ff3b00"/><rect x="606.3" y="283.55" width="1.8" height="3.28" fill="#ff3000"/><rect x="607.8" y="283.55" width="1.8" height="3.28" fill="#ff1200"/><rect x="609.3" y="283.55" width="1.8" height="3.28" fill="#ff1800"/><rect x="610.8" y="283.55" width="1.8" height="3.28" fill="#ff1700"/><rect x="612.3" y="283.55" width="1.8" height="3.28" fill="#ff1600"/><rect x="613.8" y="283.55" width="1.8" height="3.28" fill="#ff1500"/><rect x="615.3" y="283.55" width="1.8" height="3.28" fill="#ff1400"/><rect x="616.8" y="283.55" width="1.8" height="3.28" fill="#ff1300"/><rect x="618.3" y="283.55" width="1.8" height="3.28" fill="#ff1200"/><rect x="619.8" y="283.55" width="1.8" height="3.28" fill="#ff1300"/><rect x="621.3" y="283.55" width="1.8" height="3.28" fill="#ff2000"/><rect x="622.8" y="283.55" width="1.8" height="3.28" fill="#ff3f00"/><rect x="624.3" y="283.55" width="1.8" height="3.28" fill="#ff8a00"/><rect x="625.8" y="283.55" width="1.8" height="3.28" fill="#ffc600"/><rect x="627.3" y="283.55" width="1.8" height="3.28" fill="#ffc500"/><rect x="628.8" y="283.55" width="1.8" height="3.28" fill="#ffc300"/><rect x="630.3" y="283.55" width="1.8" height="3.28" fill="#ffd800"/><rect x="631.8" y="283.55" width="1.8" height="3.28" fill="#f6ff09"/><rect x="633.3" y="283.55" width="1.8" height="3.28" fill="#90ff6f"/><rect x="634.8" y="283.55" width="1.8" height="3.28" fill="#18ffe7"/><rect x="595.8" y="286.53" width="1.8" height="3.28" fill="#37ffc8"/><rect x="597.3" y="286.53" width="1.8" height="3.28" fill="#d4ff2b"/><rect x="598.8" y="286.53" width="1.8" height="3.28" fill="#ffeb00"/><rect x="600.3" y="286.53" width="1.8" height="3.28" fill="#ffc100"/><rect x="601.8" y="286.53" width="1.8" height="3.28" fill="#ff8300"/><rect x="603.3" y="286.53" width="1.8" height="3.28" fill="#ff5300"/><rect x="604.8" y="286.53" width="1.8" height="3.28" fill="#ff4200"/><rect x="606.3" y="286.53" width="1.8" height="3.28" fill="#ff3400"/><rect x="607.8" y="286.53" width="1.8" height="3.28" fill="#ff1400"/><rect x="609.3" y="286.53" width="1.8" height="3.28" fill="#ff1800"/><rect x="610.8" y="286.53" width="1.8" height="3.28" fill="#ff1700"/><rect x="612.3" y="286.53" width="1.8" height="3.28" fill="#ff1600"/><rect x="613.8" y="286.53" width="1.8" height="3.28" fill="#ff1500"/><rect x="615.3" y="286.53" width="1.8" height="3.28" fill="#ff1400"/><rect x="616.8" y="286.53" width="1.8" height="3.28" fill="#ff1300"/><rect x="618.3" y="286.53" width="1.8" height="3.28" fill="#ff1300"/><rect x="619.8" y="286.53" width="1.8" height="3.28" fill="#ff1400"/><rect x="621.3" y="286.53" width="1.8" height="3.28" fill="#ff1e00"/><rect x="622.8" y="286.53" width="1.8" height="3.28" fill="#ff3600"/><rect x="624.3" y="286.53" width="1.8" height="3.28" fill="#ff7800"/><rect x="625.8" y="286.53" width="1.8" height="3.28" fill="#ffb200"/><rect x="627.3" y="286.53" width="1.8" height="3.28" fill="#ffb800"/><rect x="628.8" y="286.53" width="1.8" height="3.28" fill="#ffbe00"/><rect x="630.3" y="286.53" width="1.8" height="3.28" fill="#ffd700"/><rect x="631.8" y="286.53" width="1.8" height="3.28" fill="#f6ff09"/><rect x="633.3" y="286.53" width="1.8" height="3.28" fill="#90ff6f"/><rect x="634.8" y="286.53" width="1.8" height="3.28" fill="#18ffe7"/><rect x="595.8" y="289.51" width="1.8" height="3.28" fill="#37ffc8"/><rect x="597.3" y="289.51" width="1.8" height="3.28" fill="#d4ff2b"/><rect x="598.8" y="289.51" width="1.8" height="3.28" fill="#ffeb00"/><rect x="600.3" y="289.51" width="1.8" height="3.28" fill="#ffc200"/><rect x="601.8" y="289.51" width="1.8" height="3.28" fill="#ff8600"/><rect x="603.3" y="289.51" width="1.8" height="3.28" fill="#ff5a00"/><rect x="604.8" y="289.51" width="1.8" height="3.28" fill="#ff4a00"/><rect x="606.3" y="289.51" width="1.8" height="3.28" fill="#ff3a00"/><rect x="607.8" y="289.51" width="1.8" height="3.28" fill="#ff1800"/><rect x="609.3" y="289.51" width="1.8" height="3.28" fill="#ff1a00"/><rect x="610.8" y="289.51" width="1.8" height="3.28" fill="#ff1800"/><rect x="612.3" y="289.51" width="1.8" height="3.28" fill="#ff1600"/><rect x="613.8" y="289.51" width="1.8" height="3.28" fill="#ff1500"/><rect x="615.3" y="289.51" width="1.8" height="3.28" fill="#ff1400"/><rect x="616.8" y="289.51" width="1.8" height="3.28" fill="#ff1300"/><rect x="618.3" y="289.51" width="1.8" height="3.28" fill="#ff1300"/><rect x="619.8" y="289.51" width="1.8" height="3.28" fill="#ff1400"/><rect x="621.3" y="289.51" width="1.8" height="3.28" fill="#ff1c00"/><rect x="622.8" y="289.51" width="1.8" height="3.28" fill="#ff2b00"/><rect x="624.3" y="289.51" width="1.8" height="3.28" fill="#ff6300"/><rect x="625.8" y="289.51" width="1.8" height="3.28" fill="#ff9a00"/><rect x="627.3" y="289.51" width="1.8" height="3.28" fill="#ffa800"/><rect x="628.8" y="289.51" width="1.8" height="3.28" fill="#ffb700"/><rect x="630.3" y="289.51" width="1.8" height="3.28" fill="#ffd500"/><rect x="631.8" y="289.51" width="1.8" height="3.28" fill="#f6ff09"/><rect x="633.3" y="289.51" width="1.8" height="3.28" fill="#90ff6f"/><rect x="634.8" y="289.51" width="1.8" height="3.28" fill="#18ffe7"/><rect x="595.8" y="292.5" width="1.8" height="3.28" fill="#37ffc8"/><rect x="597.3" y="292.5" width="1.8" height="3.28" fill="#d4ff2b"/><rect x="598.8" y="292.5" width="1.8" height="3.28" fill="#ffec00"/><rect x="600.3" y="292.5" width="1.8" height="3.28" fill="#ffc200"/><rect x="601.8" y="292.5" width="1.8" height="3.28" fill="#ff8900"/><rect x="603.3" y="292.5" width="1.8" height="3.28" fill="#ff6000"/><rect x="604.8" y="292.5" width="1.8" height="3.28" fill="#ff5300"/><rect x="606.3" y="292.5" width="1.8" height="3.28" fill="#ff4300"/><rect x="607.8" y="292.5" width="1.8" height="3.28" fill="#ff1e00"/><rect x="609.3" y="292.5" width="1.8" height="3.28" fill="#ff1d00"/><rect x="610.8" y="292.5" width="1.8" height="3.28" fill="#ff1900"/><rect x="612.3" y="292.5" width="1.8" height="3.28" fill="#ff1600"/><rect x="613.8" y="292.5" width="1.8" height="3.28" fill="#ff1500"/><rect x="615.3" y="292.5" width="1.8" height="3.28" fill="#ff1400"/><rect x="616.8" y="292.5" width="1.8" height="3.28" fill="#ff1400"/><rect x="618.3" y="292.5" width="1.8" height="3.28" fill="#ff1300"/><rect x="619.8" y="292.5" width="1.8" height="3.28" fill="#ff1500"/><rect x="621.3" y="292.5" width="1.8" height="3.28" fill="#ff1c00"/><rect x="622.8" y="292.5" width="1.8" height="3.28" fill="#ff2600"/><rect x="624.3" y="292.5" width="1.8" height="3.28" fill="#ff5500"/><rect x="625.8" y="292.5" width="1.8" height="3.28" fill="#ff8900"/><rect x="627.3" y="292.5" width="1.8" height="3.28" fill="#ff9c00"/><rect x="628.8" y="292.5" width="1.8" height="3.28" fill="#ffb200"/><rect x="630.3" y="292.5" width="1.8" height="3.28" fill="#ffd400"/><rect x="631.8" y="292.5" width="1.8" height="3.28" fill="#f6ff09"/><rect x="633.3" y="292.5" width="1.8" height="3.28" fill="#90ff6f"/><rect x="634.8" y="292.5" width="1.8" height="3.28" fill="#18ffe7"/><rect x="595.8" y="295.48" width="1.8" height="3.28" fill="#37ffc8"/><rect x="597.3" y="295.48" width="1.8" height="3.28" fill="#d4ff2b"/><rect x="598.8" y="295.48" width="1.8" height="3.28" fill="#ffec00"/><rect x="600.3" y="295.48" width="1.8" height="3.28" fill="#ffc300"/><rect x="601.8" y="295.48" width="1.8" height="3.28" fill="#ff8b00"/><rect x="603.3" y="295.48" width="1.8" height="3.28" fill="#ff6600"/><rect x="604.8" y="295.48" width="1.8" height="3.28" fill="#ff5d00"/><rect x="606.3" y="295.48" width="1.8" height="3.28" fill="#ff4f00"/><rect x="607.8" y="295.48" width="1.8" height="3.28" fill="#ff2900"/><rect x="609.3" y="295.48" width="1.8" height="3.28" fill="#ff2300"/><rect x="610.8" y="295.48" width="1.8" height="3.28" fill="#ff1a00"/><rect x="612.3" y="295.48" width="1.8" height="3.28" fill="#ff1700"/><rect x="613.8" y="295.48" width="1.8" height="3.28" fill="#ff1500"/><rect x="615.3" y="295.48" width="1.8" height="3.28" fill="#ff1400"/><rect x="616.8" y="295.48" width="1.8" height="3.28" fill="#ff1400"/><rect x="618.3" y="295.48" width="1.8" height="3.28" fill="#ff1400"/><rect x="619.8" y="295.48" width="1.8" height="3.28" fill="#ff1800"/><rect x="621.3" y="295.48" width="1.8" height="3.28" fill="#ff2000"/><rect x="622.8" y="295.48" width="1.8" height="3.28" fill="#ff2a00"/><rect x="624.3" y="295.48" width="1.8" height="3.28" fill="#ff5200"/><rect x="625.8" y="295.48" width="1.8" height="3.28" fill="#ff8100"/><rect x="627.3" y="295.48" width="1.8" height="3.28" fill="#ff9500"/><rect x="628.8" y="295.48" width="1.8" height="3.28" fill="#ffaf00"/><rect x="630.3" y="295.48" width="1.8" height="3.28" fill="#ffd400"/><rect x="631.8" y="295.48" width="1.8" height="3.28" fill="#f6ff09"/><rect x="633.3" y="295.48" width="1.8" height="3.28" fill="#90ff6f"/><rect x="634.8" y="295.48" width="1.8" height="3.28" fill="#18ffe7"/><rect x="595.8" y="298.47" width="1.8" height="3.28" fill="#37ffc8"/><rect x="597.3" y="298.47" width="1.8" height="3.28" fill="#d4ff2b"/><rect x="598.8" y="298.47" width="1.8" height="3.28" fill="#ffec00"/><rect x="600.3" y="298.47" width="1.8" height="3.28" fill="#ffc300"/><rect x="601.8" y="298.47" width="1.8" height="3.28" fill="#ff8e00"/><rect x="603.3" y="298.47" width="1.8" height="3.28" fill="#ff6d00"/><rect x="604.8" y="298.47" width="1.8" height="3.28" fill="#ff6900"/><rect x="606.3" y="298.47" width="1.8" height="3.28" fill="#ff6000"/><rect x="607.8" y="298.47" width="1.8" height="3.28" fill="#ff3900"/><rect x="609.3" y="298.47" width="1.8" height="3.28" fill="#ff2b00"/><rect x="610.8" y="298.47" width="1.8" height="3.28" fill="#ff1c00"/><rect x="612.3" y="298.47" width="1.8" height="3.28" fill="#ff1700"/><rect x="613.8" y="298.47" width="1.8" height="3.28" fill="#ff1500"/><rect x="615.3" y="298.47" width="1.8" height="3.28" fill="#ff1400"/><rect x="616.8" y="298.47" width="1.8" height="3.28" fill="#ff1400"/><rect x="618.3" y="298.47" width="1.8" height="3.28" fill="#ff1500"/><rect x="619.8" y="298.47" width="1.8" height="3.28" fill="#ff1c00"/><rect x="621.3" y="298.47" width="1.8" height="3.28" fill="#ff2a00"/><rect x="622.8" y="298.47" width="1.8" height="3.28" fill="#ff3600"/><rect x="624.3" y="298.47" width="1.8" height="3.28" fill="#ff5a00"/><rect x="625.8" y="298.47" width="1.8" height="3.28" fill="#ff8200"/><rect x="627.3" y="298.47" width="1.8" height="3.28" fill="#ff9300"/><rect x="628.8" y="298.47" width="1.8" height="3.28" fill="#ffae00"/><rect x="630.3" y="298.47" width="1.8" height="3.28" fill="#ffd300"/><rect x="631.8" y="298.47" width="1.8" height="3.28" fill="#f6ff09"/><rect x="633.3" y="298.47" width="1.8" height="3.28" fill="#90ff6f"/><rect x="634.8" y="298.47" width="1.8" height="3.28" fill="#18ffe7"/><rect x="595.8" y="301.45" width="1.8" height="3.28" fill="#37ffc8"/><rect x="597.3" y="301.45" width="1.8" height="3.28" fill="#d4ff2b"/><rect x="598.8" y="301.45" width="1.8" height="3.28" fill="#ffec00"/><rect x="600.3" y="301.45" width="1.8" height="3.28" fill="#ffc400"/><rect x="601.8" y="301.45" width="1.8" height="3.28" fill="#ff9000"/><rect x="603.3" y="301.45" width="1.8" height="3.28" fill="#ff7300"/><rect x="604.8" y="301.45" width="1.8" height="3.28" fill="#ff7500"/><rect x="606.3" y="301.45" width="1.8" height="3.28" fill="#ff7400"/><rect x="607.8" y="301.45" width="1.8" height="3.28" fill="#ff4d00"/><rect x="609.3" y="301.45" width="1.8" height="3.28" fill="#ff3500"/><rect x="610.8" y="301.45" width="1.8" height="3.28" fill="#ff1f00"/><rect x="612.3" y="301.45" width="1.8" height="3.28" fill="#ff1700"/><rect x="613.8" y="301.45" width="1.8" height="3.28" fill="#ff1500"/><rect x="615.3" y="301.45" width="1.8" height="3.28" fill="#ff1400"/><rect x="616.8" y="301.45" width="1.8" height="3.28" fill="#ff1400"/><rect x="618.3" y="301.45" width="1.8" height="3.28" fill="#ff1600"/><rect x="619.8" y="301.45" width="1.8" height="3.28" fill="#ff2100"/><rect x="621.3" y="301.45" width="1.8" height="3.28" fill="#ff3700"/><rect x="622.8" y="301.45" width="1.8" height="3.28" fill="#ff4900"/><rect x="624.3" y="301.45" width="1.8" height="3.28" fill="#ff6a00"/><rect x="625.8" y="301.45" width="1.8" height="3.28" fill="#ff8900"/><rect x="627.3" y="301.45" width="1.8" height="3.28" fill="#ff9500"/><rect x="628.8" y="301.45" width="1.8" height="3.28" fill="#ffae00"/><rect x="630.3" y="301.45" width="1.8" height="3.28" fill="#ffd300"/><rect x="631.8" y="301.45" width="1.8" height="3.28" fill="#f6ff09"/><rect x="633.3" y="301.45" width="1.8" height="3.28" fill="#90ff6f"/><rect x="634.8" y="301.45" width="1.8" height="3.28" fill="#18ffe7"/><rect x="595.8" y="304.43" width="1.8" height="3.28" fill="#37ffc8"/><rect x="597.3" y="304.43" width="1.8" height="3.28" fill="#d4ff2b"/><rect x="598.8" y="304.43" width="1.8" height="3.28" fill="#ffec00"/><rect x="600.3" y="304.43" width="1.8" height="3.28" fill="#ffc400"/><rect x="601.8" y="304.43" width="1.8" height="3.28" fill="#ff9200"/><rect x="603.3" y="304.43" width="1.8" height="3.28" fill="#ff7900"/><rect x="604.8" y="304.43" width="1.8" height="3.28" fill="#ff8200"/><rect x="606.3" y="304.43" width="1.8" height="3.28" fill="#ff8900"/><rect x="607.8" y="304.43" width="1.8" height="3.28" fill="#ff6200"/><rect x="609.3" y="304.43" width="1.8" height="3.28" fill="#ff4000"/><rect x="610.8" y="304.43" width="1.8" height="3.28" fill="#ff2200"/><rect x="612.3" y="304.43" width="1.8" height="3.28" fill="#ff1800"/><rect x="613.8" y="304.43" width="1.8" height="3.28" fill="#ff1500"/><rect x="615.3" y="304.43" width="1.8" height="3.28" fill="#ff1400"/><rect x="616.8" y="304.43" width="1.8" height="3.28" fill="#ff1400"/><rect x="618.3" y="304.43" width="1.8" height="3.28" fill="#ff1800"/><rect x="619.8" y="304.43" width="1.8" height="3.28" fill="#ff2700"/><rect x="621.3" y="304.43" width="1.8" height="3.28" fill="#ff4400"/><rect x="622.8" y="304.43" width="1.8" height="3.28" fill="#ff5d00"/><rect x="624.3" y="304.43" width="1.8" height="3.28" fill="#ff7c00"/><rect x="625.8" y="304.43" width="1.8" height="3.28" fill="#ff9300"/><rect x="627.3" y="304.43" width="1.8" height="3.28" fill="#ff9800"/><rect x="628.8" y="304.43" width="1.8" height="3.28" fill="#ffaf00"/><rect x="630.3" y="304.43" width="1.8" height="3.28" fill="#ffd300"/><rect x="631.8" y="304.43" width="1.8" height="3.28" fill="#f6ff09"/><rect x="633.3" y="304.43" width="1.8" height="3.28" fill="#90ff6f"/><rect x="634.8" y="304.43" width="1.8" height="3.28" fill="#18ffe7"/><rect x="595.8" y="307.42" width="1.8" height="3.28" fill="#37ffc8"/><rect x="597.3" y="307.42" width="1.8" height="3.28" fill="#d4ff2b"/><rect x="598.8" y="307.42" width="1.8" height="3.28" fill="#ffec00"/><rect x="600.3" y="307.42" width="1.8" height="3.28" fill="#ffc400"/><rect x="601.8" y="307.42" width="1.8" height="3.28" fill="#ff9300"/><rect x="603.3" y="307.42" width="1.8" height="3.28" fill="#ff7d00"/><rect x="604.8" y="307.42" width="1.8" height="3.28" fill="#ff8c00"/><rect x="606.3" y="307.42" width="1.8" height="3.28" fill="#ff9900"/><rect x="607.8" y="307.42" width="1.8" height="3.28" fill="#ff7200"/><rect x="609.3" y="307.42" width="1.8" height="3.28" fill="#ff4900"/><rect x="610.8" y="307.42" width="1.8" height="3.28" fill="#ff2400"/><rect x="612.3" y="307.42" width="1.8" height="3.28" fill="#ff1800"/><rect x="613.8" y="307.42" width="1.8" height="3.28" fill="#ff1500"/><rect x="615.3" y="307.42" width="1.8" height="3.28" fill="#ff1400"/><rect x="616.8" y="307.42" width="1.8" height="3.28" fill="#ff1400"/><rect x="618.3" y="307.42" width="1.8" height="3.28" fill="#ff1900"/><rect x="619.8" y="307.42" width="1.8" height="3.28" fill="#ff2b00"/><rect x="621.3" y="307.42" width="1.8" height="3.28" fill="#ff4f00"/><rect x="622.8" y="307.42" width="1.8" height="3.28" fill="#ff6d00"/><rect x="624.3" y="307.42" width="1.8" height="3.28" fill="#ff8a00"/><rect x="625.8" y="307.42" width="1.8" height="3.28" fill="#ff9b00"/><rect x="627.3" y="307.42" width="1.8" height="3.28" fill="#ff9a00"/><rect x="628.8" y="307.42" width="1.8" height="3.28" fill="#ffaf00"/><rect x="630.3" y="307.42" width="1.8" height="3.28" fill="#ffd300"/><rect x="631.8" y="307.42" width="1.8" height="3.28" fill="#f6ff09"/><rect x="633.3" y="307.42" width="1.8" height="3.28" fill="#90ff6f"/><rect x="634.8" y="307.42" width="1.8" height="3.28" fill="#18ffe7"/><rect x="595.8" y="310.4" width="1.8" height="3.28" fill="#37ffc8"/><rect x="597.3" y="310.4" width="1.8" height="3.28" fill="#d4ff2b"/><rect x="598.8" y="310.4" width="1.8" height="3.28" fill="#ffec00"/><rect x="600.3" y="310.4" width="1.8" height="3.28" fill="#ffc500"/><rect x="601.8" y="310.4" width="1.8" height="3.28" fill="#ff9500"/><rect x="603.3" y="310.4" width="1.8" height="3.28" fill="#ff8100"/><rect x="604.8" y="310.4" width="1.8" height="3.28" fill="#ff9100"/><rect x="606.3" y="310.4" width="1.8" height="3.28" fill="#ffa100"/><rect x="607.8" y="310.4" width="1.8" height="3.28" fill="#ff7900"/><rect x="609.3" y="310.4" width="1.8" height="3.28" fill="#ff4c00"/><rect x="610.8" y="310.4" width="1.8" height="3.28" fill="#ff2500"/><rect x="612.3" y="310.4" width="1.8" height="3.28" fill="#ff1800"/><rect x="613.8" y="310.4" width="1.8" height="3.28" fill="#ff1500"/><rect x="615.3" y="310.4" width="1.8" height="3.28" fill="#ff1400"/><rect x="616.8" y="310.4" width="1.8" height="3.28" fill="#ff1400"/><rect x="618.3" y="310.4" width="1.8" height="3.28" fill="#ff1900"/><rect x="619.8" y="310.4" width="1.8" height="3.28" fill="#ff2d00"/><rect x="621.3" y="310.4" width="1.8" height="3.28" fill="#ff5300"/><rect x="622.8" y="310.4" width="1.8" height="3.28" fill="#ff7300"/><rect x="624.3" y="310.4" width="1.8" height="3.28" fill="#ff9000"/><rect x="625.8" y="310.4" width="1.8" height="3.28" fill="#ff9e00"/><rect x="627.3" y="310.4" width="1.8" height="3.28" fill="#ff9b00"/><rect x="628.8" y="310.4" width="1.8" height="3.28" fill="#ffaf00"/><rect x="630.3" y="310.4" width="1.8" height="3.28" fill="#ffd300"/><rect x="631.8" y="310.4" width="1.8" height="3.28" fill="#f6ff09"/><rect x="633.3" y="310.4" width="1.8" height="3.28" fill="#90ff6f"/><rect x="634.8" y="310.4" width="1.8" height="3.28" fill="#18ffe7"/><rect x="595.8" y="313.39" width="1.8" height="3.28" fill="#37ffc8"/><rect x="597.3" y="313.39" width="1.8" height="3.28" fill="#d4ff2b"/><rect x="598.8" y="313.39" width="1.8" height="3.28" fill="#ffec00"/><rect x="600.3" y="313.39" width="1.8" height="3.28" fill="#ffc500"/><rect x="601.8" y="313.39" width="1.8" height="3.28" fill="#ff9600"/><rect x="603.3" y="313.39" width="1.8" height="3.28" fill="#ff8200"/><rect x="604.8" y="313.39" width="1.8" height="3.28" fill="#ff9100"/><rect x="606.3" y="313.39" width="1.8" height="3.28" fill="#ff9d00"/><rect x="607.8" y="313.39" width="1.8" height="3.28" fill="#ff7400"/><rect x="609.3" y="313.39" width="1.8" height="3.28" fill="#ff4900"/><rect x="610.8" y="313.39" width="1.8" height="3.28" fill="#ff2400"/><rect x="612.3" y="313.39" width="1.8" height="3.28" fill="#ff1800"/><rect x="613.8" y="313.39" width="1.8" height="3.28" fill="#ff1500"/><rect x="615.3" y="313.39" width="1.8" height="3.28" fill="#ff1400"/><rect x="616.8" y="313.39" width="1.8" height="3.28" fill="#ff1400"/><rect x="618.3" y="313.39" width="1.8" height="3.28" fill="#ff1900"/><rect x="619.8" y="313.39" width="1.8" height="3.28" fill="#ff2b00"/><rect x="621.3" y="313.39" width="1.8" height="3.28" fill="#ff5000"/><rect x="622.8" y="313.39" width="1.8" height="3.28" fill="#ff6e00"/><rect x="624.3" y="313.39" width="1.8" height="3.28" fill="#ff8b00"/><rect x="625.8" y="313.39" width="1.8" height="3.28" fill="#ff9b00"/><rect x="627.3" y="313.39" width="1.8" height="3.28" fill="#ff9a00"/><rect x="628.8" y="313.39" width="1.8" height="3.28" fill="#ffaf00"/><rect x="630.3" y="313.39" width="1.8" height="3.28" fill="#ffd300"/><rect x="631.8" y="313.39" width="1.8" height="3.28" fill="#f6ff09"/><rect x="633.3" y="313.39" width="1.8" height="3.28" fill="#90ff6f"/><rect x="634.8" y="313.39" width="1.8" height="3.28" fill="#18ffe7"/><rect x="595.8" y="316.37" width="1.8" height="3.28" fill="#37ffc8"/><rect x="597.3" y="316.37" width="1.8" height="3.28" fill="#d4ff2b"/><rect x="598.8" y="316.37" width="1.8" height="3.28" fill="#ffec00"/><rect x="600.3" y="316.37" width="1.8" height="3.28" fill="#ffc500"/><rect x="601.8" y="316.37" width="1.8" height="3.28" fill="#ff9600"/><rect x="603.3" y="316.37" width="1.8" height="3.28" fill="#ff8300"/><rect x="604.8" y="316.37" width="1.8" height="3.28" fill="#ff8d00"/><rect x="606.3" y="316.37" width="1.8" height="3.28" fill="#ff9000"/><rect x="607.8" y="316.37" width="1.8" height="3.28" fill="#ff6500"/><rect x="609.3" y="316.37" width="1.8" height="3.28" fill="#ff4100"/><rect x="610.8" y="316.37" width="1.8" height="3.28" fill="#ff2200"/><rect x="612.3" y="316.37" width="1.8" height="3.28" fill="#ff1800"/><rect x="613.8" y="316.37" width="1.8" height="3.28" fill="#ff1500"/><rect x="615.3" y="316.37" width="1.8" height="3.28" fill="#ff1400"/><rect x="616.8" y="316.37" width="1.8" height="3.28" fill="#ff1400"/><rect x="618.3" y="316.37" width="1.8" height="3.28" fill="#ff1800"/><rect x="619.8" y="316.37" width="1.8" height="3.28" fill="#ff2700"/><rect x="621.3" y="316.37" width="1.8" height="3.28" fill="#ff4500"/><rect x="622.8" y="316.37" width="1.8" height="3.28" fill="#ff5e00"/><rect x="624.3" y="316.37" width="1.8" height="3.28" fill="#ff7d00"/><rect x="625.8" y="316.37" width="1.8" height="3.28" fill="#ff9300"/><rect x="627.3" y="316.37" width="1.8" height="3.28" fill="#ff9800"/><rect x="628.8" y="316.37" width="1.8" height="3.28" fill="#ffaf00"/><rect x="630.3" y="316.37" width="1.8" height="3.28" fill="#ffd300"/><rect x="631.8" y="316.37" width="1.8" height="3.28" fill="#f6ff09"/><rect x="633.3" y="316.37" width="1.8" height="3.28" fill="#90ff6f"/><rect x="634.8" y="316.37" width="1.8" height="3.28" fill="#18ffe7"/><rect x="595.8" y="319.35" width="1.8" height="3.28" fill="#37ffc8"/><rect x="597.3" y="319.35" width="1.8" height="3.28" fill="#d4ff2b"/><rect x="598.8" y="319.35" width="1.8" height="3.28" fill="#ffec00"/><rect x="600.3" y="319.35" width="1.8" height="3.28" fill="#ffc500"/><rect x="601.8" y="319.35" width="1.8" height="3.28" fill="#ff9700"/><rect x="603.3" y="319.35" width="1.8" height="3.28" fill="#ff8200"/><rect x="604.8" y="319.35" width="1.8" height="3.28" fill="#ff8700"/><rect x="606.3" y="319.35" width="1.8" height="3.28" fill="#ff7f00"/><rect x="607.8" y="319.35" width="1.8" height="3.28" fill="#ff5100"/><rect x="609.3" y="319.35" width="1.8" height="3.28" fill="#ff3600"/><rect x="610.8" y="319.35" width="1.8" height="3.28" fill="#ff1f00"/><rect x="612.3" y="319.35" width="1.8" height="3.28" fill="#ff1700"/><rect x="613.8" y="319.35" width="1.8" height="3.28" fill="#ff1500"/><rect x="615.3" y="319.35" width="1.8" height="3.28" fill="#ff1400"/><rect x="616.8" y="319.35" width="1.8" height="3.28" fill="#ff1400"/><rect x="618.3" y="319.35" width="1.8" height="3.28" fill="#ff1600"/><rect x="619.8" y="319.35" width="1.8" height="3.28" fill="#ff2100"/><rect x="621.3" y="319.35" width="1.8" height="3.28" fill="#ff3700"/><rect x="622.8" y="319.35" width="1.8" height="3.28" fill="#ff4a00"/><rect x="624.3" y="319.35" width="1.8" height="3.28" fill="#ff6a00"/><rect x="625.8" y="319.35" width="1.8" height="3.28" fill="#ff8900"/><rect x="627.3" y="319.35" width="1.8" height="3.28" fill="#ff9400"/><rect x="628.8" y="319.35" width="1.8" height="3.28" fill="#ffae00"/><rect x="630.3" y="319.35" width="1.8" height="3.28" fill="#ffd300"/><rect x="631.8" y="319.35" width="1.8" height="3.28" fill="#f6ff09"/><rect x="633.3" y="319.35" width="1.8" height="3.28" fill="#90ff6f"/><rect x="634.8" y="319.35" width="1.8" height="3.28" fill="#18ffe7"/><rect x="595.8" y="322.34" width="1.8" height="3.28" fill="#37ffc8"/><rect x="597.3" y="322.34" width="1.8" height="3.28" fill="#d4ff2b"/><rect x="598.8" y="322.34" width="1.8" height="3.28" fill="#ffec00"/><rect x="600.3" y="322.34" width="1.8" height="3.28" fill="#ffc500"/><rect x="601.8" y="322.34" width="1.8" height="3.28" fill="#ff9700"/><rect x="603.3" y="322.34" width="1.8" height="3.28" fill="#ff8100"/><rect x="604.8" y="322.34" width="1.8" height="3.28" fill="#ff8000"/><rect x="606.3" y="322.34" width="1.8" height="3.28" fill="#ff6d00"/><rect x="607.8" y="322.34" width="1.8" height="3.28" fill="#ff3e00"/><rect x="609.3" y="322.34" width="1.8" height="3.28" fill="#ff2c00"/><rect x="610.8" y="322.34" width="1.8" height="3.28" fill="#ff1c00"/><rect x="612.3" y="322.34" width="1.8" height="3.28" fill="#ff1700"/><rect x="613.8" y="322.34" width="1.8" height="3.28" fill="#ff1500"/><rect x="615.3" y="322.34" width="1.8" height="3.28" fill="#ff1400"/><rect x="616.8" y="322.34" width="1.8" height="3.28" fill="#ff1400"/><rect x="618.3" y="322.34" width="1.8" height="3.28" fill="#ff1500"/><rect x="619.8" y="322.34" width="1.8" height="3.28" fill="#ff1c00"/><rect x="621.3" y="322.34" width="1.8" height="3.28" fill="#ff2a00"/><rect x="622.8" y="322.34" width="1.8" height="3.28" fill="#ff3500"/><rect x="624.3" y="322.34" width="1.8" height="3.28" fill="#ff5800"/><rect x="625.8" y="322.34" width="1.8" height="3.28" fill="#ff7f00"/><rect x="627.3" y="322.34" width="1.8" height="3.28" fill="#ff9100"/><rect x="628.8" y="322.34" width="1.8" height="3.28" fill="#ffad00"/><rect x="630.3" y="322.34" width="1.8" height="3.28" fill="#ffd300"/><rect x="631.8" y="322.34" width="1.8" height="3.28" fill="#f6ff09"/><rect x="633.3" y="322.34" width="1.8" height="3.28" fill="#90ff6f"/><rect x="634.8" y="322.34" width="1.8" height="3.28" fill="#18ffe7"/><rect x="595.8" y="325.32" width="1.8" height="3.28" fill="#37ffc8"/><rect x="597.3" y="325.32" width="1.8" height="3.28" fill="#d4ff2b"/><rect x="598.8" y="325.32" width="1.8" height="3.28" fill="#ffec00"/><rect x="600.3" y="325.32" width="1.8" height="3.28" fill="#ffc500"/><rect x="601.8" y="325.32" width="1.8" height="3.28" fill="#ff9700"/><rect x="603.3" y="325.32" width="1.8" height="3.28" fill="#ff8100"/><rect x="604.8" y="325.32" width="1.8" height="3.28" fill="#ff7a00"/><rect x="606.3" y="325.32" width="1.8" height="3.28" fill="#ff6000"/><rect x="607.8" y="325.32" width="1.8" height="3.28" fill="#ff2e00"/><rect x="609.3" y="325.32" width="1.8" height="3.28" fill="#ff2400"/><rect x="610.8" y="325.32" width="1.8" height="3.28" fill="#ff1a00"/><rect x="612.3" y="325.32" width="1.8" height="3.28" fill="#ff1700"/><rect x="613.8" y="325.32" width="1.8" height="3.28" fill="#ff1500"/><rect x="615.3" y="325.32" width="1.8" height="3.28" fill="#ff1400"/><rect x="616.8" y="325.32" width="1.8" height="3.28" fill="#ff1400"/><rect x="618.3" y="325.32" width="1.8" height="3.28" fill="#ff1400"/><rect x="619.8" y="325.32" width="1.8" height="3.28" fill="#ff1700"/><rect x="621.3" y="325.32" width="1.8" height="3.28" fill="#ff1f00"/><rect x="622.8" y="325.32" width="1.8" height="3.28" fill="#ff2500"/><rect x="624.3" y="325.32" width="1.8" height="3.28" fill="#ff4a00"/><rect x="625.8" y="325.32" width="1.8" height="3.28" fill="#ff7700"/><rect x="627.3" y="325.32" width="1.8" height="3.28" fill="#ff8e00"/><rect x="628.8" y="325.32" width="1.8" height="3.28" fill="#ffad00"/><rect x="630.3" y="325.32" width="1.8" height="3.28" fill="#ffd300"/><rect x="631.8" y="325.32" width="1.8" height="3.28" fill="#f6ff09"/><rect x="633.3" y="325.32" width="1.8" height="3.28" fill="#90ff6f"/><rect x="634.8" y="325.32" width="1.8" height="3.28" fill="#18ffe7"/><rect x="595.8" y="328.31" width="1.8" height="3.28" fill="#37ffc8"/><rect x="597.3" y="328.31" width="1.8" height="3.28" fill="#d4ff2b"/><rect x="598.8" y="328.31" width="1.8" height="3.28" fill="#ffec00"/><rect x="600.3" y="328.31" width="1.8" height="3.28" fill="#ffc500"/><rect x="601.8" y="328.31" width="1.8" height="3.28" fill="#ff9700"/><rect x="603.3" y="328.31" width="1.8" height="3.28" fill="#ff8000"/><rect x="604.8" y="328.31" width="1.8" height="3.28" fill="#ff7700"/><rect x="606.3" y="328.31" width="1.8" height="3.28" fill="#ff5600"/><rect x="607.8" y="328.31" width="1.8" height="3.28" fill="#ff2400"/><rect x="609.3" y="328.31" width="1.8" height="3.28" fill="#ff1e00"/><rect x="610.8" y="328.31" width="1.8" height="3.28" fill="#ff1900"/><rect x="612.3" y="328.31" width="1.8" height="3.28" fill="#ff1600"/><rect x="613.8" y="328.31" width="1.8" height="3.28" fill="#ff1500"/><rect x="615.3" y="328.31" width="1.8" height="3.28" fill="#ff1400"/><rect x="616.8" y="328.31" width="1.8" height="3.28" fill="#ff1400"/><rect x="618.3" y="328.31" width="1.8" height="3.28" fill="#ff1300"/><rect x="619.8" y="328.31" width="1.8" height="3.28" fill="#ff1500"/><rect x="621.3" y="328.31" width="1.8" height="3.28" fill="#ff1800"/><rect x="622.8" y="328.31" width="1.8" height="3.28" fill="#ff1b00"/><rect x="624.3" y="328.31" width="1.8" height="3.28" fill="#ff4000"/><rect x="625.8" y="328.31" width="1.8" height="3.28" fill="#ff7200"/><rect x="627.3" y="328.31" width="1.8" height="3.28" fill="#ff8d00"/><rect x="628.8" y="328.31" width="1.8" height="3.28" fill="#ffac00"/><rect x="630.3" y="328.31" width="1.8" height="3.28" fill="#ffd300"/><rect x="631.8" y="328.31" width="1.8" height="3.28" fill="#f6ff09"/><rect x="633.3" y="328.31" width="1.8" height="3.28" fill="#90ff6f"/><rect x="634.8" y="328.31" width="1.8" height="3.28" fill="#18ffe7"/><rect x="595.8" y="331.29" width="1.8" height="3.28" fill="#37ffc8"/><rect x="597.3" y="331.29" width="1.8" height="3.28" fill="#d4ff2b"/><rect x="598.8" y="331.29" width="1.8" height="3.28" fill="#ffec00"/><rect x="600.3" y="331.29" width="1.8" height="3.28" fill="#ffc500"/><rect x="601.8" y="331.29" width="1.8" height="3.28" fill="#ff9700"/><rect x="603.3" y="331.29" width="1.8" height="3.28" fill="#ff8000"/><rect x="604.8" y="331.29" width="1.8" height="3.28" fill="#ff7500"/><rect x="606.3" y="331.29" width="1.8" height="3.28" fill="#ff5100"/><rect x="607.8" y="331.29" width="1.8" height="3.28" fill="#ff1e00"/><rect x="609.3" y="331.29" width="1.8" height="3.28" fill="#ff1b00"/><rect x="610.8" y="331.29" width="1.8" height="3.28" fill="#ff1800"/><rect x="612.3" y="331.29" width="1.8" height="3.28" fill="#ff1600"/><rect x="613.8" y="331.29" width="1.8" height="3.28" fill="#ff1500"/><rect x="615.3" y="331.29" width="1.8" height="3.28" fill="#ff1400"/><rect x="616.8" y="331.29" width="1.8" height="3.28" fill="#ff1300"/><rect x="618.3" y="331.29" width="1.8" height="3.28" fill="#ff1300"/><rect x="619.8" y="331.29" width="1.8" height="3.28" fill="#ff1300"/><rect x="621.3" y="331.29" width="1.8" height="3.28" fill="#ff1400"/><rect x="622.8" y="331.29" width="1.8" height="3.28" fill="#ff1500"/><rect x="624.3" y="331.29" width="1.8" height="3.28" fill="#ff3a00"/><rect x="625.8" y="331.29" width="1.8" height="3.28" fill="#ff6f00"/><rect x="627.3" y="331.29" width="1.8" height="3.28" fill="#ff8c00"/><rect x="628.8" y="331.29" width="1.8" height="3.28" fill="#ffac00"/><rect x="630.3" y="331.29" width="1.8" height="3.28" fill="#ffd300"/><rect x="631.8" y="331.29" width="1.8" height="3.28" fill="#f6ff09"/><rect x="633.3" y="331.29" width="1.8" height="3.28" fill="#90ff6f"/><rect x="634.8" y="331.29" width="1.8" height="3.28" fill="#18ffe7"/><rect x="595.8" y="334.27" width="1.8" height="3.28" fill="#37ffc8"/><rect x="597.3" y="334.27" width="1.8" height="3.28" fill="#d4ff2b"/><rect x="598.8" y="334.27" width="1.8" height="3.28" fill="#ffec00"/><rect x="600.3" y="334.27" width="1.8" height="3.28" fill="#ffc500"/><rect x="601.8" y="334.27" width="1.8" height="3.28" fill="#ff9700"/><rect x="603.3" y="334.27" width="1.8" height="3.28" fill="#ff8000"/><rect x="604.8" y="334.27" width="1.8" height="3.28" fill="#ff7400"/><rect x="606.3" y="334.27" width="1.8" height="3.28" fill="#ff4f00"/><rect x="607.8" y="334.27" width="1.8" height="3.28" fill="#ff1b00"/><rect x="609.3" y="334.27" width="1.8" height="3.28" fill="#ff1900"/><rect x="610.8" y="334.27" width="1.8" height="3.28" fill="#ff1800"/><rect x="612.3" y="334.27" width="1.8" height="3.28" fill="#ff1600"/><rect x="613.8" y="334.27" width="1.8" height="3.28" fill="#ff1500"/><rect x="615.3" y="334.27" width="1.8" height="3.28" fill="#ff1400"/><rect x="616.8" y="334.27" width="1.8" height="3.28" fill="#ff1300"/><rect x="618.3" y="334.27" width="1.8" height="3.28" fill="#ff1300"/><rect x="619.8" y="334.27" width="1.8" height="3.28" fill="#ff1200"/><rect x="621.3" y="334.27" width="1.8" height="3.28" fill="#ff1200"/><rect x="622.8" y="334.27" width="1.8" height="3.28" fill="#ff1200"/><rect x="624.3" y="334.27" width="1.8" height="3.28" fill="#ff3800"/><rect x="625.8" y="334.27" width="1.8" height="3.28" fill="#ff6d00"/><rect x="627.3" y="334.27" width="1.8" height="3.28" fill="#ff8b00"/><rect x="628.8" y="334.27" width="1.8" height="3.28" fill="#ffac00"/><rect x="630.3" y="334.27" width="1.8" height="3.28" fill="#ffd300"/><rect x="631.8" y="334.27" width="1.8" height="3.28" fill="#f6ff09"/><rect x="633.3" y="334.27" width="1.8" height="3.28" fill="#90ff6f"/><rect x="634.8" y="334.27" width="1.8" height="3.28" fill="#18ffe7"/><rect x="595.8" y="337.26" width="1.8" height="3.28" fill="#37ffc8"/><rect x="597.3" y="337.26" width="1.8" height="3.28" fill="#d4ff2b"/><rect x="598.8" y="337.26" width="1.8" height="3.28" fill="#ffec00"/><rect x="600.3" y="337.26" width="1.8" height="3.28" fill="#ffc500"/><rect x="601.8" y="337.26" width="1.8" height="3.28" fill="#ff9700"/><rect x="603.3" y="337.26" width="1.8" height="3.28" fill="#ff8000"/><rect x="604.8" y="337.26" width="1.8" height="3.28" fill="#ff7300"/><rect x="606.3" y="337.26" width="1.8" height="3.28" fill="#ff4e00"/><rect x="607.8" y="337.26" width="1.8" height="3.28" fill="#ff1a00"/><rect x="609.3" y="337.26" width="1.8" height="3.28" fill="#ff1900"/><rect x="610.8" y="337.26" width="1.8" height="3.28" fill="#ff1700"/><rect x="612.3" y="337.26" width="1.8" height="3.28" fill="#ff1600"/><rect x="613.8" y="337.26" width="1.8" height="3.28" fill="#ff1500"/><rect x="615.3" y="337.26" width="1.8" height="3.28" fill="#ff1400"/><rect x="616.8" y="337.26" width="1.8" height="3.28" fill="#ff1300"/><rect x="618.3" y="337.26" width="1.8" height="3.28" fill="#ff1300"/><rect x="619.8" y="337.26" width="1.8" height="3.28" fill="#ff1200"/><rect x="621.3" y="337.26" width="1.8" height="3.28" fill="#ff1100"/><rect x="622.8" y="337.26" width="1.8" height="3.28" fill="#ff1000"/><rect x="624.3" y="337.26" width="1.8" height="3.28" fill="#ff3600"/><rect x="625.8" y="337.26" width="1.8" height="3.28" fill="#ff6c00"/><rect x="627.3" y="337.26" width="1.8" height="3.28" fill="#ff8b00"/><rect x="628.8" y="337.26" width="1.8" height="3.28" fill="#ffac00"/><rect x="630.3" y="337.26" width="1.8" height="3.28" fill="#ffd300"/><rect x="631.8" y="337.26" width="1.8" height="3.28" fill="#f6ff09"/><rect x="633.3" y="337.26" width="1.8" height="3.28" fill="#90ff6f"/><rect x="634.8" y="337.26" width="1.8" height="3.28" fill="#18ffe7"/><rect x="595.8" y="340.24" width="1.8" height="3.28" fill="#37ffc8"/><rect x="597.3" y="340.24" width="1.8" height="3.28" fill="#d4ff2b"/><rect x="598.8" y="340.24" width="1.8" height="3.28" fill="#ffec00"/><rect x="600.3" y="340.24" width="1.8" height="3.28" fill="#ffc500"/><rect x="601.8" y="340.24" width="1.8" height="3.28" fill="#ff9700"/><rect x="603.3" y="340.24" width="1.8" height="3.28" fill="#ff8000"/><rect x="604.8" y="340.24" width="1.8" height="3.28" fill="#ff7300"/><rect x="606.3" y="340.24" width="1.8" height="3.28" fill="#ff4d00"/><rect x="607.8" y="340.24" width="1.8" height="3.28" fill="#ff1900"/><rect x="609.3" y="340.24" width="1.8" height="3.28" fill="#ff1800"/><rect x="610.8" y="340.24" width="1.8" height="3.28" fill="#ff1700"/><rect x="612.3" y="340.24" width="1.8" height="3.28" fill="#ff1600"/><rect x="613.8" y="340.24" width="1.8" height="3.28" fill="#ff1500"/><rect x="615.3" y="340.24" width="1.8" height="3.28" fill="#ff1400"/><rect x="616.8" y="340.24" width="1.8" height="3.28" fill="#ff1300"/><rect x="618.3" y="340.24" width="1.8" height="3.28" fill="#ff1200"/><rect x="619.8" y="340.24" width="1.8" height="3.28" fill="#ff1200"/><rect x="621.3" y="340.24" width="1.8" height="3.28" fill="#ff1100"/><rect x="622.8" y="340.24" width="1.8" height="3.28" fill="#ff1000"/><rect x="624.3" y="340.24" width="1.8" height="3.28" fill="#ff3600"/><rect x="625.8" y="340.24" width="1.8" height="3.28" fill="#ff6c00"/><rect x="627.3" y="340.24" width="1.8" height="3.28" fill="#ff8b00"/><rect x="628.8" y="340.24" width="1.8" height="3.28" fill="#ffac00"/><rect x="630.3" y="340.24" width="1.8" height="3.28" fill="#ffd300"/><rect x="631.8" y="340.24" width="1.8" height="3.28" fill="#f6ff09"/><rect x="633.3" y="340.24" width="1.8" height="3.28" fill="#90ff6f"/><rect x="634.8" y="340.24" width="1.8" height="3.28" fill="#18ffe7"/><rect x="595.8" y="343.23" width="1.8" height="3.28" fill="#37ffc8"/><rect x="597.3" y="343.23" width="1.8" height="3.28" fill="#d4ff2b"/><rect x="598.8" y="343.23" width="1.8" height="3.28" fill="#ffec00"/><rect x="600.3" y="343.23" width="1.8" height="3.28" fill="#ffc500"/><rect x="601.8" y="343.23" width="1.8" height="3.28" fill="#ff9700"/><rect x="603.3" y="343.23" width="1.8" height="3.28" fill="#ff8000"/><rect x="604.8" y="343.23" width="1.8" height="3.28" fill="#ff7300"/><rect x="606.3" y="343.23" width="1.8" height="3.28" fill="#ff4d00"/><rect x="607.8" y="343.23" width="1.8" height="3.28" fill="#ff1900"/><rect x="609.3" y="343.23" width="1.8" height="3.28" fill="#ff1800"/><rect x="610.8" y="343.23" width="1.8" height="3.28" fill="#ff1700"/><rect x="612.3" y="343.23" width="1.8" height="3.28" fill="#ff1600"/><rect x="613.8" y="343.23" width="1.8" height="3.28" fill="#ff1500"/><rect x="615.3" y="343.23" width="1.8" height="3.28" fill="#ff1400"/><rect x="616.8" y="343.23" width="1.8" height="3.28" fill="#ff1300"/><rect x="618.3" y="343.23" width="1.8" height="3.28" fill="#ff1200"/><rect x="619.8" y="343.23" width="1.8" height="3.28" fill="#ff1200"/><rect x="621.3" y="343.23" width="1.8" height="3.28" fill="#ff1100"/><rect x="622.8" y="343.23" width="1.8" height="3.28" fill="#ff1000"/><rect x="624.3" y="343.23" width="1.8" height="3.28" fill="#ff3600"/><rect x="625.8" y="343.23" width="1.8" height="3.28" fill="#ff6c00"/><rect x="627.3" y="343.23" width="1.8" height="3.28" fill="#ff8b00"/><rect x="628.8" y="343.23" width="1.8" height="3.28" fill="#ffac00"/><rect x="630.3" y="343.23" width="1.8" height="3.28" fill="#ffd300"/><rect x="631.8" y="343.23" width="1.8" height="3.28" fill="#f6ff09"/><rect x="633.3" y="343.23" width="1.8" height="3.28" fill="#90ff6f"/><rect x="634.8" y="343.23" width="1.8" height="3.28" fill="#18ffe7"/><rect x="595.8" y="346.21" width="1.8" height="3.28" fill="#37ffc8"/><rect x="597.3" y="346.21" width="1.8" height="3.28" fill="#d4ff2b"/><rect x="598.8" y="346.21" width="1.8" height="3.28" fill="#ffec00"/><rect x="600.3" y="346.21" width="1.8" height="3.28" fill="#ffc500"/><rect x="601.8" y="346.21" width="1.8" height="3.28" fill="#ff9700"/><rect x="603.3" y="346.21" width="1.8" height="3.28" fill="#ff8000"/><rect x="604.8" y="346.21" width="1.8" height="3.28" fill="#ff7300"/><rect x="606.3" y="346.21" width="1.8" height="3.28" fill="#ff4d00"/><rect x="607.8" y="346.21" width="1.8" height="3.28" fill="#ff1900"/><rect x="609.3" y="346.21" width="1.8" height="3.28" fill="#ff1800"/><rect x="610.8" y="346.21" width="1.8" height="3.28" fill="#ff1700"/><rect x="612.3" y="346.21" width="1.8" height="3.28" fill="#ff1600"/><rect x="613.8" y="346.21" width="1.8" height="3.28" fill="#ff1500"/><rect x="615.3" y="346.21" width="1.8" height="3.28" fill="#ff1400"/><rect x="616.8" y="346.21" width="1.8" height="3.28" fill="#ff1300"/><rect x="618.3" y="346.21" width="1.8" height="3.28" fill="#ff1200"/><rect x="619.8" y="346.21" width="1.8" height="3.28" fill="#ff1200"/><rect x="621.3" y="346.21" width="1.8" height="3.28" fill="#ff1100"/><rect x="622.8" y="346.21" width="1.8" height="3.28" fill="#ff1000"/><rect x="624.3" y="346.21" width="1.8" height="3.28" fill="#ff3600"/><rect x="625.8" y="346.21" width="1.8" height="3.28" fill="#ff6c00"/><rect x="627.3" y="346.21" width="1.8" height="3.28" fill="#ff8b00"/><rect x="628.8" y="346.21" width="1.8" height="3.28" fill="#ffac00"/><rect x="630.3" y="346.21" width="1.8" height="3.28" fill="#ffd300"/><rect x="631.8" y="346.21" width="1.8" height="3.28" fill="#f6ff09"/><rect x="633.3" y="346.21" width="1.8" height="3.28" fill="#90ff6f"/><rect x="634.8" y="346.21" width="1.8" height="3.28" fill="#18ffe7"/><rect x="595.8" y="349.19" width="1.8" height="3.28" fill="#37ffc8"/><rect x="597.3" y="349.19" width="1.8" height="3.28" fill="#d4ff2b"/><rect x="598.8" y="349.19" width="1.8" height="3.28" fill="#ffec00"/><rect x="600.3" y="349.19" width="1.8" height="3.28" fill="#ffc500"/><rect x="601.8" y="349.19" width="1.8" height="3.28" fill="#ff9700"/><rect x="603.3" y="349.19" width="1.8" height="3.28" fill="#ff8000"/><rect x="604.8" y="349.19" width="1.8" height="3.28" fill="#ff7300"/><rect x="606.3" y="349.19" width="1.8" height="3.28" fill="#ff4d00"/><rect x="607.8" y="349.19" width="1.8" height="3.28" fill="#ff1900"/><rect x="609.3" y="349.19" width="1.8" height="3.28" fill="#ff1800"/><rect x="610.8" y="349.19" width="1.8" height="3.28" fill="#ff1700"/><rect x="612.3" y="349.19" width="1.8" height="3.28" fill="#ff1600"/><rect x="613.8" y="349.19" width="1.8" height="3.28" fill="#ff1500"/><rect x="615.3" y="349.19" width="1.8" height="3.28" fill="#ff1400"/><rect x="616.8" y="349.19" width="1.8" height="3.28" fill="#ff1300"/><rect x="618.3" y="349.19" width="1.8" height="3.28" fill="#ff1200"/><rect x="619.8" y="349.19" width="1.8" height="3.28" fill="#ff1200"/><rect x="621.3" y="349.19" width="1.8" height="3.28" fill="#ff1100"/><rect x="622.8" y="349.19" width="1.8" height="3.28" fill="#ff1000"/><rect x="624.3" y="349.19" width="1.8" height="3.28" fill="#ff3600"/><rect x="625.8" y="349.19" width="1.8" height="3.28" fill="#ff6c00"/><rect x="627.3" y="349.19" width="1.8" height="3.28" fill="#ff8b00"/><rect x="628.8" y="349.19" width="1.8" height="3.28" fill="#ffac00"/><rect x="630.3" y="349.19" width="1.8" height="3.28" fill="#ffd300"/><rect x="631.8" y="349.19" width="1.8" height="3.28" fill="#f6ff09"/><rect x="633.3" y="349.19" width="1.8" height="3.28" fill="#90ff6f"/><rect x="634.8" y="349.19" width="1.8" height="3.28" fill="#18ffe7"/><rect x="595.8" y="352.18" width="1.8" height="3.28" fill="#37ffc8"/><rect x="597.3" y="352.18" width="1.8" height="3.28" fill="#d4ff2b"/><rect x="598.8" y="352.18" width="1.8" height="3.28" fill="#ffec00"/><rect x="600.3" y="352.18" width="1.8" height="3.28" fill="#ffc500"/><rect x="601.8" y="352.18" width="1.8" height="3.28" fill="#ff9700"/><rect x="603.3" y="352.18" width="1.8" height="3.28" fill="#ff8000"/><rect x="604.8" y="352.18" width="1.8" height="3.28" fill="#ff7300"/><rect x="606.3" y="352.18" width="1.8" height="3.28" fill="#ff4d00"/><rect x="607.8" y="352.18" width="1.8" height="3.28" fill="#ff1900"/><rect x="609.3" y="352.18" width="1.8" height="3.28" fill="#ff1800"/><rect x="610.8" y="352.18" width="1.8" height="3.28" fill="#ff1700"/><rect x="612.3" y="352.18" width="1.8" height="3.28" fill="#ff1600"/><rect x="613.8" y="352.18" width="1.8" height="3.28" fill="#ff1500"/><rect x="615.3" y="352.18" width="1.8" height="3.28" fill="#ff1400"/><rect x="616.8" y="352.18" width="1.8" height="3.28" fill="#ff1300"/><rect x="618.3" y="352.18" width="1.8" height="3.28" fill="#ff1200"/><rect x="619.8" y="352.18" width="1.8" height="3.28" fill="#ff1100"/><rect x="621.3" y="352.18" width="1.8" height="3.28" fill="#ff1100"/><rect x="622.8" y="352.18" width="1.8" height="3.28" fill="#ff1000"/><rect x="624.3" y="352.18" width="1.8" height="3.28" fill="#ff3600"/><rect x="625.8" y="352.18" width="1.8" height="3.28" fill="#ff6c00"/><rect x="627.3" y="352.18" width="1.8" height="3.28" fill="#ff8b00"/><rect x="628.8" y="352.18" width="1.8" height="3.28" fill="#ffac00"/><rect x="630.3" y="352.18" width="1.8" height="3.28" fill="#ffd300"/><rect x="631.8" y="352.18" width="1.8" height="3.28" fill="#f6ff09"/><rect x="633.3" y="352.18" width="1.8" height="3.28" fill="#90ff6f"/><rect x="634.8" y="352.18" width="1.8" height="3.28" fill="#18ffe7"/><rect x="595.8" y="355.16" width="1.8" height="3.28" fill="#37ffc8"/><rect x="597.3" y="355.16" width="1.8" height="3.28" fill="#d4ff2b"/><rect x="598.8" y="355.16" width="1.8" height="3.28" fill="#ffec00"/><rect x="600.3" y="355.16" width="1.8" height="3.28" fill="#ffc500"/><rect x="601.8" y="355.16" width="1.8" height="3.28" fill="#ff9700"/><rect x="603.3" y="355.16" width="1.8" height="3.28" fill="#ff8100"/><rect x="604.8" y="355.16" width="1.8" height="3.28" fill="#ff7300"/><rect x="606.3" y="355.16" width="1.8" height="3.28" fill="#ff4d00"/><rect x="607.8" y="355.16" width="1.8" height="3.28" fill="#ff1900"/><rect x="609.3" y="355.16" width="1.8" height="3.28" fill="#ff1800"/><rect x="610.8" y="355.16" width="1.8" height="3.28" fill="#ff1700"/><rect x="612.3" y="355.16" width="1.8" height="3.28" fill="#ff1600"/><rect x="613.8" y="355.16" width="1.8" height="3.28" fill="#ff1500"/><rect x="615.3" y="355.16" width="1.8" height="3.28" fill="#ff1400"/><rect x="616.8" y="355.16" width="1.8" height="3.28" fill="#ff1300"/><rect x="618.3" y="355.16" width="1.8" height="3.28" fill="#ff1200"/><rect x="619.8" y="355.16" width="1.8" height="3.28" fill="#ff1100"/><rect x="621.3" y="355.16" width="1.8" height="3.28" fill="#ff1100"/><rect x="622.8" y="355.16" width="1.8" height="3.28" fill="#ff1000"/><rect x="624.3" y="355.16" width="1.8" height="3.28" fill="#ff3600"/><rect x="625.8" y="355.16" width="1.8" height="3.28" fill="#ff6c00"/><rect x="627.3" y="355.16" width="1.8" height="3.28" fill="#ff8b00"/><rect x="628.8" y="355.16" width="1.8" height="3.28" fill="#ffac00"/><rect x="630.3" y="355.16" width="1.8" height="3.28" fill="#ffd300"/><rect x="631.8" y="355.16" width="1.8" height="3.28" fill="#f6ff09"/><rect x="633.3" y="355.16" width="1.8" height="3.28" fill="#90ff6f"/><rect x="634.8" y="355.16" width="1.8" height="3.28" fill="#18ffe7"/><rect x="595.8" y="358.14" width="1.8" height="3.28" fill="#37ffc8"/><rect x="597.3" y="358.14" width="1.8" height="3.28" fill="#d4ff2b"/><rect x="598.8" y="358.14" width="1.8" height="3.28" fill="#ffec00"/><rect x="600.3" y="358.14" width="1.8" height="3.28" fill="#ffc500"/><rect x="601.8" y="358.14" width="1.8" height="3.28" fill="#ff9700"/><rect x="603.3" y="358.14" width="1.8" height="3.28" fill="#ff8100"/><rect x="604.8" y="358.14" width="1.8" height="3.28" fill="#ff7300"/><rect x="606.3" y="358.14" width="1.8" height="3.28" fill="#ff4d00"/><rect x="607.8" y="358.14" width="1.8" height="3.28" fill="#ff1900"/><rect x="609.3" y="358.14" width="1.8" height="3.28" fill="#ff1800"/><rect x="610.8" y="358.14" width="1.8" height="3.28" fill="#ff1700"/><rect x="612.3" y="358.14" width="1.8" height="3.28" fill="#ff1600"/><rect x="613.8" y="358.14" width="1.8" height="3.28" fill="#ff1500"/><rect x="615.3" y="358.14" width="1.8" height="3.28" fill="#ff1400"/><rect x="616.8" y="358.14" width="1.8" height="3.28" fill="#ff1300"/><rect x="618.3" y="358.14" width="1.8" height="3.28" fill="#ff1200"/><rect x="619.8" y="358.14" width="1.8" height="3.28" fill="#ff1100"/><rect x="621.3" y="358.14" width="1.8" height="3.28" fill="#ff1100"/><rect x="622.8" y="358.14" width="1.8" height="3.28" fill="#ff1000"/><rect x="624.3" y="358.14" width="1.8" height="3.28" fill="#ff3600"/><rect x="625.8" y="358.14" width="1.8" height="3.28" fill="#ff6c00"/><rect x="627.3" y="358.14" width="1.8" height="3.28" fill="#ff8b00"/><rect x="628.8" y="358.14" width="1.8" height="3.28" fill="#ffac00"/><rect x="630.3" y="358.14" width="1.8" height="3.28" fill="#ffd300"/><rect x="631.8" y="358.14" width="1.8" height="3.28" fill="#f6ff09"/><rect x="633.3" y="358.14" width="1.8" height="3.28" fill="#90ff6f"/><rect x="634.8" y="358.14" width="1.8" height="3.28" fill="#18ffe7"/><rect x="595.8" y="361.13" width="1.8" height="3.28" fill="#37ffc8"/><rect x="597.3" y="361.13" width="1.8" height="3.28" fill="#d4ff2b"/><rect x="598.8" y="361.13" width="1.8" height="3.28" fill="#ffec00"/><rect x="600.3" y="361.13" width="1.8" height="3.28" fill="#ffc500"/><rect x="601.8" y="361.13" width="1.8" height="3.28" fill="#ff9700"/><rect x="603.3" y="361.13" width="1.8" height="3.28" fill="#ff8100"/><rect x="604.8" y="361.13" width="1.8" height="3.28" fill="#ff7300"/><rect x="606.3" y="361.13" width="1.8" height="3.28" fill="#ff4d00"/><rect x="607.8" y="361.13" width="1.8" height="3.28" fill="#ff1900"/><rect x="609.3" y="361.13" width="1.8" height="3.28" fill="#ff1800"/><rect x="610.8" y="361.13" width="1.8" height="3.28" fill="#ff1700"/><rect x="612.3" y="361.13" width="1.8" height="3.28" fill="#ff1600"/><rect x="613.8" y="361.13" width="1.8" height="3.28" fill="#ff1500"/><rect x="615.3" y="361.13" width="1.8" height="3.28" fill="#ff1400"/><rect x="616.8" y="361.13" width="1.8" height="3.28" fill="#ff1300"/><rect x="618.3" y="361.13" width="1.8" height="3.28" fill="#ff1200"/><rect x="619.8" y="361.13" width="1.8" height="3.28" fill="#ff1100"/><rect x="621.3" y="361.13" width="1.8" height="3.28" fill="#ff1100"/><rect x="622.8" y="361.13" width="1.8" height="3.28" fill="#ff1000"/><rect x="624.3" y="361.13" width="1.8" height="3.28" fill="#ff3600"/><rect x="625.8" y="361.13" width="1.8" height="3.28" fill="#ff6c00"/><rect x="627.3" y="361.13" width="1.8" height="3.28" fill="#ff8b00"/><rect x="628.8" y="361.13" width="1.8" height="3.28" fill="#ffac00"/><rect x="630.3" y="361.13" width="1.8" height="3.28" fill="#ffd300"/><rect x="631.8" y="361.13" width="1.8" height="3.28" fill="#f6ff09"/><rect x="633.3" y="361.13" width="1.8" height="3.28" fill="#90ff6f"/><rect x="634.8" y="361.13" width="1.8" height="3.28" fill="#18ffe7"/><rect x="595.8" y="364.11" width="1.8" height="3.28" fill="#37ffc8"/><rect x="597.3" y="364.11" width="1.8" height="3.28" fill="#d4ff2b"/><rect x="598.8" y="364.11" width="1.8" height="3.28" fill="#ffec00"/><rect x="600.3" y="364.11" width="1.8" height="3.28" fill="#ffc500"/><rect x="601.8" y="364.11" width="1.8" height="3.28" fill="#ff9700"/><rect x="603.3" y="364.11" width="1.8" height="3.28" fill="#ff8100"/><rect x="604.8" y="364.11" width="1.8" height="3.28" fill="#ff7300"/><rect x="606.3" y="364.11" width="1.8" height="3.28" fill="#ff4d00"/><rect x="607.8" y="364.11" width="1.8" height="3.28" fill="#ff1900"/><rect x="609.3" y="364.11" width="1.8" height="3.28" fill="#ff1800"/><rect x="610.8" y="364.11" width="1.8" height="3.28" fill="#ff1700"/><rect x="612.3" y="364.11" width="1.8" height="3.28" fill="#ff1600"/><rect x="613.8" y="364.11" width="1.8" height="3.28" fill="#ff1500"/><rect x="615.3" y="364.11" width="1.8" height="3.28" fill="#ff1400"/><rect x="616.8" y="364.11" width="1.8" height="3.28" fill="#ff1300"/><rect x="618.3" y="364.11" width="1.8" height="3.28" fill="#ff1200"/><rect x="619.8" y="364.11" width="1.8" height="3.28" fill="#ff1100"/><rect x="621.3" y="364.11" width="1.8" height="3.28" fill="#ff1100"/><rect x="622.8" y="364.11" width="1.8" height="3.28" fill="#ff1000"/><rect x="624.3" y="364.11" width="1.8" height="3.28" fill="#ff3600"/><rect x="625.8" y="364.11" width="1.8" height="3.28" fill="#ff6c00"/><rect x="627.3" y="364.11" width="1.8" height="3.28" fill="#ff8b00"/><rect x="628.8" y="364.11" width="1.8" height="3.28" fill="#ffac00"/><rect x="630.3" y="364.11" width="1.8" height="3.28" fill="#ffd300"/><rect x="631.8" y="364.11" width="1.8" height="3.28" fill="#f6ff09"/><rect x="633.3" y="364.11" width="1.8" height="3.28" fill="#90ff6f"/><rect x="634.8" y="364.11" width="1.8" height="3.28" fill="#18ffe7"/><rect x="595.8" y="367.1" width="1.8" height="3.28" fill="#37ffc8"/><rect x="597.3" y="367.1" width="1.8" height="3.28" fill="#d4ff2b"/><rect x="598.8" y="367.1" width="1.8" height="3.28" fill="#ffec00"/><rect x="600.3" y="367.1" width="1.8" height="3.28" fill="#ffc500"/><rect x="601.8" y="367.1" width="1.8" height="3.28" fill="#ff9700"/><rect x="603.3" y="367.1" width="1.8" height="3.28" fill="#ff8100"/><rect x="604.8" y="367.1" width="1.8" height="3.28" fill="#ff7300"/><rect x="606.3" y="367.1" width="1.8" height="3.28" fill="#ff4d00"/><rect x="607.8" y="367.1" width="1.8" height="3.28" fill="#ff1900"/><rect x="609.3" y="367.1" width="1.8" height="3.28" fill="#ff1800"/><rect x="610.8" y="367.1" width="1.8" height="3.28" fill="#ff1700"/><rect x="612.3" y="367.1" width="1.8" height="3.28" fill="#ff1600"/><rect x="613.8" y="367.1" width="1.8" height="3.28" fill="#ff1500"/><rect x="615.3" y="367.1" width="1.8" height="3.28" fill="#ff1400"/><rect x="616.8" y="367.1" width="1.8" height="3.28" fill="#ff1300"/><rect x="618.3" y="367.1" width="1.8" height="3.28" fill="#ff1200"/><rect x="619.8" y="367.1" width="1.8" height="3.28" fill="#ff1100"/><rect x="621.3" y="367.1" width="1.8" height="3.28" fill="#ff1100"/><rect x="622.8" y="367.1" width="1.8" height="3.28" fill="#ff1000"/><rect x="624.3" y="367.1" width="1.8" height="3.28" fill="#ff3600"/><rect x="625.8" y="367.1" width="1.8" height="3.28" fill="#ff6c00"/><rect x="627.3" y="367.1" width="1.8" height="3.28" fill="#ff8b00"/><rect x="628.8" y="367.1" width="1.8" height="3.28" fill="#ffac00"/><rect x="630.3" y="367.1" width="1.8" height="3.28" fill="#ffd300"/><rect x="631.8" y="367.1" width="1.8" height="3.28" fill="#f6ff09"/><rect x="633.3" y="367.1" width="1.8" height="3.28" fill="#90ff6f"/><rect x="634.8" y="367.1" width="1.8" height="3.28" fill="#18ffe7"/><rect x="595.8" y="370.08" width="1.8" height="3.28" fill="#37ffc8"/><rect x="597.3" y="370.08" width="1.8" height="3.28" fill="#d4ff2b"/><rect x="598.8" y="370.08" width="1.8" height="3.28" fill="#ffec00"/><rect x="600.3" y="370.08" width="1.8" height="3.28" fill="#ffc500"/><rect x="601.8" y="370.08" width="1.8" height="3.28" fill="#ff9700"/><rect x="603.3" y="370.08" width="1.8" height="3.28" fill="#ff8100"/><rect x="604.8" y="370.08" width="1.8" height="3.28" fill="#ff7300"/><rect x="606.3" y="370.08" width="1.8" height="3.28" fill="#ff4d00"/><rect x="607.8" y="370.08" width="1.8" height="3.28" fill="#ff1900"/><rect x="609.3" y="370.08" width="1.8" height="3.28" fill="#ff1800"/><rect x="610.8" y="370.08" width="1.8" height="3.28" fill="#ff1700"/><rect x="612.3" y="370.08" width="1.8" height="3.28" fill="#ff1600"/><rect x="613.8" y="370.08" width="1.8" height="3.28" fill="#ff1500"/><rect x="615.3" y="370.08" width="1.8" height="3.28" fill="#ff1400"/><rect x="616.8" y="370.08" width="1.8" height="3.28" fill="#ff1300"/><rect x="618.3" y="370.08" width="1.8" height="3.28" fill="#ff1200"/><rect x="619.8" y="370.08" width="1.8" height="3.28" fill="#ff1100"/><rect x="621.3" y="370.08" width="1.8" height="3.28" fill="#ff1100"/><rect x="622.8" y="370.08" width="1.8" height="3.28" fill="#ff1000"/><rect x="624.3" y="370.08" width="1.8" height="3.28" fill="#ff3600"/><rect x="625.8" y="370.08" width="1.8" height="3.28" fill="#ff6c00"/><rect x="627.3" y="370.08" width="1.8" height="3.28" fill="#ff8b00"/><rect x="628.8" y="370.08" width="1.8" height="3.28" fill="#ffac00"/><rect x="630.3" y="370.08" width="1.8" height="3.28" fill="#ffd300"/><rect x="631.8" y="370.08" width="1.8" height="3.28" fill="#f7ff08"/><rect x="633.3" y="370.08" width="1.8" height="3.28" fill="#90ff6f"/><rect x="634.8" y="370.08" width="1.8" height="3.28" fill="#18ffe7"/><rect x="595.8" y="373.06" width="1.8" height="3.28" fill="#37ffc8"/><rect x="597.3" y="373.06" width="1.8" height="3.28" fill="#d4ff2b"/><rect x="598.8" y="373.06" width="1.8" height="3.28" fill="#ffec00"/><rect x="600.3" y="373.06" width="1.8" height="3.28" fill="#ffc500"/><rect x="601.8" y="373.06" width="1.8" height="3.28" fill="#ff9700"/><rect x="603.3" y="373.06" width="1.8" height="3.28" fill="#ff8100"/><rect x="604.8" y="373.06" width="1.8" height="3.28" fill="#ff7300"/><rect x="606.3" y="373.06" width="1.8" height="3.28" fill="#ff4d00"/><rect x="607.8" y="373.06" width="1.8" height="3.28" fill="#ff1900"/><rect x="609.3" y="373.06" width="1.8" height="3.28" fill="#ff1800"/><rect x="610.8" y="373.06" width="1.8" height="3.28" fill="#ff1700"/><rect x="612.3" y="373.06" width="1.8" height="3.28" fill="#ff1600"/><rect x="613.8" y="373.06" width="1.8" height="3.28" fill="#ff1500"/><rect x="615.3" y="373.06" width="1.8" height="3.28" fill="#ff1400"/><rect x="616.8" y="373.06" width="1.8" height="3.28" fill="#ff1300"/><rect x="618.3" y="373.06" width="1.8" height="3.28" fill="#ff1200"/><rect x="619.8" y="373.06" width="1.8" height="3.28" fill="#ff1100"/><rect x="621.3" y="373.06" width="1.8" height="3.28" fill="#ff1100"/><rect x="622.8" y="373.06" width="1.8" height="3.28" fill="#ff1000"/><rect x="624.3" y="373.06" width="1.8" height="3.28" fill="#ff3600"/><rect x="625.8" y="373.06" width="1.8" height="3.28" fill="#ff6c00"/><rect x="627.3" y="373.06" width="1.8" height="3.28" fill="#ff8b00"/><rect x="628.8" y="373.06" width="1.8" height="3.28" fill="#ffac00"/><rect x="630.3" y="373.06" width="1.8" height="3.28" fill="#ffd300"/><rect x="631.8" y="373.06" width="1.8" height="3.28" fill="#f7ff08"/><rect x="633.3" y="373.06" width="1.8" height="3.28" fill="#90ff6f"/><rect x="634.8" y="373.06" width="1.8" height="3.28" fill="#18ffe7"/><rect x="595.8" y="376.05" width="1.8" height="3.28" fill="#37ffc8"/><rect x="597.3" y="376.05" width="1.8" height="3.28" fill="#d4ff2b"/><rect x="598.8" y="376.05" width="1.8" height="3.28" fill="#ffec00"/><rect x="600.3" y="376.05" width="1.8" height="3.28" fill="#ffc500"/><rect x="601.8" y="376.05" width="1.8" height="3.28" fill="#ff9700"/><rect x="603.3" y="376.05" width="1.8" height="3.28" fill="#ff8100"/><rect x="604.8" y="376.05" width="1.8" height="3.28" fill="#ff7300"/><rect x="606.3" y="376.05" width="1.8" height="3.28" fill="#ff4d00"/><rect x="607.8" y="376.05" width="1.8" height="3.28" fill="#ff1900"/><rect x="609.3" y="376.05" width="1.8" height="3.28" fill="#ff1800"/><rect x="610.8" y="376.05" width="1.8" height="3.28" fill="#ff1700"/><rect x="612.3" y="376.05" width="1.8" height="3.28" fill="#ff1600"/><rect x="613.8" y="376.05" width="1.8" height="3.28" fill="#ff1500"/><rect x="615.3" y="376.05" width="1.8" height="3.28" fill="#ff1400"/><rect x="616.8" y="376.05" width="1.8" height="3.28" fill="#ff1300"/><rect x="618.3" y="376.05" width="1.8" height="3.28" fill="#ff1200"/><rect x="619.8" y="376.05" width="1.8" height="3.28" fill="#ff1100"/><rect x="621.3" y="376.05" width="1.8" height="3.28" fill="#ff1100"/><rect x="622.8" y="376.05" width="1.8" height="3.28" fill="#ff1000"/><rect x="624.3" y="376.05" width="1.8" height="3.28" fill="#ff3600"/><rect x="625.8" y="376.05" width="1.8" height="3.28" fill="#ff6c00"/><rect x="627.3" y="376.05" width="1.8" height="3.28" fill="#ff8b00"/><rect x="628.8" y="376.05" width="1.8" height="3.28" fill="#ffac00"/><rect x="630.3" y="376.05" width="1.8" height="3.28" fill="#ffd300"/><rect x="631.8" y="376.05" width="1.8" height="3.28" fill="#f7ff08"/><rect x="633.3" y="376.05" width="1.8" height="3.28" fill="#90ff6f"/><rect x="634.8" y="376.05" width="1.8" height="3.28" fill="#18ffe7"/><rect x="595.8" y="379.03" width="1.8" height="3.28" fill="#37ffc8"/><rect x="597.3" y="379.03" width="1.8" height="3.28" fill="#d4ff2b"/><rect x="598.8" y="379.03" width="1.8" height="3.28" fill="#ffec00"/><rect x="600.3" y="379.03" width="1.8" height="3.28" fill="#ffc500"/><rect x="601.8" y="379.03" width="1.8" height="3.28" fill="#ff9700"/><rect x="603.3" y="379.03" width="1.8" height="3.28" fill="#ff8100"/><rect x="604.8" y="379.03" width="1.8" height="3.28" fill="#ff7300"/><rect x="606.3" y="379.03" width="1.8" height="3.28" fill="#ff4d00"/><rect x="607.8" y="379.03" width="1.8" height="3.28" fill="#ff1900"/><rect x="609.3" y="379.03" width="1.8" height="3.28" fill="#ff1800"/><rect x="610.8" y="379.03" width="1.8" height="3.28" fill="#ff1700"/><rect x="612.3" y="379.03" width="1.8" height="3.28" fill="#ff1600"/><rect x="613.8" y="379.03" width="1.8" height="3.28" fill="#ff1500"/><rect x="615.3" y="379.03" width="1.8" height="3.28" fill="#ff1400"/><rect x="616.8" y="379.03" width="1.8" height="3.28" fill="#ff1300"/><rect x="618.3" y="379.03" width="1.8" height="3.28" fill="#ff1200"/><rect x="619.8" y="379.03" width="1.8" height="3.28" fill="#ff1100"/><rect x="621.3" y="379.03" width="1.8" height="3.28" fill="#ff1100"/><rect x="622.8" y="379.03" width="1.8" height="3.28" fill="#ff1000"/><rect x="624.3" y="379.03" width="1.8" height="3.28" fill="#ff3600"/><rect x="625.8" y="379.03" width="1.8" height="3.28" fill="#ff6c00"/><rect x="627.3" y="379.03" width="1.8" height="3.28" fill="#ff8b00"/><rect x="628.8" y="379.03" width="1.8" height="3.28" fill="#ffac00"/><rect x="630.3" y="379.03" width="1.8" height="3.28" fill="#ffd300"/><rect x="631.8" y="379.03" width="1.8" height="3.28" fill="#f7ff08"/><rect x="633.3" y="379.03" width="1.8" height="3.28" fill="#90ff6f"/><rect x="634.8" y="379.03" width="1.8" height="3.28" fill="#18ffe7"/><rect x="595.8" y="382.02" width="1.8" height="3.28" fill="#37ffc8"/><rect x="597.3" y="382.02" width="1.8" height="3.28" fill="#d4ff2b"/><rect x="598.8" y="382.02" width="1.8" height="3.28" fill="#ffec00"/><rect x="600.3" y="382.02" width="1.8" height="3.28" fill="#ffc500"/><rect x="601.8" y="382.02" width="1.8" height="3.28" fill="#ff9700"/><rect x="603.3" y="382.02" width="1.8" height="3.28" fill="#ff8100"/><rect x="604.8" y="382.02" width="1.8" height="3.28" fill="#ff7300"/><rect x="606.3" y="382.02" width="1.8" height="3.28" fill="#ff4d00"/><rect x="607.8" y="382.02" width="1.8" height="3.28" fill="#ff1900"/><rect x="609.3" y="382.02" width="1.8" height="3.28" fill="#ff1800"/><rect x="610.8" y="382.02" width="1.8" height="3.28" fill="#ff1700"/><rect x="612.3" y="382.02" width="1.8" height="3.28" fill="#ff1600"/><rect x="613.8" y="382.02" width="1.8" height="3.28" fill="#ff1500"/><rect x="615.3" y="382.02" width="1.8" height="3.28" fill="#ff1400"/><rect x="616.8" y="382.02" width="1.8" height="3.28" fill="#ff1300"/><rect x="618.3" y="382.02" width="1.8" height="3.28" fill="#ff1200"/><rect x="619.8" y="382.02" width="1.8" height="3.28" fill="#ff1100"/><rect x="621.3" y="382.02" width="1.8" height="3.28" fill="#ff1100"/><rect x="622.8" y="382.02" width="1.8" height="3.28" fill="#ff1000"/><rect x="624.3" y="382.02" width="1.8" height="3.28" fill="#ff3600"/><rect x="625.8" y="382.02" width="1.8" height="3.28" fill="#ff6c00"/><rect x="627.3" y="382.02" width="1.8" height="3.28" fill="#ff8b00"/><rect x="628.8" y="382.02" width="1.8" height="3.28" fill="#ffac00"/><rect x="630.3" y="382.02" width="1.8" height="3.28" fill="#ffd300"/><rect x="631.8" y="382.02" width="1.8" height="3.28" fill="#f7ff08"/><rect x="633.3" y="382.02" width="1.8" height="3.28" fill="#90ff6f"/><rect x="634.8" y="382.02" width="1.8" height="3.28" fill="#18ffe7"/></g>
<rect x="590.8" y="212.9" width="5" height="177.1" fill="#fff"/>
<rect x="636.3" y="212.9" width="5" height="177.1" fill="#fff"/>
<rect x="590.8" y="212.9" width="50.5" height="5" fill="#fff"/>
<rect x="590.8" y="385" width="50.5" height="5" fill="#fff"/>
<path d="M599.5,218.4V384.5M604.2,218.4V384.5M608.9,218.4V384.5M613.6,218.4V384.5M618.3,218.4V384.5M623,218.4V384.5M627.7,218.4V384.5M632.4,218.4V384.5" stroke="#000" stroke-width="0.8" opacity="0.25"/>
<path d="M599.5,218.4V384.5M604.2,218.4V384.5M608.9,218.4V384.5M613.6,218.4V384.5M618.3,218.4V384.5M623,218.4V384.5M627.7,218.4V384.5M632.4,218.4V384.5" stroke="#000" stroke-width="1.1" stroke-dasharray="1.8 2.7" opacity="0.85"/>
<rect x="542.7" y="285.4" width="46.4" height="23.3" fill="none" stroke="#000" stroke-width="1.6" stroke-dasharray="7.1 5.58" stroke-dashoffset="11.07"/>
<rect x="593.1" y="285.4" width="46.3" height="23.3" fill="none" stroke="#000" stroke-width="1.6" stroke-dasharray="7.09 5.57" stroke-dashoffset="11.05"/>
<text x="596.7" y="405" font-size="11.5" text-anchor="middle" font-weight="bold" >Channel 1</text>
<rect x="675.7" y="211.1" width="8.2" height="176.1" fill="url(#cbar)" stroke="#333" stroke-width="0.3"/>
<path d="M675.7,363.78h1.6M675.7,341.95h1.6M675.7,320.12h1.6M675.7,298.3h1.6M675.7,276.48h1.6M675.7,254.65h1.6M675.7,232.82h1.6" stroke="#333" stroke-width="0.7"/>
<text x="656.3" y="388.9" font-size="9.8" text-anchor="middle" font-weight="bold" >0</text>
<text x="656.3" y="367.08" font-size="9.8" text-anchor="middle" font-weight="bold" >0.0002</text>
<text x="656.3" y="345.25" font-size="9.8" text-anchor="middle" font-weight="bold" >0.0004</text>
<text x="656.3" y="323.43" font-size="9.8" text-anchor="middle" font-weight="bold" >0.0006</text>
<text x="656.3" y="301.6" font-size="9.8" text-anchor="middle" font-weight="bold" >0.0008</text>
<text x="656.3" y="279.78" font-size="9.8" text-anchor="middle" font-weight="bold" >0.0010</text>
<text x="656.3" y="257.95" font-size="9.8" text-anchor="middle" font-weight="bold" >0.0012</text>
<text x="656.3" y="236.12" font-size="9.8" text-anchor="middle" font-weight="bold" >0.0014</text>
<text x="656.3" y="214.3" font-size="9.8" text-anchor="middle" font-weight="bold" >0.0016</text>
</svg></body></html>
